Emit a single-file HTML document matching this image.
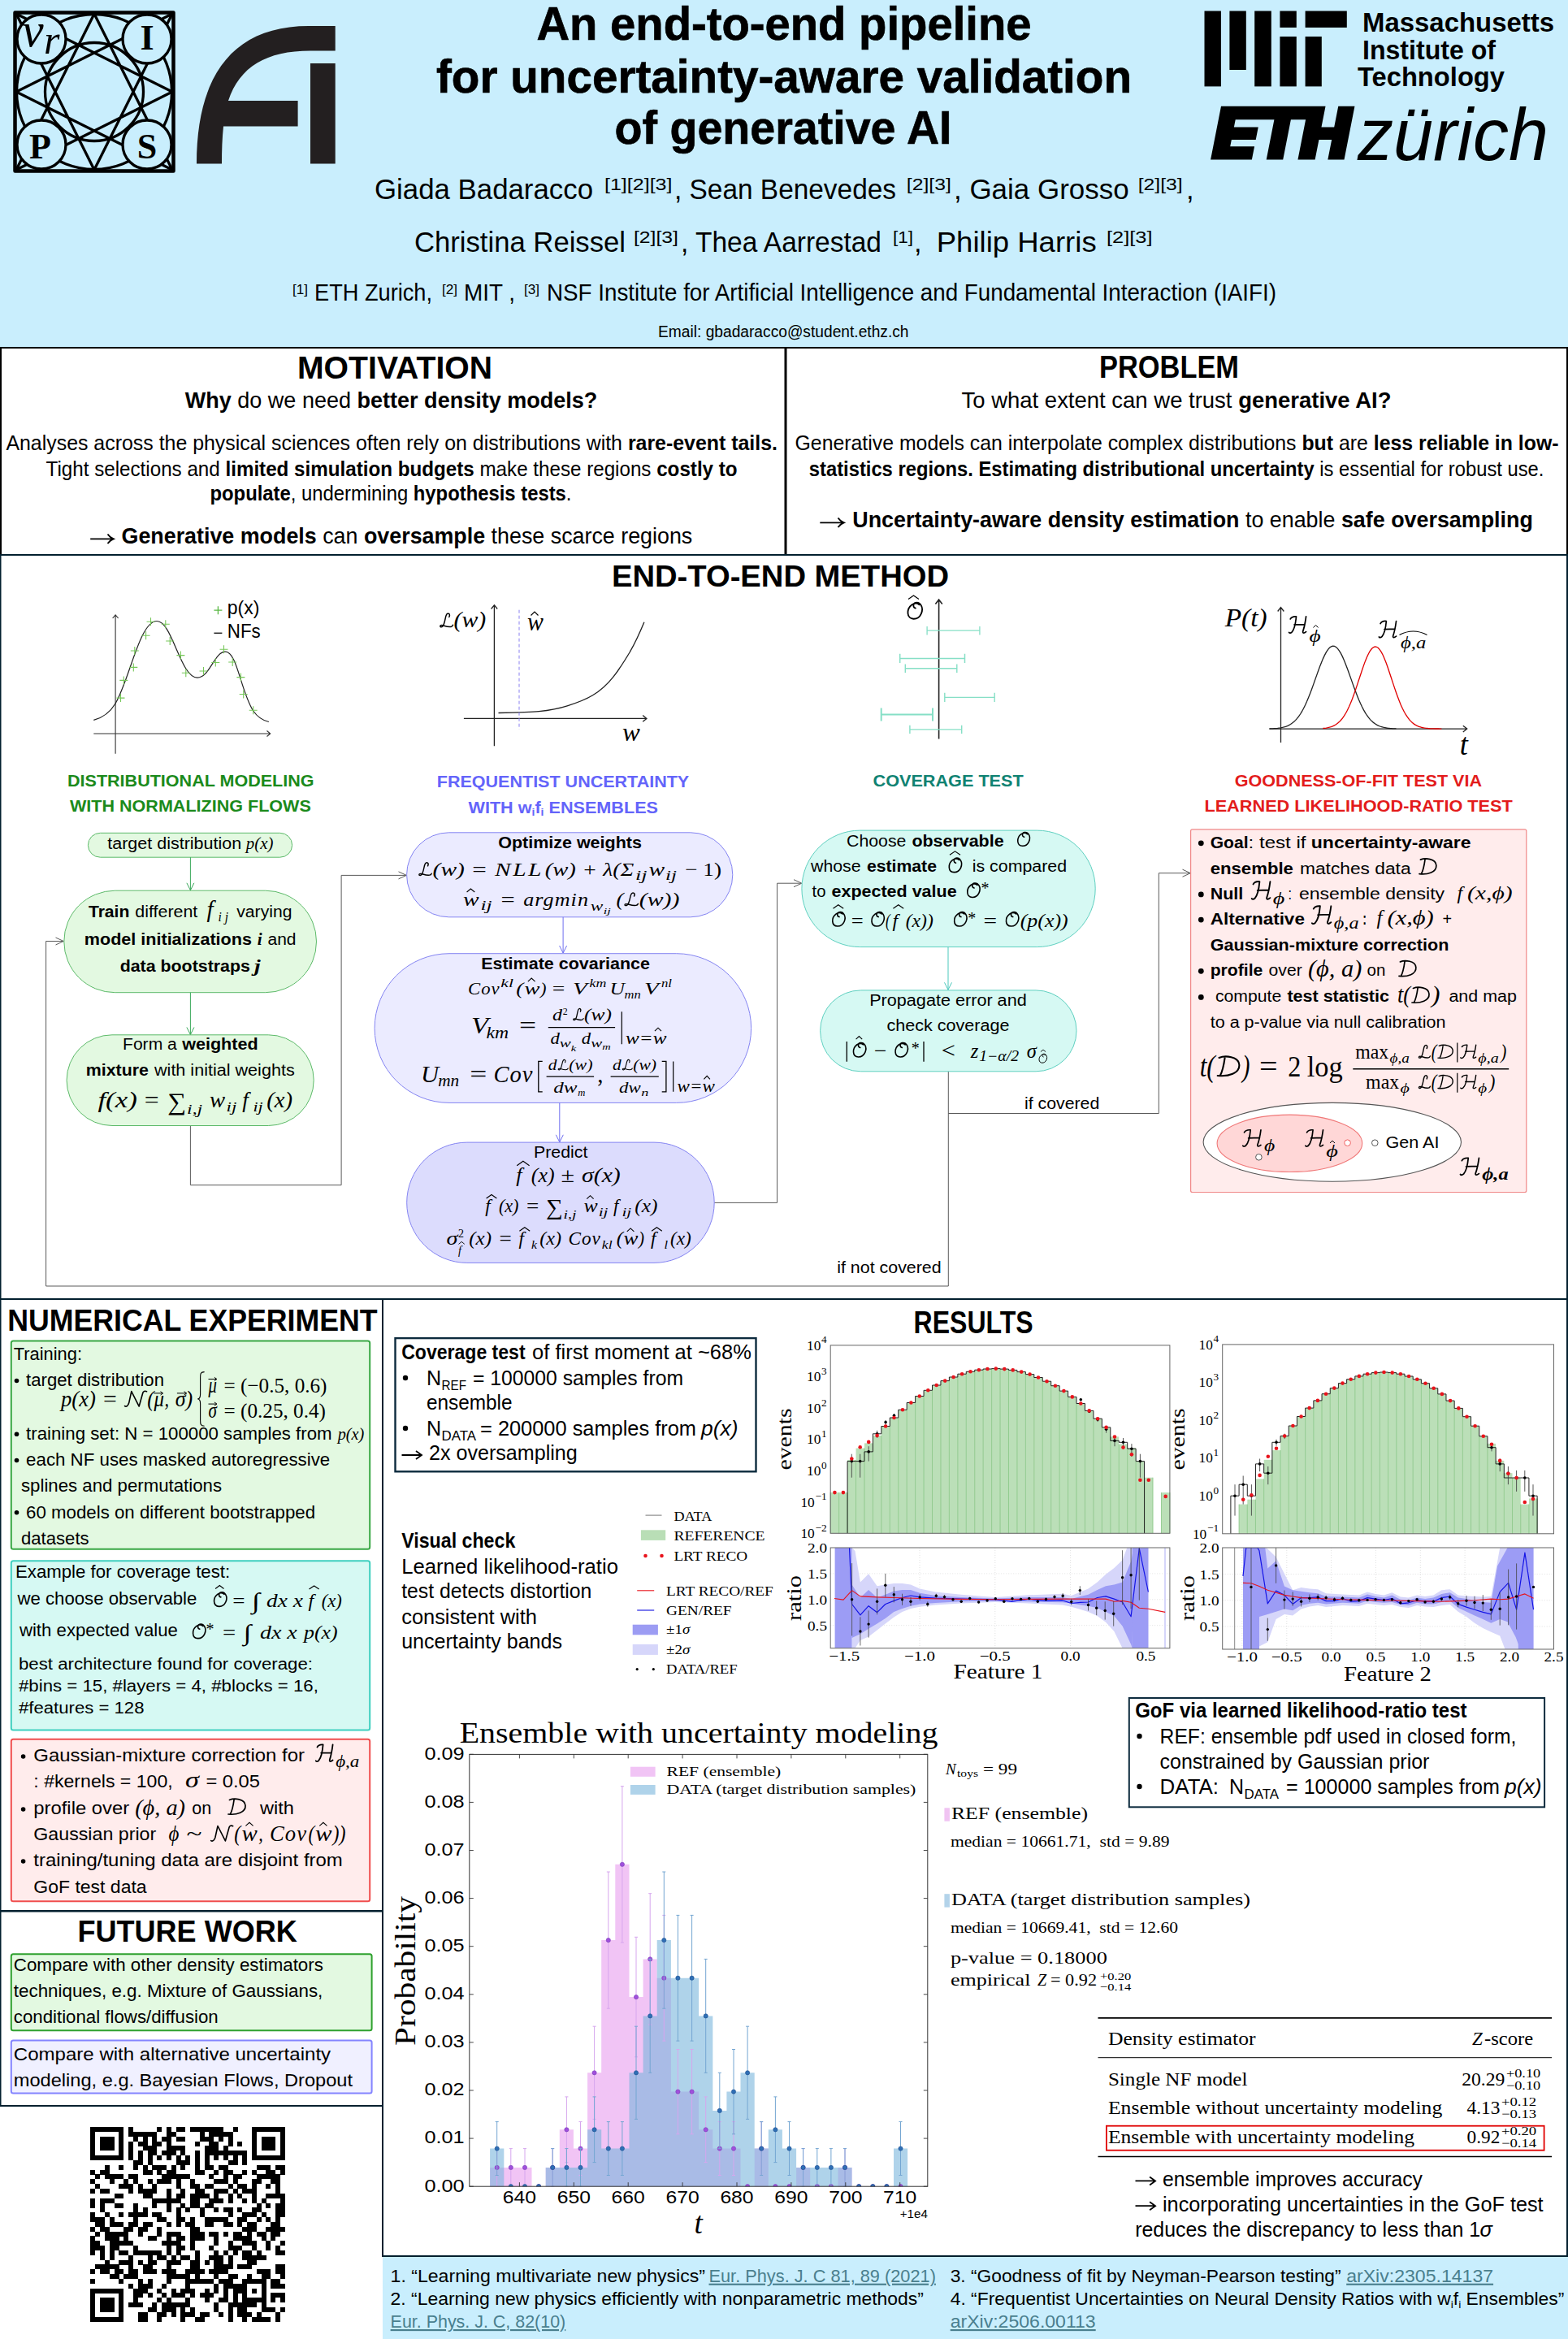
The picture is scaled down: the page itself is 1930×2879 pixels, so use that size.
<!DOCTYPE html>
<html lang="en"><head><meta charset="utf-8"><title>An end-to-end pipeline for uncertainty-aware validation of generative AI</title>
<style>
html,body{margin:0;padding:0;background:#fff;}
body{width:1930px;height:2879px;overflow:hidden;font-family:"Liberation Sans",sans-serif;}
svg{display:block;position:absolute;left:0;top:0;}
svg text{white-space:pre;}
.s{font-family:"Liberation Sans",sans-serif;}
.r{font-family:"Liberation Serif",serif;}
.ri{font-family:"Liberation Serif",serif;font-style:italic;}
.b{font-weight:bold;}
.i{font-style:italic;}
</style></head><body>
<svg width="1930" height="2879" viewBox="0 0 1930 2879" class="s">
<!-- 00_frame.svg -->
<rect x="0" y="0" width="1930" height="2879" fill="#ffffff"/>
<rect x="0" y="0" width="1930" height="428" fill="#c9eefd"/>
<rect x="471" y="2777" width="1459" height="102" fill="#c9eefd"/>
<!-- borders -->
<g fill="#000">
<rect x="0" y="427" width="1930" height="2"/>
<rect x="965.5" y="427" width="3" height="256"/>
<rect x="0" y="427" width="2" height="256"/>
<rect x="1928" y="427" width="2" height="256"/>
</g>
<g fill="#03202f">
<rect x="0" y="682" width="1930" height="2"/>
<rect x="0" y="1598" width="1930" height="2"/>
<rect x="0" y="682" width="1.5" height="1911"/>
<rect x="1928" y="682" width="2" height="2096"/>
<rect x="470" y="1598" width="2" height="1180"/>
<rect x="0" y="2351" width="471" height="2.5"/>
<rect x="0" y="2591" width="471" height="2"/>
<rect x="471" y="2776" width="1459" height="2"/>
</g>

<!-- 10_header.svg -->
<!-- NuPhys logo -->
<g fill="none" stroke="#000" stroke-width="3.3" stroke-linejoin="round">
<rect x="18.5" y="15.5" width="195" height="195" stroke-width="4.5"/>
<circle cx="116" cy="113" r="95.5"/>
<circle cx="116" cy="113" r="60.5"/>
<path d="M116,17 L20,209 M116,17 L212,209 M116,209 L20,17 M116,209 L212,17 M20,113 L212,17 M20,113 L212,209 M212,113 L20,17 M212,113 L20,209"/>
</g>
<g fill="#c9eefd" stroke="#000" stroke-width="3.3">
<circle cx="51" cy="48" r="30"/><circle cx="181" cy="48" r="30"/><circle cx="51" cy="178" r="30"/><circle cx="181" cy="178" r="30"/>
</g>
<text x="27" y="56.5" class="ri" font-size="60">ν</text>
<text x="54" y="66" class="ri" font-size="50">r</text>
<text x="181" y="61" class="r b" font-size="44" text-anchor="middle">I</text>
<text x="49.5" y="195.2" class="r b" font-size="44" text-anchor="middle">P</text>
<text x="181" y="195.2" class="r b" font-size="44" text-anchor="middle">S</text>
<!-- FI logo -->
<path fill="#231f20" d="M242,201.5 C242,95 285,32 380,32 L412.7,32 L412.7,62.5 L382,62.5 C328,62.5 295,82 281,124 L366.6,124 L366.6,155.5 L275,155.5 C273.5,170 273,185 273,201.5 Z"/>
<rect fill="#231f20" x="382" y="78" width="30.7" height="123.5"/>
<!-- MIT logo -->
<g fill="#000">
<rect x="1482.5" y="13.5" width="20.4" height="92.9"/>
<rect x="1513.4" y="13.5" width="20.4" height="72.5"/>
<rect x="1544.2" y="13.5" width="20.6" height="92.9"/>
<rect x="1575.4" y="13.5" width="20.4" height="20.4"/>
<rect x="1575.4" y="45" width="20.4" height="61.4"/>
<rect x="1606.6" y="13.5" width="51.2" height="20.4"/>
<rect x="1606.6" y="45" width="20.2" height="61.4"/>
</g>
<g class="b" font-size="33.5" fill="#000">
<text x="1677" y="39" textLength="236" lengthAdjust="spacingAndGlyphs">Massachusetts</text>
<text x="1677" y="72.5" textLength="164" lengthAdjust="spacingAndGlyphs">Institute of</text>
<text x="1671" y="106.3" textLength="181" lengthAdjust="spacingAndGlyphs">Technology</text>
</g>
<!-- ETH logo -->
<g transform="translate(1480,120) scale(0.28062)">
<path fill="#000" transform="matrix(1 0 -0.196 1 7.45 0)" d="M82,38 H540 V130 H596 V38 H668 V273 H596 V185 H540 V273 H464.6 V97 H399.6 V273 H326.6 V97 H156.6 V130 H263 V185 H156.6 V215 H263 V273 H82 Z"/>
</g>
<text x="1671" y="196.6" class="i" font-size="90" textLength="235" lengthAdjust="spacingAndGlyphs">zürich</text>
<!-- Title -->
<g class="b" font-size="58" text-anchor="middle" fill="#000" stroke="#000" stroke-width="0.7">
<text x="965" y="48.8" textLength="609" lengthAdjust="spacingAndGlyphs">An end-to-end pipeline</text>
<text x="965" y="113.7" textLength="856" lengthAdjust="spacingAndGlyphs">for uncertainty-aware validation</text>
<text x="964" y="176.8" textLength="415" lengthAdjust="spacingAndGlyphs">of generative AI</text>
</g>

<!-- 11_header_text.svg -->
<!-- Authors -->
<g font-size="34.5" fill="#000">
<text x="461" y="244.8" textLength="269" lengthAdjust="spacingAndGlyphs">Giada Badaracco</text>
<text x="744" y="233.8" font-size="20.5" textLength="83.5" lengthAdjust="spacingAndGlyphs">[1][2][3]</text>
<text x="830" y="244.8" textLength="273" lengthAdjust="spacingAndGlyphs">, Sean Benevedes</text>
<text x="1115.8" y="233.8" font-size="20.5" textLength="55" lengthAdjust="spacingAndGlyphs">[2][3]</text>
<text x="1174" y="244.8" textLength="215.6" lengthAdjust="spacingAndGlyphs">, Gaia Grosso</text>
<text x="1400.7" y="233.8" font-size="20.5" textLength="55" lengthAdjust="spacingAndGlyphs">[2][3]</text>
<text x="1460" y="244.8">,</text>
<text x="510" y="310.4" textLength="260" lengthAdjust="spacingAndGlyphs">Christina Reissel</text>
<text x="780" y="299.4" font-size="20.5" textLength="55" lengthAdjust="spacingAndGlyphs">[2][3]</text>
<text x="838" y="310.4" textLength="247" lengthAdjust="spacingAndGlyphs">, Thea Aarrestad</text>
<text x="1099" y="299.4" font-size="20.5" textLength="25" lengthAdjust="spacingAndGlyphs">[1]</text>
<text x="1125" y="310.4">,</text>
<text x="1152.7" y="310.4" textLength="197" lengthAdjust="spacingAndGlyphs">Philip Harris</text>
<text x="1362" y="299.4" font-size="20.5" textLength="56.5" lengthAdjust="spacingAndGlyphs">[2][3]</text>
</g>
<!-- Affiliations -->
<g font-size="29.5" fill="#000">
<text x="360" y="361.7" font-size="16.5" textLength="19" lengthAdjust="spacingAndGlyphs">[1]</text>
<text x="387" y="370" textLength="145" lengthAdjust="spacingAndGlyphs">ETH Zurich,</text>
<text x="544" y="361.7" font-size="16.5" textLength="19" lengthAdjust="spacingAndGlyphs">[2]</text>
<text x="571" y="370" textLength="63" lengthAdjust="spacingAndGlyphs">MIT ,</text>
<text x="645" y="361.7" font-size="16.5" textLength="19" lengthAdjust="spacingAndGlyphs">[3]</text>
<text x="673" y="370" textLength="898" lengthAdjust="spacingAndGlyphs">NSF Institute for Artificial Intelligence and Fundamental Interaction (IAIFI)</text>
</g>
<text x="810" y="414.7" font-size="19.5" textLength="308.5" lengthAdjust="spacingAndGlyphs">Email: gbadaracco@student.ethz.ch</text>

<!-- 20_motivation.svg -->
<g fill="#000">
<text x="486" y="466" font-size="38.5" class="b" text-anchor="middle" textLength="240" lengthAdjust="spacingAndGlyphs">MOTIVATION</text>
<text x="227.7" y="501.8" font-size="28" textLength="507.7" lengthAdjust="spacingAndGlyphs"><tspan class="b">Why</tspan> do we need <tspan class="b">better density models?</tspan></text>
<g font-size="25.5">
<text x="7.4" y="554" textLength="949.6" lengthAdjust="spacingAndGlyphs">Analyses across the physical sciences often rely on distributions with <tspan class="b">rare-event tails.</tspan></text>
<text x="56.6" y="586" textLength="851" lengthAdjust="spacingAndGlyphs">Tight selections and <tspan class="b">limited simulation budgets</tspan> make these regions <tspan class="b">costly to</tspan></text>
<text x="258.5" y="615.7" textLength="445" lengthAdjust="spacingAndGlyphs"><tspan class="b">populate</tspan>, undermining <tspan class="b">hypothesis tests</tspan>.</text>
</g>
<path d="M111.2,663.3 H139 M132.5,657.6 Q135,661.5 139.8,663.3 Q135,665.1 132.5,669" fill="none" stroke="#000" stroke-width="1.8"/>
<text x="149.5" y="669" font-size="28" textLength="702.8" lengthAdjust="spacingAndGlyphs"><tspan class="b">Generative models</tspan> can <tspan class="b">oversample</tspan> these scarce regions</text>

<text x="1439" y="464.5" font-size="38.5" class="b" text-anchor="middle" textLength="172" lengthAdjust="spacingAndGlyphs">PROBLEM</text>
<text x="1183.5" y="501.8" font-size="28" textLength="529" lengthAdjust="spacingAndGlyphs">To what extent can we trust <tspan class="b">generative AI?</tspan></text>
<g font-size="25.5">
<text x="978.5" y="554" textLength="940" lengthAdjust="spacingAndGlyphs">Generative models can interpolate complex distributions <tspan class="b">but</tspan> are <tspan class="b">less reliable in low-</tspan></text>
<text x="995.8" y="586" textLength="904.6" lengthAdjust="spacingAndGlyphs"><tspan class="b">statistics regions. Estimating distributional uncertainty</tspan> is essential for robust use.</text>
</g>
<path d="M1009.3,643.3 H1038 M1031.5,637.6 Q1034,641.5 1038.8,643.3 Q1034,645.1 1031.5,649" fill="none" stroke="#000" stroke-width="1.8"/>
<text x="1049.3" y="649" font-size="28" textLength="837.5" lengthAdjust="spacingAndGlyphs"><tspan class="b">Uncertainty-aware density estimation</tspan> to enable <tspan class="b">safe oversampling</tspan></text>
</g>

<!-- 30_method_a.svg -->
<text x="960.5" y="721.9" font-size="36.7" class="b" text-anchor="middle" textLength="415" lengthAdjust="spacingAndGlyphs">END-TO-END METHOD</text>
<g fill="none" stroke="#333" stroke-width="1.1">
<path d="M142.1,927.8 V757 M138.6,761 L142.1,756.8 L145.6,761"/>
<path d="M115.3,903 H332.5 M328.5,899.5 L332.7,903 L328.5,906.5"/>
<path d="M115.3,886.4 C128,883 136,876 142,866 C160,835 172,764.5 193.1,764.5 C212,764.5 222,834.1 242.9,834.1 C258,834.1 264,802.2 277.3,802.2 C292,802.2 296,850 311.7,875 C318,884 324,887 330.9,888.5" stroke="#222" stroke-width="1.2"/>
</g>
<path d="M143.5,859.1 h10 M148.5,854.1 v10 M147.3,837.4 h10 M152.3,832.4 v10 M159.3,821.4 h10 M164.3,816.4 v10 M160.8,801.0 h10 M165.8,796.0 v10 M174.6,782.3 h10 M179.6,777.3 v10 M180.5,765.3 h10 M185.5,760.3 v10 M198.8,768.3 h10 M203.8,763.3 v10 M204.2,789.0 h10 M209.2,784.0 v10 M217.4,806.6 h10 M222.4,801.6 v10 M223.8,828.3 h10 M228.8,823.3 v10 M245.5,826.0 h10 M250.5,821.0 v10 M260.3,815.5 h10 M265.3,810.5 v10 M270.5,799.2 h10 M275.5,794.2 v10 M281.2,815.0 h10 M286.2,810.0 v10 M291.4,833.6 h10 M296.4,828.6 v10 M294.7,854.5 h10 M299.7,849.5 v10 M306.7,874.2 h10 M311.7,869.2 v10 " stroke="#77c85a" stroke-width="1.1" fill="none"/>
<path d="M263.4,751.2 h10 M268.4,746.2 v10" stroke="#5ab844" stroke-width="1.3" fill="none"/>
<path d="M263.4,779.3 h10" stroke="#222" stroke-width="1.5" fill="none"/>
<text x="279.8" y="755.8" font-size="24" textLength="39.6" lengthAdjust="spacingAndGlyphs">p(x)</text>
<text x="279.8" y="784.9" font-size="24" textLength="40.9" lengthAdjust="spacingAndGlyphs">NFs</text>
<text x="83" y="968" font-size="20" class="b" fill="#1b8a1b" textLength="303.5" lengthAdjust="spacingAndGlyphs">DISTRIBUTIONAL MODELING</text>
<text x="86" y="998.8" font-size="20" class="b" fill="#1b8a1b" textLength="296.8" lengthAdjust="spacingAndGlyphs">WITH NORMALIZING FLOWS</text>
<g fill="none" stroke="#222" stroke-width="1.3">
<path d="M608.4,918.3 V745 M604.6,749.5 L608.4,744.8 L612.2,749.5"/>
<path d="M570.9,884.4 H795.7 M791.2,880.6 L795.9,884.4 L791.2,888.2"/>
<path d="M613.5,877.5 C640,877 655,876.5 663.3,875.7 C680,874 690,871.5 699,868.6 C712,864.5 721,861 729.6,855.8 C740,849.5 748,842 755.1,832.9 C763,823 769,813 775.5,802.2 C782,791 787,780 792.9,765.8"/>
<path d="M639,750.7 V897.9" stroke="#8a80f0" stroke-width="1" stroke-dasharray="4,3"/>
</g>
<path transform="translate(541,772.1) scale(0.1964,0.1750)" d="M60,-72 C70,-96 52,-104 44,-90 C34,-72 36,-30 20,-8 C12,2 0,-2 6,-12 C14,-24 40,2 72,-4 C78,-5 82,-10 84,-16" fill="none" stroke="#000" stroke-width="1.5" vector-effect="non-scaling-stroke" stroke-linecap="round" stroke-linejoin="round"/>
<text x="558.5" y="772.1" font-size="28" class="ri" textLength="39.7" lengthAdjust="spacingAndGlyphs">(w)</text>
<text x="649" y="776.2" font-size="31" class="ri" textLength="19.9" lengthAdjust="spacingAndGlyphs">w</text>
<path d="M653.5,757.5 L658,753 L662.5,757.5" fill="none" stroke="#000" stroke-width="1.2" stroke-linejoin="miter"/>
<text x="766" y="912.4" font-size="31" class="ri" textLength="21.8" lengthAdjust="spacingAndGlyphs">w</text>
<text x="537.8" y="969.3" font-size="20" class="b" fill="#6464fa" textLength="310.4" lengthAdjust="spacingAndGlyphs">FREQUENTIST UNCERTAINTY</text>
<text x="576.5" y="1000.7" font-size="20" class="b" fill="#6464fa" textLength="233.5" lengthAdjust="spacingAndGlyphs">WITH w<tspan font-size="13" dy="3">i</tspan><tspan dy="-3">f</tspan><tspan font-size="13" dy="3">i</tspan><tspan dy="-3"> ENSEMBLES</tspan></text>
<path d="M1155.6,909.4 V738.3 M1151.4,743.5 L1155.6,738 L1159.8,743.5" fill="none" stroke="#222" stroke-width="1.6"/>
<path d="M1141.1,776.2 H1205.9 M1141.1,771.0 v10.4 M1205.9,771.0 v10.4" fill="none" stroke="#86dfc6" stroke-width="1.3"/>
<path d="M1107.7,810.4 H1187.5 M1107.7,804.8 v11.2 M1187.5,804.8 v11.2" fill="none" stroke="#86dfc6" stroke-width="1.5"/>
<path d="M1114.3,822.7 H1177.8 M1114.3,817.5 v10.4 M1177.8,817.5 v10.4" fill="none" stroke="#86dfc6" stroke-width="1.4"/>
<path d="M1162.8,858.4 H1224.2 M1162.8,852.8 v11.2 M1224.2,852.8 v11.2" fill="none" stroke="#86dfc6" stroke-width="1.4"/>
<path d="M1084.7,879.5 H1148.0 M1084.7,871.5 v16.0 M1148.0,871.5 v16.0" fill="none" stroke="#86dfc6" stroke-width="2.0"/>
<path d="M1119.9,897.9 H1183.7 M1119.9,892.7 v10.4 M1183.7,892.7 v10.4" fill="none" stroke="#86dfc6" stroke-width="1.4"/>
<path transform="translate(1116,762.5) scale(0.2487,0.2108)" d="M62,-86 C40,-108 4,-78 6,-36 C8,6 56,8 72,-34 C86,-72 66,-104 44,-98 C30,-94 30,-70 44,-66" fill="none" stroke="#000" stroke-width="1.8" vector-effect="non-scaling-stroke" stroke-linecap="round" stroke-linejoin="round"/>
<path d="M1118,737.5 L1124.5,733 L1131,737.5" fill="none" stroke="#000" stroke-width="1.2" stroke-linejoin="miter"/>
<text x="1074.5" y="968.1" font-size="20" class="b" fill="#0f8272" textLength="185.2" lengthAdjust="spacingAndGlyphs">COVERAGE TEST</text>
<g fill="none" stroke="#222" stroke-width="1.3">
<path d="M1576.5,913.9 V747.8 M1572.7,752.5 L1576.5,747.5 L1580.3,752.5"/>
<path d="M1562.4,897.1 H1805.5 M1800.8,893.3 L1805.7,897.1 L1800.8,900.9"/>
<path d="M1562.5,896.9 L1564.5,896.9 L1566.5,896.8 L1568.5,896.7 L1570.5,896.6 L1572.5,896.4 L1574.5,896.1 L1576.5,895.8 L1578.5,895.4 L1580.5,894.9 L1582.5,894.3 L1584.5,893.6 L1586.5,892.6 L1588.5,891.5 L1590.5,890.1 L1592.5,888.5 L1594.5,886.6 L1596.5,884.4 L1598.5,881.9 L1600.5,879.0 L1602.5,875.7 L1604.5,872.0 L1606.5,868.0 L1608.5,863.6 L1610.5,858.8 L1612.5,853.7 L1614.5,848.4 L1616.5,842.9 L1618.5,837.3 L1620.5,831.6 L1622.5,826.0 L1624.5,820.6 L1626.5,815.4 L1628.5,810.6 L1630.5,806.4 L1632.5,802.7 L1634.5,799.6 L1636.5,797.3 L1638.5,795.9 L1640.5,795.2 L1642.5,795.4 L1644.5,796.5 L1646.5,798.4 L1648.5,801.1 L1650.5,804.4 L1652.5,808.4 L1654.5,813.0 L1656.5,818.0 L1658.5,823.3 L1660.5,828.8 L1662.5,834.4 L1664.5,840.1 L1666.5,845.7 L1668.5,851.1 L1670.5,856.3 L1672.5,861.2 L1674.5,865.8 L1676.5,870.0 L1678.5,873.9 L1680.5,877.4 L1682.5,880.5 L1684.5,883.2 L1686.5,885.6 L1688.5,887.6 L1690.5,889.4 L1692.5,890.8 L1694.5,892.1 L1696.5,893.1 L1698.5,894.0 L1700.5,894.6 L1702.5,895.2 L1704.5,895.6 L1706.5,896.0 L1708.5,896.3 L1710.5,896.5 L1712.5,896.6 L1714.5,896.8 L1716.5,896.8 L1718.5,896.9"/>
<path d="M1628.4,896.5 L1630.4,896.3 L1632.4,896.1 L1634.4,895.7 L1636.4,895.2 L1638.4,894.6 L1640.4,893.9 L1642.4,892.9 L1644.4,891.8 L1646.4,890.3 L1648.4,888.6 L1650.4,886.5 L1652.4,884.1 L1654.4,881.2 L1656.4,878.0 L1658.4,874.3 L1660.4,870.1 L1662.4,865.5 L1664.4,860.5 L1666.4,855.1 L1668.4,849.4 L1670.4,843.4 L1672.4,837.3 L1674.4,831.2 L1676.4,825.2 L1678.4,819.4 L1680.4,813.9 L1682.4,809.0 L1684.4,804.7 L1686.4,801.2 L1688.4,798.5 L1690.4,796.8 L1692.4,796.0 L1694.4,796.3 L1696.4,797.5 L1698.4,799.8 L1700.4,802.9 L1702.4,806.8 L1704.4,811.4 L1706.4,816.6 L1708.4,822.2 L1710.4,828.2 L1712.4,834.2 L1714.4,840.4 L1716.4,846.4 L1718.4,852.3 L1720.4,857.8 L1722.4,863.0 L1724.4,867.9 L1726.4,872.2 L1728.4,876.2 L1730.4,879.7 L1732.4,882.7 L1734.4,885.4 L1736.4,887.6 L1738.4,889.5 L1740.4,891.1 L1742.4,892.4 L1744.4,893.4 L1746.4,894.3 L1748.4,894.9 L1750.4,895.5 L1752.4,895.9 L1754.4,896.2 L1756.4,896.4 L1758.4,896.6 L1760.4,896.8 L1762.4,896.9 L1764.4,896.9 L1766.4,897.0 L1768.4,897.0 L1770.4,897.0 L1772.4,897.1 L1774.4,897.1" stroke="#e00000"/>
</g>
<text x="1507.7" y="771.4" font-size="32" class="ri" textLength="51.9" lengthAdjust="spacingAndGlyphs">P(t)</text>
<path transform="translate(1587.3,779.2) scale(0.2413,0.2050)" d="M4,-84 C10,-98 24,-100 34,-99 C31,-60 24,-22 12,-6 C8,0 0,2 -3,-4 M24,-50 L78,-52 M84,-99 C80,-62 74,-30 68,-10 C66,0 72,4 84,-8" fill="none" stroke="#000" stroke-width="1.7" vector-effect="non-scaling-stroke" stroke-linecap="round" stroke-linejoin="round"/>
<text x="1611.5" y="789.5" font-size="22" class="ri" textLength="14.1" lengthAdjust="spacingAndGlyphs">ϕ</text>
<path d="M1616.5,772.5 L1619.5,769.5 L1622.5,772.5" fill="none" stroke="#000" stroke-width="1" stroke-linejoin="miter"/>
<path transform="translate(1698.1,784.8) scale(0.2435,0.2050)" d="M4,-84 C10,-98 24,-100 34,-99 C31,-60 24,-22 12,-6 C8,0 0,2 -3,-4 M24,-50 L78,-52 M84,-99 C80,-62 74,-30 68,-10 C66,0 72,4 84,-8" fill="none" stroke="#000" stroke-width="1.7" vector-effect="non-scaling-stroke" stroke-linecap="round" stroke-linejoin="round"/>
<text x="1724" y="798" font-size="22" class="ri" textLength="31.2" lengthAdjust="spacingAndGlyphs">ϕ,a</text>
<path d="M1722.5,781.5 Q1739.5,772.5 1756.5,781.5" fill="none" stroke="#000" stroke-width="1.2"/>
<text x="1796.7" y="928.5" font-size="38" class="ri" textLength="10.1" lengthAdjust="spacingAndGlyphs">t</text>
<text x="1519.8" y="967.8" font-size="20" class="b" fill="#e31b1b" textLength="304.2" lengthAdjust="spacingAndGlyphs">GOODNESS-OF-FIT TEST VIA</text>
<text x="1482.4" y="998.7" font-size="20" class="b" fill="#e31b1b" textLength="379.4" lengthAdjust="spacingAndGlyphs">LEARNED LIKELIHOOD-RATIO TEST</text>
<g fill="none" stroke="#5a5a5a" stroke-width="1">
<path d="M1167.3,1318.8 V1583 H56.6 V1158.5 H77.5"/>
<path d="M68.5,1154 L78.3,1158.5 L68.5,1163"/>
<path d="M234.4,1385.5 V1458.7 H420.1 V1077.4 H499.5"/>
<path d="M490.5,1072.9 L500.3,1077.4 L490.5,1081.9"/>
<path d="M879.2,1480.4 H956.6 V1087.2 H986"/>
<path d="M977,1082.7 L986.8,1087.2 L977,1091.7"/>
<path d="M1167.3,1370.5 H1426.3 V1074.7 H1464.5"/>
<path d="M1455.5,1070.2 L1465.3,1074.7 L1455.5,1079.2"/>
</g>
<text x="1261" y="1365.3" font-size="20" textLength="92.3" lengthAdjust="spacingAndGlyphs">if covered</text>
<text x="1030.2" y="1566.8" font-size="20" textLength="128.5" lengthAdjust="spacingAndGlyphs">if not covered</text>
<rect x="108.4" y="1025.3" width="251.2" height="29.9" rx="15" ry="15" fill="#e3f9e1" stroke="#5dba6a" stroke-width="1"/>
<text x="132.3" y="1045" font-size="20" textLength="164.8" lengthAdjust="spacingAndGlyphs">target distribution</text>
<text x="302.8" y="1045" font-size="20" class="ri" textLength="33.6" lengthAdjust="spacingAndGlyphs">p(x)</text>
<path d="M234.4,1055.2 V1095.8 M229.9,1086.8 L234.4,1095.8 L238.9,1086.8" fill="none" stroke="#3aa85a" stroke-width="1"/>
<rect x="78.8" y="1096.2" width="310.7" height="125.5" rx="62.8" ry="62.8" fill="#e3f9e1" stroke="#5dba6a" stroke-width="1"/>
<text x="108.9" y="1129.4" font-size="20" class="b" textLength="50.5" lengthAdjust="spacingAndGlyphs">Train</text>
<text x="166.3" y="1129.4" font-size="20" textLength="77" lengthAdjust="spacingAndGlyphs">different</text>
<text x="254.5" y="1129.4" font-size="29" class="ri">f</text>
<text x="268.5" y="1134" font-size="17" class="ri" textLength="12.5" lengthAdjust="spacingAndGlyphs">i j</text>
<text x="291.3" y="1129.4" font-size="20" textLength="68.1" lengthAdjust="spacingAndGlyphs">varying</text>
<text x="103.8" y="1162.6" font-size="20" class="b" textLength="206.1" lengthAdjust="spacingAndGlyphs">model initializations</text>
<text x="316.8" y="1162.6" font-size="22" class="ri b" textLength="5.9" lengthAdjust="spacingAndGlyphs">i</text>
<text x="329.5" y="1162.6" font-size="20" textLength="35" lengthAdjust="spacingAndGlyphs">and</text>
<text x="147.7" y="1195.7" font-size="20" class="b" textLength="160.2" lengthAdjust="spacingAndGlyphs">data bootstraps</text>
<text x="313" y="1195.7" font-size="22" class="ri b" textLength="7.7" lengthAdjust="spacingAndGlyphs">j</text>
<path d="M234.4,1221.7 V1273.5 M229.9,1264.5 L234.4,1273.5 L238.9,1264.5" fill="none" stroke="#3aa85a" stroke-width="1"/>
<rect x="82.1" y="1273.8" width="304.1" height="111.7" rx="55.9" ry="55.9" fill="#e3f9e1" stroke="#5dba6a" stroke-width="1"/>
<text x="151" y="1292.1" font-size="20" textLength="66.8" lengthAdjust="spacingAndGlyphs">Form a</text>
<text x="224.2" y="1292.1" font-size="20" class="b" textLength="93.4" lengthAdjust="spacingAndGlyphs">weighted</text>
<text x="105.8" y="1323.5" font-size="20" class="b" textLength="77.1" lengthAdjust="spacingAndGlyphs">mixture</text>
<text x="190" y="1323.5" font-size="20" textLength="172.7" lengthAdjust="spacingAndGlyphs">with initial weights</text>
<text x="120.4" y="1362.6" font-size="27" class="ri" textLength="48.5" lengthAdjust="spacingAndGlyphs">f(x)</text>
<text x="177.8" y="1362.6" font-size="27" class="r" textLength="17.9" lengthAdjust="spacingAndGlyphs">=</text>
<text x="206.3" y="1365.6" font-size="30" class="r" textLength="23" lengthAdjust="spacingAndGlyphs">∑</text>
<text x="230.1" y="1370.6" font-size="17" class="ri" textLength="19.1" lengthAdjust="spacingAndGlyphs">i,j</text>
<text x="258.1" y="1362.6" font-size="27" class="ri" textLength="19.1" lengthAdjust="spacingAndGlyphs">w</text>
<text x="278.5" y="1367.6" font-size="17" class="ri" textLength="12.8" lengthAdjust="spacingAndGlyphs">ij</text>
<text x="298.2" y="1362.6" font-size="27" class="ri">f</text>
<text x="311.4" y="1367.6" font-size="17" class="ri" textLength="12.2" lengthAdjust="spacingAndGlyphs">ij</text>
<text x="328.3" y="1362.6" font-size="27" class="ri" textLength="31.9" lengthAdjust="spacingAndGlyphs">(x)</text>

<!-- 31_method_b.svg -->
<rect x="500.6" y="1024.8" width="401.2" height="104" rx="52" ry="52" fill="#ebebff" stroke="#8484f2" stroke-width="1"/>
<text x="613.2" y="1044.4" font-size="20" class="b" textLength="176.7" lengthAdjust="spacingAndGlyphs">Optimize weights</text>
<path transform="translate(515,1077.8) scale(0.1927,0.1650)" d="M60,-72 C70,-96 52,-104 44,-90 C34,-72 36,-30 20,-8 C12,2 0,-2 6,-12 C14,-24 40,2 72,-4 C78,-5 82,-10 84,-16" fill="none" stroke="#000" stroke-width="1.4" vector-effect="non-scaling-stroke" stroke-linecap="round" stroke-linejoin="round"/>
<text x="532.6" y="1077.8" font-size="24" class="ri" textLength="39.3" lengthAdjust="spacingAndGlyphs">(w)</text>
<text x="581.2" y="1077.8" font-size="24" class="r" textLength="17.6" lengthAdjust="spacingAndGlyphs">=</text>
<text x="609.1" y="1077.8" font-size="24" class="ri" textLength="59.9" lengthAdjust="spacingAndGlyphs" letter-spacing="2">NLL</text>
<text x="670.7" y="1077.8" font-size="24" class="ri" textLength="38.2" lengthAdjust="spacingAndGlyphs">(w)</text>
<text x="718.2" y="1077.8" font-size="24" class="r" textLength="15.5" lengthAdjust="spacingAndGlyphs">+</text>
<text x="742.3" y="1077.8" font-size="24" class="ri" textLength="37.9" lengthAdjust="spacingAndGlyphs">λ(Σ</text>
<text x="781.9" y="1082.8" font-size="16" class="ri" textLength="14.5" lengthAdjust="spacingAndGlyphs">ij</text>
<text x="798.5" y="1077.8" font-size="24" class="ri" textLength="19.6" lengthAdjust="spacingAndGlyphs">w</text>
<text x="819.1" y="1082.8" font-size="16" class="ri" textLength="13.8" lengthAdjust="spacingAndGlyphs">ij</text>
<text x="843.2" y="1077.8" font-size="24" class="r" textLength="44.8" lengthAdjust="spacingAndGlyphs">− 1)</text>
<text x="570.1" y="1115" font-size="24" class="ri" textLength="19.6" lengthAdjust="spacingAndGlyphs">w</text>
<path d="M574.6,1098 L579.4,1094 L584.3,1098" fill="none" stroke="#000" stroke-width="1.1" stroke-linejoin="miter"/>
<text x="591.5" y="1120" font-size="16" class="ri" textLength="14.1" lengthAdjust="spacingAndGlyphs">ij</text>
<text x="616.6" y="1115" font-size="24" class="r" textLength="17.2" lengthAdjust="spacingAndGlyphs">=</text>
<text x="644.2" y="1115" font-size="24" class="ri" textLength="80.9" lengthAdjust="spacingAndGlyphs" letter-spacing="1">argmin</text>
<text x="726.8" y="1121" font-size="16" class="ri" textLength="15.5" lengthAdjust="spacingAndGlyphs">w</text>
<text x="742.7" y="1125" font-size="11" class="ri" textLength="9" lengthAdjust="spacingAndGlyphs">ij</text>
<text x="758.5" y="1115" font-size="24" class="ri" textLength="9" lengthAdjust="spacingAndGlyphs">(</text>
<path transform="translate(768.2,1115) scale(0.2050,0.1650)" d="M60,-72 C70,-96 52,-104 44,-90 C34,-72 36,-30 20,-8 C12,2 0,-2 6,-12 C14,-24 40,2 72,-4 C78,-5 82,-10 84,-16" fill="none" stroke="#000" stroke-width="1.4" vector-effect="non-scaling-stroke" stroke-linecap="round" stroke-linejoin="round"/>
<text x="786.8" y="1115" font-size="24" class="ri" textLength="49.6" lengthAdjust="spacingAndGlyphs">(w))</text>
<path d="M693.1,1128.8 V1173 M688.6,1164 L693.1,1173 L697.6,1164" fill="none" stroke="#7070f0" stroke-width="1"/>
<rect x="461.1" y="1173.7" width="463.5" height="183.7" rx="91.9" ry="91.9" fill="#ebebff" stroke="#8484f2" stroke-width="1"/>
<text x="592.2" y="1192.5" font-size="20" class="b" textLength="207.8" lengthAdjust="spacingAndGlyphs">Estimate covariance</text>
<text x="576" y="1224.1" font-size="22" class="ri" textLength="39.7" lengthAdjust="spacingAndGlyphs" letter-spacing="1">Cov</text>
<text x="616.3" y="1215.1" font-size="15" class="ri" textLength="15.6" lengthAdjust="spacingAndGlyphs">kl</text>
<text x="635.2" y="1224.1" font-size="22" class="ri" textLength="9.1" lengthAdjust="spacingAndGlyphs">(</text>
<text x="645.6" y="1224.1" font-size="22" class="ri" textLength="18.9" lengthAdjust="spacingAndGlyphs">w</text>
<path d="M649.8,1208.1 L654.2,1204.1 L658.6,1208.1" fill="none" stroke="#000" stroke-width="1.1" stroke-linejoin="miter"/>
<text x="665.1" y="1224.1" font-size="22" class="ri" textLength="7.5" lengthAdjust="spacingAndGlyphs">)</text>
<text x="679.7" y="1224.1" font-size="22" class="r" textLength="15.6" lengthAdjust="spacingAndGlyphs">=</text>
<text x="705.1" y="1224.1" font-size="22" class="ri" textLength="17.9" lengthAdjust="spacingAndGlyphs">V</text>
<text x="725.6" y="1215.1" font-size="15" class="ri" textLength="20.8" lengthAdjust="spacingAndGlyphs">km</text>
<text x="750.6" y="1224.1" font-size="22" class="ri" textLength="18.5" lengthAdjust="spacingAndGlyphs">U</text>
<text x="768.5" y="1229.1" font-size="15" class="ri" textLength="20.2" lengthAdjust="spacingAndGlyphs">mn</text>
<text x="792.9" y="1224.1" font-size="22" class="ri" textLength="17.9" lengthAdjust="spacingAndGlyphs">V</text>
<text x="814" y="1215.1" font-size="15" class="ri" textLength="13" lengthAdjust="spacingAndGlyphs">nl</text>
<text x="579.9" y="1272.2" font-size="30" class="ri" textLength="21.1" lengthAdjust="spacingAndGlyphs">V</text>
<text x="598.4" y="1278.2" font-size="21" class="ri" textLength="27.6" lengthAdjust="spacingAndGlyphs">km</text>
<text x="639.1" y="1272.2" font-size="30" class="r" textLength="21.1" lengthAdjust="spacingAndGlyphs">=</text>
<path d="M674.8,1264.7 H757.1" stroke="#000" stroke-width="1.2"/>
<text x="680" y="1256" font-size="21" class="ri" textLength="12" lengthAdjust="spacingAndGlyphs">d</text>
<text x="692.7" y="1249" font-size="13" class="r" textLength="5.9" lengthAdjust="spacingAndGlyphs">2</text>
<path transform="translate(705.1,1256) scale(0.1549,0.1500)" d="M60,-72 C70,-96 52,-104 44,-90 C34,-72 36,-30 20,-8 C12,2 0,-2 6,-12 C14,-24 40,2 72,-4 C78,-5 82,-10 84,-16" fill="none" stroke="#000" stroke-width="1.3" vector-effect="non-scaling-stroke" stroke-linecap="round" stroke-linejoin="round"/>
<text x="719.1" y="1256" font-size="21" class="ri" textLength="33.8" lengthAdjust="spacingAndGlyphs">(w)</text>
<text x="677.4" y="1285.2" font-size="21" class="ri" textLength="11.4" lengthAdjust="spacingAndGlyphs">d</text>
<text x="688.8" y="1289" font-size="15" class="ri" textLength="14" lengthAdjust="spacingAndGlyphs">w</text>
<text x="702.8" y="1293.5" font-size="11" class="ri" textLength="6.5" lengthAdjust="spacingAndGlyphs">k</text>
<text x="715.8" y="1285.2" font-size="21" class="ri" textLength="11.4" lengthAdjust="spacingAndGlyphs">d</text>
<text x="727.2" y="1289" font-size="15" class="ri" textLength="14" lengthAdjust="spacingAndGlyphs">w</text>
<text x="741.2" y="1292" font-size="11" class="ri" textLength="10.4" lengthAdjust="spacingAndGlyphs">m</text>
<path d="M765.3,1245.2 V1285.2" stroke="#000" stroke-width="1.2"/>
<text x="770.1" y="1285.2" font-size="22" class="ri" textLength="50.4" lengthAdjust="spacingAndGlyphs">w=w</text>
<path d="M805.9,1269.2 L810,1265.2 L814,1269.2" fill="none" stroke="#000" stroke-width="1.1" stroke-linejoin="miter"/>
<text x="518.1" y="1331.7" font-size="30" class="ri" textLength="22.1" lengthAdjust="spacingAndGlyphs">U</text>
<text x="539.2" y="1337.2" font-size="21" class="ri" textLength="26" lengthAdjust="spacingAndGlyphs">mn</text>
<text x="578.2" y="1331.7" font-size="30" class="r" textLength="21.1" lengthAdjust="spacingAndGlyphs">=</text>
<text x="607.5" y="1331.7" font-size="30" class="ri" textLength="48.8" lengthAdjust="spacingAndGlyphs" letter-spacing="1">Cov</text>
<path d="M667.7,1306.4 H662.8 V1343.8 H667.7" fill="none" stroke="#000" stroke-width="1.3"/>
<path d="M814.7,1306.4 H819.9 V1343.8 H814.7" fill="none" stroke="#000" stroke-width="1.3"/>
<path d="M672.6,1325.2 H731.1" stroke="#000" stroke-width="1.2"/>
<text x="674.8" y="1317.1" font-size="19" class="ri" textLength="10.7" lengthAdjust="spacingAndGlyphs">d</text>
<path transform="translate(686.5,1317.1) scale(0.1510,0.1300)" d="M60,-72 C70,-96 52,-104 44,-90 C34,-72 36,-30 20,-8 C12,2 0,-2 6,-12 C14,-24 40,2 72,-4 C78,-5 82,-10 84,-16" fill="none" stroke="#000" stroke-width="1.1" vector-effect="non-scaling-stroke" stroke-linecap="round" stroke-linejoin="round"/>
<text x="700.2" y="1317.1" font-size="19" class="ri" textLength="29.3" lengthAdjust="spacingAndGlyphs">(w)</text>
<text x="681.3" y="1344.7" font-size="19" class="ri" textLength="29.3" lengthAdjust="spacingAndGlyphs">dw</text>
<text x="711.3" y="1348.5" font-size="13" class="ri" textLength="9.1" lengthAdjust="spacingAndGlyphs">m</text>
<path d="M751.6,1325.2 H810.8" stroke="#000" stroke-width="1.2"/>
<text x="753.9" y="1317.1" font-size="19" class="ri" textLength="10.7" lengthAdjust="spacingAndGlyphs">d</text>
<path transform="translate(765.6,1317.1) scale(0.1510,0.1300)" d="M60,-72 C70,-96 52,-104 44,-90 C34,-72 36,-30 20,-8 C12,2 0,-2 6,-12 C14,-24 40,2 72,-4 C78,-5 82,-10 84,-16" fill="none" stroke="#000" stroke-width="1.1" vector-effect="non-scaling-stroke" stroke-linecap="round" stroke-linejoin="round"/>
<text x="779.2" y="1317.1" font-size="19" class="ri" textLength="28.9" lengthAdjust="spacingAndGlyphs">(w)</text>
<text x="762" y="1344.7" font-size="19" class="ri" textLength="26.7" lengthAdjust="spacingAndGlyphs">dw</text>
<text x="789.3" y="1348.5" font-size="13" class="ri" textLength="9.1" lengthAdjust="spacingAndGlyphs">n</text>
<text x="735.3" y="1331.7" font-size="30" class="r" textLength="7.2" lengthAdjust="spacingAndGlyphs">,</text>
<path d="M828.7,1306.4 V1343.8" stroke="#000" stroke-width="1.2"/>
<text x="833.6" y="1343.8" font-size="21" class="ri" textLength="46.2" lengthAdjust="spacingAndGlyphs">w=w</text>
<path d="M866.4,1328.3 L870.2,1324.3 L873.9,1328.3" fill="none" stroke="#000" stroke-width="1.1" stroke-linejoin="miter"/>
<path d="M688.8,1357.4 V1405.8 M684.3,1396.8 L688.8,1405.8 L693.3,1396.8" fill="none" stroke="#7070f0" stroke-width="1"/>
<rect x="500.7" y="1406.1" width="378.5" height="148.3" rx="74.2" ry="74.2" fill="#dcdcfd" stroke="#8484f2" stroke-width="1"/>
<text x="657" y="1425.3" font-size="20" textLength="66.3" lengthAdjust="spacingAndGlyphs">Predict</text>
<text x="635.3" y="1454.9" font-size="26" class="ri">f</text>
<path d="M636.2,1434.8 L643.9,1429.3 L651.6,1434.8" fill="none" stroke="#000" stroke-width="1.1" stroke-linejoin="miter"/>
<text x="653.8" y="1454.9" font-size="26" class="ri" textLength="28.7" lengthAdjust="spacingAndGlyphs">(x)</text>
<text x="690.5" y="1454.9" font-size="26" class="r" textLength="16.6" lengthAdjust="spacingAndGlyphs">±</text>
<text x="716" y="1454.9" font-size="26" class="ri" textLength="47.8" lengthAdjust="spacingAndGlyphs">σ(x)</text>
<text x="597.3" y="1492.2" font-size="23" class="ri">f</text>
<path d="M598.6,1475 L605,1470.5 L611.4,1475" fill="none" stroke="#000" stroke-width="1.1" stroke-linejoin="miter"/>
<text x="613.9" y="1492.2" font-size="23" class="ri" textLength="24.6" lengthAdjust="spacingAndGlyphs">(x)</text>
<text x="648" y="1492.2" font-size="23" class="r" textLength="15.3" lengthAdjust="spacingAndGlyphs">=</text>
<text x="672.3" y="1495.2" font-size="27" class="r" textLength="20.7" lengthAdjust="spacingAndGlyphs">∑</text>
<text x="693.6" y="1500.2" font-size="15" class="ri" textLength="15.9" lengthAdjust="spacingAndGlyphs">i,j</text>
<text x="718.5" y="1492.2" font-size="23" class="ri" textLength="17.2" lengthAdjust="spacingAndGlyphs">w</text>
<path d="M722.3,1475.7 L726.5,1471.7 L730.6,1475.7" fill="none" stroke="#000" stroke-width="1.1" stroke-linejoin="miter"/>
<text x="736.7" y="1497.2" font-size="15" class="ri" textLength="11.8" lengthAdjust="spacingAndGlyphs">ij</text>
<text x="754.9" y="1492.2" font-size="23" class="ri">f</text>
<text x="765.4" y="1497.2" font-size="15" class="ri" textLength="11.8" lengthAdjust="spacingAndGlyphs">ij</text>
<text x="781.3" y="1492.2" font-size="23" class="ri" textLength="28.1" lengthAdjust="spacingAndGlyphs">(x)</text>
<text x="549.5" y="1532.4" font-size="23" class="ri" textLength="14" lengthAdjust="spacingAndGlyphs">σ</text>
<text x="563.9" y="1523.4" font-size="14" class="r" textLength="7" lengthAdjust="spacingAndGlyphs">2</text>
<text x="563.9" y="1544.4" font-size="14" class="ri">f</text>
<path d="M564.5,1531.4 L568.2,1528.4 L571.8,1531.4" fill="none" stroke="#000" stroke-width="0.9" stroke-linejoin="miter"/>
<text x="577.3" y="1532.4" font-size="23" class="ri" textLength="27.7" lengthAdjust="spacingAndGlyphs">(x)</text>
<text x="614.6" y="1532.4" font-size="23" class="r" textLength="15.3" lengthAdjust="spacingAndGlyphs">=</text>
<text x="638.5" y="1532.4" font-size="23" class="ri">f</text>
<path d="M639.4,1515.2 L645.8,1510.7 L652.2,1515.2" fill="none" stroke="#000" stroke-width="1.1" stroke-linejoin="miter"/>
<text x="654.1" y="1537.4" font-size="15" class="ri" textLength="7" lengthAdjust="spacingAndGlyphs">k</text>
<text x="664.3" y="1532.4" font-size="23" class="ri" textLength="26.8" lengthAdjust="spacingAndGlyphs">(x)</text>
<text x="699.4" y="1532.4" font-size="23" class="ri" textLength="40.5" lengthAdjust="spacingAndGlyphs" letter-spacing="1">Cov</text>
<text x="740.8" y="1537.4" font-size="15" class="ri" textLength="12.8" lengthAdjust="spacingAndGlyphs">kl</text>
<text x="758.7" y="1532.4" font-size="23" class="ri" textLength="8.3" lengthAdjust="spacingAndGlyphs">(</text>
<text x="767.6" y="1532.4" font-size="23" class="ri" textLength="17.9" lengthAdjust="spacingAndGlyphs">w</text>
<path d="M771.8,1515.9 L776.1,1511.9 L780.4,1515.9" fill="none" stroke="#000" stroke-width="1.1" stroke-linejoin="miter"/>
<text x="786.1" y="1532.4" font-size="23" class="ri" textLength="7" lengthAdjust="spacingAndGlyphs">)</text>
<text x="801.1" y="1532.4" font-size="23" class="ri">f</text>
<path d="M802.1,1515.2 L808.4,1510.7 L814.8,1515.2" fill="none" stroke="#000" stroke-width="1.1" stroke-linejoin="miter"/>
<text x="817.4" y="1537.4" font-size="15" class="ri" textLength="4.5" lengthAdjust="spacingAndGlyphs">l</text>
<text x="825" y="1532.4" font-size="23" class="ri" textLength="25.8" lengthAdjust="spacingAndGlyphs">(x)</text>

<!-- 32_method_c.svg -->
<rect x="986.9" y="1022.1" width="361.3" height="143.5" rx="71.7" ry="71.7" fill="#d6f9f3" stroke="#5fd0c0" stroke-width="1"/>
<text x="1042" y="1041.9" font-size="20" textLength="73.4" lengthAdjust="spacingAndGlyphs">Choose</text>
<text x="1122.4" y="1041.9" font-size="20" class="b" textLength="113.2" lengthAdjust="spacingAndGlyphs">observable</text>
<path transform="translate(1251.5,1041.9) scale(0.2086,0.1768)" d="M62,-86 C40,-108 4,-78 6,-36 C8,6 56,8 72,-34 C86,-72 66,-104 44,-98 C30,-94 30,-70 44,-66" fill="none" stroke="#000" stroke-width="1.5" vector-effect="non-scaling-stroke" stroke-linecap="round" stroke-linejoin="round"/>
<text x="998" y="1072.8" font-size="20" textLength="61.6" lengthAdjust="spacingAndGlyphs">whose</text>
<text x="1066.9" y="1072.8" font-size="20" class="b" textLength="86.1" lengthAdjust="spacingAndGlyphs">estimate</text>
<path transform="translate(1167,1074.3) scale(0.2166,0.1836)" d="M62,-86 C40,-108 4,-78 6,-36 C8,6 56,8 72,-34 C86,-72 66,-104 44,-98 C30,-94 30,-70 44,-66" fill="none" stroke="#000" stroke-width="1.6" vector-effect="non-scaling-stroke" stroke-linecap="round" stroke-linejoin="round"/>
<path d="M1169,1052.3 L1175.5,1047.8 L1182,1052.3" fill="none" stroke="#000" stroke-width="1.1" stroke-linejoin="miter"/>
<text x="1196.7" y="1072.8" font-size="20" textLength="116.4" lengthAdjust="spacingAndGlyphs">is compared</text>
<text x="999.6" y="1104.1" font-size="20" textLength="16.9" lengthAdjust="spacingAndGlyphs">to</text>
<text x="1023.5" y="1104.1" font-size="20" class="b" textLength="154.1" lengthAdjust="spacingAndGlyphs">expected value</text>
<path transform="translate(1189.5,1105.1) scale(0.2166,0.1836)" d="M62,-86 C40,-108 4,-78 6,-36 C8,6 56,8 72,-34 C86,-72 66,-104 44,-98 C30,-94 30,-70 44,-66" fill="none" stroke="#000" stroke-width="1.6" vector-effect="non-scaling-stroke" stroke-linecap="round" stroke-linejoin="round"/>
<text x="1207.5" y="1100.1" font-size="20" class="r">*</text>
<path transform="translate(1023.5,1140.7) scale(0.2166,0.1836)" d="M62,-86 C40,-108 4,-78 6,-36 C8,6 56,8 72,-34 C86,-72 66,-104 44,-98 C30,-94 30,-70 44,-66" fill="none" stroke="#000" stroke-width="1.6" vector-effect="non-scaling-stroke" stroke-linecap="round" stroke-linejoin="round"/>
<path d="M1025.5,1118.2 L1031.8,1113.7 L1038.2,1118.2" fill="none" stroke="#000" stroke-width="1.1" stroke-linejoin="miter"/>
<text x="1047.8" y="1140.7" font-size="24" class="r" textLength="15" lengthAdjust="spacingAndGlyphs">=</text>
<path transform="translate(1071.7,1140.7) scale(0.2166,0.1836)" d="M62,-86 C40,-108 4,-78 6,-36 C8,6 56,8 72,-34 C86,-72 66,-104 44,-98 C30,-94 30,-70 44,-66" fill="none" stroke="#000" stroke-width="1.6" vector-effect="non-scaling-stroke" stroke-linecap="round" stroke-linejoin="round"/>
<text x="1089.9" y="1140.7" font-size="24" class="ri" textLength="5.7" lengthAdjust="spacingAndGlyphs">(</text>
<text x="1098.5" y="1140.7" font-size="24" class="ri">f</text>
<path d="M1099.4,1118.2 L1105.8,1113.7 L1112.2,1118.2" fill="none" stroke="#000" stroke-width="1.1" stroke-linejoin="miter"/>
<text x="1114.7" y="1140.7" font-size="24" class="ri" textLength="34.1" lengthAdjust="spacingAndGlyphs">(x))</text>
<path transform="translate(1173.4,1140.7) scale(0.2166,0.1836)" d="M62,-86 C40,-108 4,-78 6,-36 C8,6 56,8 72,-34 C86,-72 66,-104 44,-98 C30,-94 30,-70 44,-66" fill="none" stroke="#000" stroke-width="1.6" vector-effect="non-scaling-stroke" stroke-linecap="round" stroke-linejoin="round"/>
<text x="1191.3" y="1136.7" font-size="20" class="r">*</text>
<text x="1210.4" y="1140.7" font-size="24" class="r" textLength="16.6" lengthAdjust="spacingAndGlyphs">=</text>
<path transform="translate(1237.2,1140.7) scale(0.2166,0.1836)" d="M62,-86 C40,-108 4,-78 6,-36 C8,6 56,8 72,-34 C86,-72 66,-104 44,-98 C30,-94 30,-70 44,-66" fill="none" stroke="#000" stroke-width="1.6" vector-effect="non-scaling-stroke" stroke-linecap="round" stroke-linejoin="round"/>
<text x="1255.7" y="1140.7" font-size="24" class="ri" textLength="59" lengthAdjust="spacingAndGlyphs">(p(x))</text>
<path d="M1167,1165.6 V1218.3 M1162.5,1209.3 L1167,1218.3 L1171.5,1209.3" fill="none" stroke="#4cc8bc" stroke-width="1"/>
<rect x="1009.6" y="1218.9" width="315.4" height="99.9" rx="49.9" ry="49.9" fill="#d6f9f3" stroke="#5fd0c0" stroke-width="1"/>
<text x="1070.2" y="1237.9" font-size="20" textLength="193.5" lengthAdjust="spacingAndGlyphs">Propagate error and</text>
<text x="1091.5" y="1268.9" font-size="20" textLength="150.9" lengthAdjust="spacingAndGlyphs">check coverage</text>
<path d="M1042.3,1282.0 V1306.8 M1137.0,1282.0 V1306.8" stroke="#000" stroke-width="1.3"/>
<path transform="translate(1049.2,1301.6) scale(0.2166,0.1836)" d="M62,-86 C40,-108 4,-78 6,-36 C8,6 56,8 72,-34 C86,-72 66,-104 44,-98 C30,-94 30,-70 44,-66" fill="none" stroke="#000" stroke-width="1.6" vector-effect="non-scaling-stroke" stroke-linecap="round" stroke-linejoin="round"/>
<path d="M1053.6,1279.1 L1057.4,1275.6 L1061.2,1279.1" fill="none" stroke="#000" stroke-width="1.1" stroke-linejoin="miter"/>
<text x="1076" y="1301.6" font-size="26" class="r" textLength="15.5" lengthAdjust="spacingAndGlyphs">−</text>
<path transform="translate(1100.8,1301.6) scale(0.2166,0.1836)" d="M62,-86 C40,-108 4,-78 6,-36 C8,6 56,8 72,-34 C86,-72 66,-104 44,-98 C30,-94 30,-70 44,-66" fill="none" stroke="#000" stroke-width="1.6" vector-effect="non-scaling-stroke" stroke-linecap="round" stroke-linejoin="round"/>
<text x="1121.8" y="1296.6" font-size="20" class="r">*</text>
<text x="1158.7" y="1301.6" font-size="28" class="r" textLength="17.2" lengthAdjust="spacingAndGlyphs">&lt;</text>
<text x="1194.8" y="1301.6" font-size="26" class="ri" textLength="9.6" lengthAdjust="spacingAndGlyphs">z</text>
<text x="1205.2" y="1306.1" font-size="18" class="ri" textLength="48.9" lengthAdjust="spacingAndGlyphs">1−α/2</text>
<text x="1263.7" y="1301.6" font-size="26" class="ri" textLength="12.1" lengthAdjust="spacingAndGlyphs">σ</text>
<path transform="translate(1278.2,1308.6) scale(0.1364,0.1156)" d="M62,-86 C40,-108 4,-78 6,-36 C8,6 56,8 72,-34 C86,-72 66,-104 44,-98 C30,-94 30,-70 44,-66" fill="none" stroke="#000" stroke-width="1" vector-effect="non-scaling-stroke" stroke-linecap="round" stroke-linejoin="round"/>
<path d="M1280.9,1294.6 L1284,1292.1 L1287.1,1294.6" fill="none" stroke="#000" stroke-width="0.9" stroke-linejoin="miter"/>
<rect x="1465.6" y="1020.9" width="413.2" height="446.6" rx="2" fill="#ffecec" stroke="#f08888" stroke-width="1.2"/>
<circle cx="1478.3" cy="1037.8" r="3.4" fill="#000"/>
<text x="1489.7" y="1043.8" font-size="20" class="b" textLength="46.9" lengthAdjust="spacingAndGlyphs">Goal</text>
<text x="1536.6" y="1043.8" font-size="20" textLength="70.9" lengthAdjust="spacingAndGlyphs">: test if</text>
<text x="1613.8" y="1043.8" font-size="20" class="b" textLength="196.8" lengthAdjust="spacingAndGlyphs">uncertainty-aware</text>
<text x="1489.7" y="1075.6" font-size="20" class="b" textLength="102.2" lengthAdjust="spacingAndGlyphs">ensemble</text>
<text x="1600" y="1075.6" font-size="20" textLength="136.6" lengthAdjust="spacingAndGlyphs">matches data</text>
<path transform="translate(1747,1076.1) scale(0.2370,0.1950)" d="M30,-96 C26,-60 22,-26 10,-2 M6,-92 C30,-104 86,-100 88,-56 C90,-14 44,4 0,-2" fill="none" stroke="#000" stroke-width="1.7" vector-effect="non-scaling-stroke" stroke-linecap="round" stroke-linejoin="round"/>
<circle cx="1478.3" cy="1100.9" r="3.4" fill="#000"/>
<text x="1489.7" y="1106.9" font-size="20" class="b" textLength="40.6" lengthAdjust="spacingAndGlyphs">Null</text>
<path transform="translate(1541.5,1106.9) scale(0.2609,0.2200)" d="M4,-84 C10,-98 24,-100 34,-99 C31,-60 24,-22 12,-6 C8,0 0,2 -3,-4 M24,-50 L78,-52 M84,-99 C80,-62 74,-30 68,-10 C66,0 72,4 84,-8" fill="none" stroke="#000" stroke-width="1.9" vector-effect="non-scaling-stroke" stroke-linecap="round" stroke-linejoin="round"/>
<text x="1566.8" y="1112.9" font-size="22" class="ri" textLength="14.5" lengthAdjust="spacingAndGlyphs">ϕ</text>
<text x="1585.5" y="1106.9" font-size="20" textLength="4.5" lengthAdjust="spacingAndGlyphs">:</text>
<text x="1599" y="1106.9" font-size="20" textLength="179.1" lengthAdjust="spacingAndGlyphs">ensemble density</text>
<text x="1793.5" y="1106.9" font-size="24" class="ri">f</text>
<text x="1806" y="1106.9" font-size="24" class="ri" textLength="55.6" lengthAdjust="spacingAndGlyphs">(x,ϕ)</text>
<circle cx="1478.3" cy="1132.1" r="3.4" fill="#000"/>
<text x="1489.7" y="1138.1" font-size="20" class="b" textLength="116.2" lengthAdjust="spacingAndGlyphs">Alternative</text>
<path transform="translate(1615.7,1137.1) scale(0.2696,0.2200)" d="M4,-84 C10,-98 24,-100 34,-99 C31,-60 24,-22 12,-6 C8,0 0,2 -3,-4 M24,-50 L78,-52 M84,-99 C80,-62 74,-30 68,-10 C66,0 72,4 84,-8" fill="none" stroke="#000" stroke-width="1.9" vector-effect="non-scaling-stroke" stroke-linecap="round" stroke-linejoin="round"/>
<text x="1641.8" y="1143.1" font-size="22" class="ri" textLength="30.7" lengthAdjust="spacingAndGlyphs">ϕ,a</text>
<text x="1677.2" y="1138.1" font-size="20" class="b" textLength="4.8" lengthAdjust="spacingAndGlyphs">:</text>
<text x="1694.5" y="1138.1" font-size="25" class="ri">f</text>
<text x="1707.5" y="1138.1" font-size="25" class="ri" textLength="57.2" lengthAdjust="spacingAndGlyphs">(x,ϕ)</text>
<text x="1775.6" y="1138.1" font-size="20" textLength="11.6" lengthAdjust="spacingAndGlyphs">+</text>
<text x="1489.7" y="1170" font-size="20" class="b" textLength="293.7" lengthAdjust="spacingAndGlyphs">Gaussian-mixture correction</text>
<circle cx="1478.3" cy="1195.3" r="3.4" fill="#000"/>
<text x="1489.7" y="1201.3" font-size="20" class="b" textLength="64.7" lengthAdjust="spacingAndGlyphs">profile</text>
<text x="1561.6" y="1201.3" font-size="20" textLength="41.2" lengthAdjust="spacingAndGlyphs">over</text>
<text x="1610" y="1202.3" font-size="29" class="ri" textLength="66.3" lengthAdjust="spacingAndGlyphs">(ϕ, a)</text>
<text x="1682.5" y="1201.3" font-size="20" textLength="22.8" lengthAdjust="spacingAndGlyphs">on</text>
<path transform="translate(1722,1201.8) scale(0.2370,0.1950)" d="M30,-96 C26,-60 22,-26 10,-2 M6,-92 C30,-104 86,-100 88,-56 C90,-14 44,4 0,-2" fill="none" stroke="#000" stroke-width="1.7" vector-effect="non-scaling-stroke" stroke-linecap="round" stroke-linejoin="round"/>
<circle cx="1478.3" cy="1227.4" r="3.4" fill="#000"/>
<text x="1495.9" y="1233.4" font-size="20" textLength="81.3" lengthAdjust="spacingAndGlyphs">compute</text>
<text x="1584.4" y="1233.4" font-size="20" class="b" textLength="125.6" lengthAdjust="spacingAndGlyphs">test statistic</text>
<text x="1720" y="1234.4" font-size="29" class="ri" textLength="16" lengthAdjust="spacingAndGlyphs">t(</text>
<path transform="translate(1738,1234.4) scale(0.2391,0.1950)" d="M30,-96 C26,-60 22,-26 10,-2 M6,-92 C30,-104 86,-100 88,-56 C90,-14 44,4 0,-2" fill="none" stroke="#000" stroke-width="1.7" vector-effect="non-scaling-stroke" stroke-linecap="round" stroke-linejoin="round"/>
<text x="1762" y="1234.4" font-size="29" class="ri" textLength="10.5" lengthAdjust="spacingAndGlyphs">)</text>
<text x="1783.4" y="1233.4" font-size="20" textLength="83.5" lengthAdjust="spacingAndGlyphs">and map</text>
<text x="1489.7" y="1264.7" font-size="20" textLength="289.7" lengthAdjust="spacingAndGlyphs">to a p-value via null calibration</text>
<text x="1476.7" y="1324.5" font-size="37" class="ri" textLength="19.1" lengthAdjust="spacingAndGlyphs">t(</text>
<path transform="translate(1498.7,1324.5) scale(0.3029,0.2450)" d="M30,-96 C26,-60 22,-26 10,-2 M6,-92 C30,-104 86,-100 88,-56 C90,-14 44,4 0,-2" fill="none" stroke="#000" stroke-width="2.1" vector-effect="non-scaling-stroke" stroke-linecap="round" stroke-linejoin="round"/>
<text x="1528.9" y="1324.5" font-size="37" class="ri" textLength="9.4" lengthAdjust="spacingAndGlyphs">)</text>
<text x="1550" y="1324.5" font-size="37" class="r" textLength="22.6" lengthAdjust="spacingAndGlyphs">=</text>
<text x="1585.2" y="1324.5" font-size="36" class="r" textLength="16.1" lengthAdjust="spacingAndGlyphs">2</text>
<text x="1608.7" y="1324.5" font-size="36" class="r" textLength="44" lengthAdjust="spacingAndGlyphs">log</text>
<path d="M1665.3,1315.7 H1857.2" stroke="#000" stroke-width="1.6"/>
<text x="1668.2" y="1302.5" font-size="25" class="r" textLength="41.1" lengthAdjust="spacingAndGlyphs">max</text>
<text x="1710.5" y="1307.5" font-size="17" class="ri" textLength="24.3" lengthAdjust="spacingAndGlyphs">ϕ,a</text>
<path transform="translate(1745.7,1302.5) scale(0.1746,0.1650)" d="M60,-72 C70,-96 52,-104 44,-90 C34,-72 36,-30 20,-8 C12,2 0,-2 6,-12 C14,-24 40,2 72,-4 C78,-5 82,-10 84,-16" fill="none" stroke="#000" stroke-width="1.4" vector-effect="non-scaling-stroke" stroke-linecap="round" stroke-linejoin="round"/>
<text x="1761.8" y="1302.5" font-size="25" class="ri" textLength="6.7" lengthAdjust="spacingAndGlyphs">(</text>
<path transform="translate(1770,1302.5) scale(0.2073,0.1650)" d="M30,-96 C26,-60 22,-26 10,-2 M6,-92 C30,-104 86,-100 88,-56 C90,-14 44,4 0,-2" fill="none" stroke="#000" stroke-width="1.4" vector-effect="non-scaling-stroke" stroke-linecap="round" stroke-linejoin="round"/>
<path d="M1793.8,1283.5 V1307.5" stroke="#000" stroke-width="1.2"/>
<path transform="translate(1798.5,1302.5) scale(0.2168,0.1650)" d="M4,-84 C10,-98 24,-100 34,-99 C31,-60 24,-22 12,-6 C8,0 0,2 -3,-4 M24,-50 L78,-52 M84,-99 C80,-62 74,-30 68,-10 C66,0 72,4 84,-8" fill="none" stroke="#000" stroke-width="1.4" vector-effect="non-scaling-stroke" stroke-linecap="round" stroke-linejoin="round"/>
<text x="1819.3" y="1307.5" font-size="17" class="ri" textLength="25.5" lengthAdjust="spacingAndGlyphs">ϕ,a</text>
<text x="1847.2" y="1302.5" font-size="25" class="ri" textLength="7" lengthAdjust="spacingAndGlyphs">)</text>
<text x="1681.1" y="1339.8" font-size="25" class="r" textLength="41.1" lengthAdjust="spacingAndGlyphs">max</text>
<text x="1723.4" y="1344.8" font-size="17" class="ri" textLength="11.4" lengthAdjust="spacingAndGlyphs">ϕ</text>
<path transform="translate(1745.7,1339.8) scale(0.1746,0.1650)" d="M60,-72 C70,-96 52,-104 44,-90 C34,-72 36,-30 20,-8 C12,2 0,-2 6,-12 C14,-24 40,2 72,-4 C78,-5 82,-10 84,-16" fill="none" stroke="#000" stroke-width="1.4" vector-effect="non-scaling-stroke" stroke-linecap="round" stroke-linejoin="round"/>
<text x="1761.8" y="1339.8" font-size="25" class="ri" textLength="6.7" lengthAdjust="spacingAndGlyphs">(</text>
<path transform="translate(1770,1339.8) scale(0.2073,0.1650)" d="M30,-96 C26,-60 22,-26 10,-2 M6,-92 C30,-104 86,-100 88,-56 C90,-14 44,4 0,-2" fill="none" stroke="#000" stroke-width="1.4" vector-effect="non-scaling-stroke" stroke-linecap="round" stroke-linejoin="round"/>
<path d="M1793.8,1320.8 V1344.8" stroke="#000" stroke-width="1.2"/>
<path transform="translate(1798.5,1339.8) scale(0.2168,0.1650)" d="M4,-84 C10,-98 24,-100 34,-99 C31,-60 24,-22 12,-6 C8,0 0,2 -3,-4 M24,-50 L78,-52 M84,-99 C80,-62 74,-30 68,-10 C66,0 72,4 84,-8" fill="none" stroke="#000" stroke-width="1.4" vector-effect="non-scaling-stroke" stroke-linecap="round" stroke-linejoin="round"/>
<text x="1819.3" y="1344.8" font-size="17" class="ri" textLength="10.9" lengthAdjust="spacingAndGlyphs">ϕ</text>
<text x="1833.1" y="1339.8" font-size="25" class="ri" textLength="7.3" lengthAdjust="spacingAndGlyphs">)</text>
<ellipse cx="1639.8" cy="1405.8" rx="158.7" ry="48.4" fill="#fff" stroke="#555" stroke-width="1.1"/>
<ellipse cx="1587.4" cy="1407.3" rx="89.3" ry="35.2" fill="#ffd7d7" stroke="#f07878" stroke-width="1.1"/>
<path transform="translate(1530.5,1411.1) scale(0.2554,0.2050)" d="M4,-84 C10,-98 24,-100 34,-99 C31,-60 24,-22 12,-6 C8,0 0,2 -3,-4 M24,-50 L78,-52 M84,-99 C80,-62 74,-30 68,-10 C66,0 72,4 84,-8" fill="none" stroke="#000" stroke-width="1.7" vector-effect="non-scaling-stroke" stroke-linecap="round" stroke-linejoin="round"/>
<text x="1555.9" y="1417" font-size="21" class="ri" textLength="13.2" lengthAdjust="spacingAndGlyphs">ϕ</text>
<path transform="translate(1607.6,1411.1) scale(0.2489,0.2050)" d="M4,-84 C10,-98 24,-100 34,-99 C31,-60 24,-22 12,-6 C8,0 0,2 -3,-4 M24,-50 L78,-52 M84,-99 C80,-62 74,-30 68,-10 C66,0 72,4 84,-8" fill="none" stroke="#000" stroke-width="1.7" vector-effect="non-scaling-stroke" stroke-linecap="round" stroke-linejoin="round"/>
<text x="1632.2" y="1424.3" font-size="21" class="ri" textLength="14.6" lengthAdjust="spacingAndGlyphs">ϕ</text>
<path d="M1637,1407 L1640,1404 L1643,1407" fill="none" stroke="#000" stroke-width="1" stroke-linejoin="miter"/>
<circle cx="1549.4" cy="1424.3" r="3.8" fill="#fff" stroke="#555" stroke-width="1"/>
<circle cx="1658.6" cy="1406.7" r="3.8" fill="#fff" stroke="#f06060" stroke-width="1"/>
<circle cx="1692.3" cy="1406.7" r="3.8" fill="#fff" stroke="#555" stroke-width="1"/>
<text x="1705.5" y="1412.6" font-size="20" textLength="66" lengthAdjust="spacingAndGlyphs">Gen AI</text>
<path transform="translate(1798.3,1446.3) scale(0.2630,0.2100)" d="M4,-84 C10,-98 24,-100 34,-99 C31,-60 24,-22 12,-6 C8,0 0,2 -3,-4 M24,-50 L78,-52 M84,-99 C80,-62 74,-30 68,-10 C66,0 72,4 84,-8" fill="none" stroke="#000" stroke-width="1.8" vector-effect="non-scaling-stroke" stroke-linecap="round" stroke-linejoin="round"/>
<text x="1824.3" y="1452.2" font-size="22" class="ri b" textLength="32.3" lengthAdjust="spacingAndGlyphs">ϕ,a</text>

<!-- 40_numexp.svg -->
<text x="9.2" y="1638.4" font-size="37.7" class="b" textLength="455.4" lengthAdjust="spacingAndGlyphs">NUMERICAL EXPERIMENT</text>
<rect x="13.8" y="1650.6" width="441.4" height="256.2" rx="2.5" fill="#e3f9e1" stroke="#3aa845" stroke-width="2"/>
<text x="16.8" y="1674.2" font-size="21.5" textLength="84.2" lengthAdjust="spacingAndGlyphs">Training:</text>
<circle cx="20.5" cy="1699.5" r="2.8" fill="#000"/>
<text x="32.1" y="1706.3" font-size="21.5" textLength="169.9" lengthAdjust="spacingAndGlyphs">target distribution</text>
<text x="75" y="1731.4" font-size="28" class="ri" textLength="42.9" lengthAdjust="spacingAndGlyphs">p(x)</text>
<text x="127" y="1731.4" font-size="28" class="r" textLength="16.8" lengthAdjust="spacingAndGlyphs">=</text>
<path transform="translate(154,1731.4) scale(0.2602,0.1900)" d="M-2,-4 C6,4 14,-6 18,-24 L30,-99 L66,-2 L84,-90 C86,-100 94,-104 102,-98" fill="none" stroke="#000" stroke-width="1.6" vector-effect="non-scaling-stroke" stroke-linecap="round" stroke-linejoin="round"/>
<text x="181.2" y="1731.4" font-size="28" class="ri" textLength="20.8" lengthAdjust="spacingAndGlyphs">(μ</text>
<text x="202.6" y="1731.4" font-size="28" class="ri" textLength="5.5" lengthAdjust="spacingAndGlyphs">,</text>
<text x="215.8" y="1731.4" font-size="28" class="ri" textLength="21.4" lengthAdjust="spacingAndGlyphs">σ)</text>
<path d="M189.2,1714.9 H200.5 M197.5,1712.7 L200.5,1714.9 L197.5,1717.1" fill="none" stroke="#000" stroke-width="1.0"/>
<path d="M217.9,1714.9 H229.6 M226.6,1712.7 L229.6,1714.9 L226.6,1717.1" fill="none" stroke="#000" stroke-width="1.0"/>
<path d="M251.6,1688.6 C246.6,1688.6 246.6,1691.6 246.6,1695.6 L246.6,1715.9 C246.6,1719.9 245.6,1721.9 243.3,1721.9 C245.6,1721.9 246.6,1723.9 246.6,1727.9 L246.6,1748.3 C246.6,1752.3 246.6,1755.3 251.6,1755.3" fill="none" stroke="#000" stroke-width="1.1"/>
<text x="256.5" y="1714" font-size="28" class="ri" textLength="10.4" lengthAdjust="spacingAndGlyphs">μ</text>
<path d="M256.5,1697.5 H266.9 M263.9,1695.3 L266.9,1697.5 L263.9,1699.7" fill="none" stroke="#000" stroke-width="1.0"/>
<text x="275.5" y="1714" font-size="26" class="r" textLength="127" lengthAdjust="spacingAndGlyphs">= (−0.5, 0.6)</text>
<text x="256.5" y="1744.6" font-size="28" class="ri" textLength="10.4" lengthAdjust="spacingAndGlyphs">σ</text>
<path d="M256.5,1728.1 H266.9 M263.9,1725.9 L266.9,1728.1 L263.9,1730.3" fill="none" stroke="#000" stroke-width="1.0"/>
<text x="275.5" y="1744.6" font-size="26" class="r" textLength="125.5" lengthAdjust="spacingAndGlyphs">= (0.25, 0.4)</text>
<circle cx="20.5" cy="1765.3" r="2.8" fill="#000"/>
<text x="32.1" y="1772.1" font-size="21.5" textLength="376.5" lengthAdjust="spacingAndGlyphs">training set: N = 100000 samples from</text>
<text x="415.7" y="1772.1" font-size="21" class="ri" textLength="32.7" lengthAdjust="spacingAndGlyphs">p(x)</text>
<circle cx="20.5" cy="1797.5" r="2.8" fill="#000"/>
<text x="32.1" y="1804.3" font-size="21.5" textLength="374.1" lengthAdjust="spacingAndGlyphs">each NF uses masked autoregressive</text>
<text x="26" y="1836.4" font-size="21.5" textLength="247" lengthAdjust="spacingAndGlyphs">splines and permutations</text>
<circle cx="20.5" cy="1861.7" r="2.8" fill="#000"/>
<text x="32.1" y="1868.5" font-size="21.5" textLength="356" lengthAdjust="spacingAndGlyphs">60 models on different bootstrapped</text>
<text x="26" y="1900.7" font-size="21.5" textLength="83.6" lengthAdjust="spacingAndGlyphs">datasets</text>
<rect x="13.8" y="1921.2" width="441.4" height="208.2" rx="2.5" fill="#d6f9f3" stroke="#3fcfbf" stroke-width="2"/>
<text x="19" y="1942" font-size="21.5" textLength="264.1" lengthAdjust="spacingAndGlyphs">Example for coverage test:</text>
<text x="21.4" y="1975" font-size="21.5" textLength="221" lengthAdjust="spacingAndGlyphs">we choose observable</text>
<path transform="translate(262.3,1978) scale(0.2166,0.1836)" d="M62,-86 C40,-108 4,-78 6,-36 C8,6 56,8 72,-34 C86,-72 66,-104 44,-98 C30,-94 30,-70 44,-66" fill="none" stroke="#000" stroke-width="1.6" vector-effect="non-scaling-stroke" stroke-linecap="round" stroke-linejoin="round"/>
<path d="M265.1,1955.5 L270.3,1951.5 L275.5,1955.5" fill="none" stroke="#000" stroke-width="1.1" stroke-linejoin="miter"/>
<text x="286.2" y="1978" font-size="24" class="r" textLength="15.3" lengthAdjust="spacingAndGlyphs">=</text>
<text x="309.8" y="1980" font-size="28" class="r" textLength="10.1" lengthAdjust="spacingAndGlyphs">∫</text>
<text x="328.1" y="1978" font-size="24" class="ri" textLength="44.7" lengthAdjust="spacingAndGlyphs">dx x</text>
<text x="379.6" y="1978" font-size="24" class="ri">f</text>
<path d="M380.5,1956 L386.6,1952 L392.7,1956" fill="none" stroke="#000" stroke-width="1.1" stroke-linejoin="miter"/>
<text x="395.8" y="1978" font-size="24" class="ri" textLength="25.1" lengthAdjust="spacingAndGlyphs">(x)</text>
<text x="23.9" y="2014.3" font-size="21.5" textLength="195" lengthAdjust="spacingAndGlyphs">with expected value</text>
<path transform="translate(236.3,2017.3) scale(0.2166,0.1836)" d="M62,-86 C40,-108 4,-78 6,-36 C8,6 56,8 72,-34 C86,-72 66,-104 44,-98 C30,-94 30,-70 44,-66" fill="none" stroke="#000" stroke-width="1.6" vector-effect="non-scaling-stroke" stroke-linecap="round" stroke-linejoin="round"/>
<text x="253.4" y="2012.3" font-size="20" class="r">*</text>
<text x="274" y="2017.3" font-size="24" class="r" textLength="16.2" lengthAdjust="spacingAndGlyphs">=</text>
<text x="299.4" y="2019.3" font-size="28" class="r" textLength="9.8" lengthAdjust="spacingAndGlyphs">∫</text>
<text x="319.9" y="2017.3" font-size="24" class="ri" textLength="45.9" lengthAdjust="spacingAndGlyphs">dx x</text>
<text x="374" y="2017.3" font-size="24" class="ri" textLength="41.6" lengthAdjust="spacingAndGlyphs">p(x)</text>
<text x="23" y="2055" font-size="20" textLength="362" lengthAdjust="spacingAndGlyphs">best architecture found for coverage:</text>
<text x="23" y="2081.6" font-size="20" textLength="368.8" lengthAdjust="spacingAndGlyphs">#bins = 15, #layers = 4, #blocks = 16,</text>
<text x="23" y="2108.6" font-size="20" textLength="154.5" lengthAdjust="spacingAndGlyphs">#features = 128</text>
<rect x="13.8" y="2140.7" width="441.4" height="199.6" rx="2.5" fill="#ffecec" stroke="#f04e4e" stroke-width="2"/>
<circle cx="28.6" cy="2162.0" r="2.8" fill="#000"/>
<text x="41.3" y="2168.2" font-size="21.5" textLength="333.7" lengthAdjust="spacingAndGlyphs">Gaussian-mixture correction for</text>
<path transform="translate(389.5,2168.2) scale(0.2391,0.2100)" d="M4,-84 C10,-98 24,-100 34,-99 C31,-60 24,-22 12,-6 C8,0 0,2 -3,-4 M24,-50 L78,-52 M84,-99 C80,-62 74,-30 68,-10 C66,0 72,4 84,-8" fill="none" stroke="#000" stroke-width="1.8" vector-effect="non-scaling-stroke" stroke-linecap="round" stroke-linejoin="round"/>
<text x="413.2" y="2174.5" font-size="20" class="ri" textLength="29.1" lengthAdjust="spacingAndGlyphs">ϕ,a</text>
<text x="41.3" y="2200.4" font-size="21.5" textLength="171.4" lengthAdjust="spacingAndGlyphs">: #kernels = 100,</text>
<text x="228" y="2200.4" font-size="28" class="ri" textLength="16.9" lengthAdjust="spacingAndGlyphs">σ</text>
<text x="253.4" y="2200.4" font-size="21.5" textLength="66.5" lengthAdjust="spacingAndGlyphs">= 0.05</text>
<circle cx="28.6" cy="2227.0" r="2.8" fill="#000"/>
<text x="41.3" y="2233.4" font-size="21.5" textLength="117.9" lengthAdjust="spacingAndGlyphs">profile over</text>
<text x="166.2" y="2234" font-size="27" class="ri" textLength="61.8" lengthAdjust="spacingAndGlyphs">(ϕ, a)</text>
<text x="236.3" y="2233.4" font-size="21.5" textLength="23.9" lengthAdjust="spacingAndGlyphs">on</text>
<path transform="translate(281,2233.4) scale(0.2391,0.1950)" d="M30,-96 C26,-60 22,-26 10,-2 M6,-92 C30,-104 86,-100 88,-56 C90,-14 44,4 0,-2" fill="none" stroke="#000" stroke-width="1.7" vector-effect="non-scaling-stroke" stroke-linecap="round" stroke-linejoin="round"/>
<text x="319.9" y="2233.4" font-size="21.5" textLength="41.9" lengthAdjust="spacingAndGlyphs">with</text>
<text x="41.3" y="2265.3" font-size="21.5" textLength="150.9" lengthAdjust="spacingAndGlyphs">Gaussian prior</text>
<text x="207.5" y="2266.3" font-size="27" class="ri" textLength="12.9" lengthAdjust="spacingAndGlyphs">ϕ</text>
<text x="229.6" y="2266.3" font-size="27" class="r" textLength="19" lengthAdjust="spacingAndGlyphs">~</text>
<path transform="translate(260.2,2266.3) scale(0.2602,0.1900)" d="M-2,-4 C6,4 14,-6 18,-24 L30,-99 L66,-2 L84,-90 C86,-100 94,-104 102,-98" fill="none" stroke="#000" stroke-width="1.6" vector-effect="non-scaling-stroke" stroke-linecap="round" stroke-linejoin="round"/>
<text x="288.3" y="2266.3" font-size="27" class="ri" textLength="8" lengthAdjust="spacingAndGlyphs">(</text>
<text x="297.5" y="2266.3" font-size="27" class="ri" textLength="19.3" lengthAdjust="spacingAndGlyphs">w</text>
<path d="M302.4,2247.3 L307,2243.3 L311.6,2247.3" fill="none" stroke="#000" stroke-width="1.1" stroke-linejoin="miter"/>
<text x="318.3" y="2266.3" font-size="27" class="ri" textLength="5.5" lengthAdjust="spacingAndGlyphs">,</text>
<text x="332.1" y="2266.3" font-size="27" class="ri" textLength="45.9" lengthAdjust="spacingAndGlyphs" letter-spacing="1">Cov</text>
<text x="379.6" y="2266.3" font-size="27" class="ri" textLength="7.7" lengthAdjust="spacingAndGlyphs">(</text>
<text x="388.1" y="2266.3" font-size="27" class="ri" textLength="20.5" lengthAdjust="spacingAndGlyphs">w</text>
<path d="M393.3,2247.3 L397.9,2243.3 L402.5,2247.3" fill="none" stroke="#000" stroke-width="1.1" stroke-linejoin="miter"/>
<text x="409.6" y="2266.3" font-size="27" class="ri" textLength="15.9" lengthAdjust="spacingAndGlyphs">))</text>
<circle cx="28.6" cy="2291.0" r="2.8" fill="#000"/>
<text x="41.3" y="2297.4" font-size="21.5" textLength="380.5" lengthAdjust="spacingAndGlyphs">training/tuning data are disjoint from</text>
<text x="41.3" y="2329.6" font-size="21.5" textLength="139.3" lengthAdjust="spacingAndGlyphs">GoF test data</text>
<text x="95.5" y="2389.6" font-size="37.2" class="b" textLength="270.3" lengthAdjust="spacingAndGlyphs">FUTURE WORK</text>
<rect x="13.8" y="2405.2" width="443.8" height="94" rx="2.5" fill="#e3f9e1" stroke="#2ea12e" stroke-width="2"/>
<text x="16.8" y="2425.7" font-size="21.5" textLength="381.1" lengthAdjust="spacingAndGlyphs">Compare with other density estimators</text>
<text x="16.8" y="2457.8" font-size="21.5" textLength="380.5" lengthAdjust="spacingAndGlyphs">techniques, e.g. Mixture of Gaussians,</text>
<text x="16.8" y="2490" font-size="21.5" textLength="251.9" lengthAdjust="spacingAndGlyphs">conditional flows/diffusion</text>
<rect x="13.8" y="2511.4" width="443.8" height="65.2" rx="2.5" fill="#f0f0ff" stroke="#8484ff" stroke-width="2"/>
<text x="16.8" y="2535.9" font-size="21.5" textLength="390.3" lengthAdjust="spacingAndGlyphs">Compare with alternative uncertainty</text>
<text x="16.8" y="2568" font-size="21.5" textLength="417.2" lengthAdjust="spacingAndGlyphs">modeling, e.g. Bayesian Flows, Dropout</text>

<!-- 50_results_text.svg -->
<text x="1124.5" y="1640.9" font-size="38.4" class="b" textLength="147.2" lengthAdjust="spacingAndGlyphs">RESULTS</text>
<rect x="486.5" y="1647.1" width="444" height="164.2" fill="#fff" stroke="#0d2b3e" stroke-width="2.4"/>
<text x="494.2" y="1672.9" font-size="25.5" class="b" textLength="152.4" lengthAdjust="spacingAndGlyphs">Coverage test</text>
<text x="655.1" y="1672.9" font-size="25.5" textLength="269.7" lengthAdjust="spacingAndGlyphs">of first moment at ~68%</text>
<circle cx="499" cy="1696" r="3.2"/>
<text x="524.9" y="1705" font-size="25.5" textLength="18.1" lengthAdjust="spacingAndGlyphs">N</text>
<text x="543.5" y="1710.5" font-size="17" textLength="30.5" lengthAdjust="spacingAndGlyphs">REF</text>
<text x="582" y="1705" font-size="25.5" textLength="259" lengthAdjust="spacingAndGlyphs">= 100000 samples from</text>
<text x="524.9" y="1735.3" font-size="25.5" textLength="105.7" lengthAdjust="spacingAndGlyphs">ensemble</text>
<circle cx="499" cy="1758" r="3.2"/>
<text x="524.9" y="1766.9" font-size="25.5" textLength="18.1" lengthAdjust="spacingAndGlyphs">N</text>
<text x="543.5" y="1772.5" font-size="17" textLength="42.5" lengthAdjust="spacingAndGlyphs">DATA</text>
<text x="591" y="1766.9" font-size="25.5" textLength="266" lengthAdjust="spacingAndGlyphs">= 200000 samples from</text>
<text x="863" y="1766.9" font-size="25.5" class="i" textLength="45.5" lengthAdjust="spacingAndGlyphs">p(x)</text>
<path d="M494.5,1791.0 H519.0 M512.0,1786.0 L519.0,1791.0 L512.0,1796.0" fill="none" stroke="#000" stroke-width="1.8" stroke-linejoin="miter"/>
<text x="528" y="1797.2" font-size="25.5" textLength="182.7" lengthAdjust="spacingAndGlyphs">2x oversampling</text>
<text x="494.2" y="1905.2" font-size="25.5" class="b" textLength="140.1" lengthAdjust="spacingAndGlyphs">Visual check</text>
<text x="494.2" y="1936.8" font-size="25.5" textLength="266.8" lengthAdjust="spacingAndGlyphs">Learned likelihood-ratio</text>
<text x="494.2" y="1967.1" font-size="25.5" textLength="234.2" lengthAdjust="spacingAndGlyphs">test detects distortion</text>
<text x="494.2" y="1998.8" font-size="25.5" textLength="166.7" lengthAdjust="spacingAndGlyphs">consistent with</text>
<text x="494.2" y="2029" font-size="25.5" textLength="197.8" lengthAdjust="spacingAndGlyphs">uncertainty bands</text>
<path d="M794.5,1865.1 H814.5" stroke="#777" stroke-width="1"/>
<text x="829.4" y="1871.7" font-size="17" class="r" textLength="47" lengthAdjust="spacingAndGlyphs">DATA</text>
<rect x="788.9" y="1883.3" width="30.3" height="12.6" fill="#b9deb6"/>
<text x="829.4" y="1895.9" font-size="17" class="r" textLength="112.2" lengthAdjust="spacingAndGlyphs">REFERENCE</text>
<circle cx="794.5" cy="1915" r="2.3" fill="#e8141c"/><circle cx="814.5" cy="1915" r="2.3" fill="#e8141c"/>
<text x="829.4" y="1920.5" font-size="17" class="r" textLength="90.8" lengthAdjust="spacingAndGlyphs">LRT RECO</text>
<path d="M784.2,1957.8 H805.2" stroke="#e8141c" stroke-width="1.1"/>
<text x="820.1" y="1963.8" font-size="17" class="r" textLength="131.7" lengthAdjust="spacingAndGlyphs">LRT RECO/REF</text>
<path d="M784.2,1982 H805.2" stroke="#1010e0" stroke-width="1.1"/>
<text x="820.1" y="1988" font-size="17" class="r" textLength="80.5" lengthAdjust="spacingAndGlyphs">GEN/REF</text>
<rect x="778.7" y="1999.7" width="31.2" height="12.6" fill="#9c9cf3"/>
<text x="820.1" y="2011.3" font-size="17" class="r" textLength="29.3" lengthAdjust="spacingAndGlyphs">±1<tspan class="ri">σ</tspan></text>
<rect x="778.7" y="2023.9" width="31.2" height="13" fill="#d6d6fa"/>
<text x="820.1" y="2036" font-size="17" class="r" textLength="29.3" lengthAdjust="spacingAndGlyphs">±2<tspan class="ri">σ</tspan></text>
<circle cx="784.2" cy="2054.6" r="1.6" fill="#000"/><circle cx="804.3" cy="2054.6" r="1.6" fill="#000"/>
<text x="820.1" y="2060.2" font-size="17" class="r" textLength="87.5" lengthAdjust="spacingAndGlyphs">DATA/REF</text>
<rect x="1389.8" y="2090" width="511.3" height="134.3" fill="#fff" stroke="#0d2b3e" stroke-width="2"/>
<text x="1397.2" y="2113.8" font-size="25.5" class="b" textLength="408.4" lengthAdjust="spacingAndGlyphs">GoF via learned likelihood-ratio test</text>
<circle cx="1402.5" cy="2137" r="3.2"/>
<text x="1427.6" y="2145.7" font-size="25.5" textLength="438.7" lengthAdjust="spacingAndGlyphs">REF: ensemble pdf used in closed form,</text>
<text x="1427.6" y="2177" font-size="25.5" textLength="331.8" lengthAdjust="spacingAndGlyphs">constrained by Gaussian prior</text>
<circle cx="1402.5" cy="2199" r="3.2"/>
<text x="1427.6" y="2207.8" font-size="25.5" textLength="72.4" lengthAdjust="spacingAndGlyphs">DATA:</text>
<text x="1513" y="2207.8" font-size="25.5" textLength="18" lengthAdjust="spacingAndGlyphs">N</text>
<text x="1531.5" y="2213.5" font-size="17" textLength="42.5" lengthAdjust="spacingAndGlyphs">DATA</text>
<text x="1583" y="2207.8" font-size="25.5" textLength="263" lengthAdjust="spacingAndGlyphs">= 100000 samples from</text>
<text x="1852" y="2207.8" font-size="25.5" class="i" textLength="45.7" lengthAdjust="spacingAndGlyphs">p(x)</text>
<text x="1164" y="2183.5" font-size="19" class="ri">N</text>
<text x="1178" y="2187" font-size="12.5" class="r" textLength="26" lengthAdjust="spacingAndGlyphs">toys</text>
<text x="1210" y="2183.5" font-size="19" class="r" textLength="42" lengthAdjust="spacingAndGlyphs">= 99</text>
<rect x="1162.4" y="2225.3" width="6.5" height="16.4" fill="#f0c4f2"/>
<text x="1170.9" y="2239.2" font-size="21.5" class="r" textLength="168.1" lengthAdjust="spacingAndGlyphs">REF (ensemble)</text>
<text x="1169.9" y="2273" font-size="19" class="r" textLength="269.6" lengthAdjust="spacingAndGlyphs">median = 10661.71,  std = 9.89</text>
<rect x="1162.4" y="2331.2" width="6.5" height="16.4" fill="#b3d3ea"/>
<text x="1170.9" y="2344.6" font-size="21.5" class="r" textLength="368.1" lengthAdjust="spacingAndGlyphs">DATA (target distribution samples)</text>
<text x="1169.9" y="2378.5" font-size="19" class="r" textLength="280.1" lengthAdjust="spacingAndGlyphs">median = 10669.41,  std = 12.60</text>
<text x="1169.9" y="2417.3" font-size="22" class="r" textLength="193" lengthAdjust="spacingAndGlyphs">p-value = 0.18000</text>
<text x="1169.9" y="2444.1" font-size="22" class="r" textLength="98.5" lengthAdjust="spacingAndGlyphs">empirical</text>
<text x="1277" y="2444.1" font-size="20" class="ri">Z</text>
<text x="1293" y="2444.1" font-size="20" class="r" textLength="57" lengthAdjust="spacingAndGlyphs">= 0.92</text>
<text x="1354" y="2437" font-size="13.5" class="r" textLength="38.3" lengthAdjust="spacingAndGlyphs">+0.20</text>
<text x="1354" y="2449.5" font-size="13.5" class="r" textLength="38.3" lengthAdjust="spacingAndGlyphs">−0.14</text>
<path d="M1351.5,2483.9 H1910.1" stroke="#000" stroke-width="1.6"/>
<path d="M1351.5,2532.7 H1910.1" stroke="#000" stroke-width="1"/>
<path d="M1351.5,2654.5 H1910.1" stroke="#000" stroke-width="1.6"/>
<text x="1363.9" y="2516.8" font-size="23" class="r" textLength="181.6" lengthAdjust="spacingAndGlyphs">Density estimator</text>
<text x="1812" y="2516.8" font-size="23" class="ri">Z</text>
<text x="1827" y="2516.8" font-size="23" class="r" textLength="60.2" lengthAdjust="spacingAndGlyphs">-score</text>
<text x="1363.9" y="2566.5" font-size="23" class="r" textLength="171.6" lengthAdjust="spacingAndGlyphs">Single NF model</text>
<text x="1799.2" y="2566.5" font-size="23" class="r" textLength="53.2" lengthAdjust="spacingAndGlyphs">20.29</text>
<text x="1853.9" y="2556.5" font-size="15" class="r" textLength="42.3" lengthAdjust="spacingAndGlyphs">+0.10</text>
<text x="1853.9" y="2571.5" font-size="15" class="r" textLength="42.3" lengthAdjust="spacingAndGlyphs">−0.10</text>
<text x="1363.9" y="2602.3" font-size="23" class="r" textLength="411.4" lengthAdjust="spacingAndGlyphs">Ensemble without uncertainty modeling</text>
<text x="1805.6" y="2602.3" font-size="23" class="r" textLength="40.8" lengthAdjust="spacingAndGlyphs">4.13</text>
<text x="1847.9" y="2592.4" font-size="15" class="r" textLength="43.3" lengthAdjust="spacingAndGlyphs">+0.12</text>
<text x="1847.9" y="2607.3" font-size="15" class="r" textLength="43.3" lengthAdjust="spacingAndGlyphs">−0.13</text>
<text x="1363.9" y="2638.1" font-size="23" class="r" textLength="377.1" lengthAdjust="spacingAndGlyphs">Ensemble with uncertainty modeling</text>
<text x="1805.6" y="2638.1" font-size="23" class="r" textLength="40.8" lengthAdjust="spacingAndGlyphs">0.92</text>
<text x="1847.9" y="2628.2" font-size="15" class="r" textLength="43.3" lengthAdjust="spacingAndGlyphs">+0.20</text>
<text x="1847.9" y="2643.1" font-size="15" class="r" textLength="43.3" lengthAdjust="spacingAndGlyphs">−0.14</text>
<rect x="1361.9" y="2616.7" width="538.7" height="30" fill="none" stroke="#e00000" stroke-width="1.8"/>
<path d="M1397.5,2684.4 H1422.1 M1415.1,2679.4 L1422.1,2684.4 L1415.1,2689.4" fill="none" stroke="#000" stroke-width="1.8" stroke-linejoin="miter"/>
<text x="1431" y="2690.9" font-size="25.5" textLength="319.9" lengthAdjust="spacingAndGlyphs">ensemble improves accuracy</text>
<path d="M1397.5,2715.2 H1422.1 M1415.1,2710.2 L1422.1,2715.2 L1415.1,2720.2" fill="none" stroke="#000" stroke-width="1.8" stroke-linejoin="miter"/>
<text x="1431" y="2721.7" font-size="25.5" textLength="468.6" lengthAdjust="spacingAndGlyphs">incorporating uncertainties in the GoF test</text>
<text x="1397.2" y="2752.5" font-size="25.5" textLength="424.8" lengthAdjust="spacingAndGlyphs">reduces the discrepancy to less than 1</text>
<text x="1821.5" y="2752.5" font-size="25.5" class="i">σ</text>
<text x="480.6" y="2808.7" font-size="21.3" textLength="387.4" lengthAdjust="spacingAndGlyphs">1. “Learning multivariate new physics”</text>
<text x="872.5" y="2808.7" font-size="21.3" fill="#4a7f8e" textLength="279.4" lengthAdjust="spacingAndGlyphs" text-decoration="underline">Eur. Phys. J. C 81, 89 (2021)</text>
<text x="480.6" y="2836.9" font-size="21.3" textLength="656.3" lengthAdjust="spacingAndGlyphs">2. “Learning new physics efficiently with nonparametric methods”</text>
<text x="480.6" y="2865" font-size="21.3" fill="#4a7f8e" textLength="215.6" lengthAdjust="spacingAndGlyphs" text-decoration="underline">Eur. Phys. J. C, 82(10)</text>
<text x="1169.7" y="2808.7" font-size="21.3" textLength="480.9" lengthAdjust="spacingAndGlyphs">3. “Goodness of fit by Neyman-Pearson testing”</text>
<text x="1657.2" y="2808.7" font-size="21.3" fill="#4a7f8e" textLength="180.9" lengthAdjust="spacingAndGlyphs" text-decoration="underline">arXiv:2305.14137</text>
<text x="1169.7" y="2836.9" font-size="21.3" textLength="755.6" lengthAdjust="spacingAndGlyphs">4. “Frequentist Uncertainties on Neural Density Ratios with w<tspan font-size="13" dy="4">i</tspan><tspan dy="-4">f</tspan><tspan font-size="13" dy="4">i</tspan><tspan dy="-4"> Ensembles”</tspan></text>
<text x="1169.7" y="2865" font-size="21.3" fill="#4a7f8e" textLength="179" lengthAdjust="spacingAndGlyphs" text-decoration="underline">arXiv:2506.00113</text>

<!-- 51_plots.svg -->
<rect x="1022.2" y="1655.9" width="417.7" height="231.4" fill="#fff"/>
<rect x="1022.20" y="1837.1" width="10.44" height="50.2" fill="#bbdfb8"/>
<rect x="1032.64" y="1837.1" width="10.44" height="50.2" fill="#bbdfb8"/>
<rect x="1043.09" y="1797.0" width="10.44" height="90.3" fill="#bbdfb8"/>
<rect x="1053.53" y="1782.6" width="10.44" height="104.7" fill="#bbdfb8"/>
<rect x="1063.97" y="1776.4" width="10.44" height="110.9" fill="#bbdfb8"/>
<rect x="1074.41" y="1766.9" width="10.44" height="120.4" fill="#bbdfb8"/>
<rect x="1084.86" y="1755.5" width="10.44" height="131.8" fill="#bbdfb8"/>
<rect x="1095.30" y="1745.0" width="10.44" height="142.3" fill="#bbdfb8"/>
<rect x="1105.74" y="1735.3" width="10.44" height="152.0" fill="#bbdfb8"/>
<rect x="1116.18" y="1726.5" width="10.44" height="160.8" fill="#bbdfb8"/>
<rect x="1126.62" y="1718.5" width="10.44" height="168.8" fill="#bbdfb8"/>
<rect x="1137.07" y="1711.3" width="10.44" height="176.0" fill="#bbdfb8"/>
<rect x="1147.51" y="1705.0" width="10.44" height="182.3" fill="#bbdfb8"/>
<rect x="1157.95" y="1699.6" width="10.44" height="187.7" fill="#bbdfb8"/>
<rect x="1168.39" y="1695.0" width="10.44" height="192.3" fill="#bbdfb8"/>
<rect x="1178.84" y="1691.2" width="10.44" height="196.1" fill="#bbdfb8"/>
<rect x="1189.28" y="1688.3" width="10.44" height="199.0" fill="#bbdfb8"/>
<rect x="1199.72" y="1686.2" width="10.44" height="201.1" fill="#bbdfb8"/>
<rect x="1210.16" y="1685.0" width="10.44" height="202.3" fill="#bbdfb8"/>
<rect x="1220.61" y="1684.6" width="10.44" height="202.7" fill="#bbdfb8"/>
<rect x="1231.05" y="1685.1" width="10.44" height="202.2" fill="#bbdfb8"/>
<rect x="1241.49" y="1686.4" width="10.44" height="200.9" fill="#bbdfb8"/>
<rect x="1251.93" y="1688.6" width="10.44" height="198.7" fill="#bbdfb8"/>
<rect x="1262.38" y="1691.6" width="10.44" height="195.7" fill="#bbdfb8"/>
<rect x="1272.82" y="1695.5" width="10.44" height="191.8" fill="#bbdfb8"/>
<rect x="1283.26" y="1700.2" width="10.44" height="187.1" fill="#bbdfb8"/>
<rect x="1293.70" y="1705.7" width="10.44" height="181.6" fill="#bbdfb8"/>
<rect x="1304.15" y="1712.1" width="10.44" height="175.2" fill="#bbdfb8"/>
<rect x="1314.59" y="1719.4" width="10.44" height="167.9" fill="#bbdfb8"/>
<rect x="1325.03" y="1727.5" width="10.44" height="159.8" fill="#bbdfb8"/>
<rect x="1335.48" y="1736.4" width="10.44" height="150.9" fill="#bbdfb8"/>
<rect x="1345.92" y="1746.2" width="10.44" height="141.1" fill="#bbdfb8"/>
<rect x="1356.36" y="1756.9" width="10.44" height="130.4" fill="#bbdfb8"/>
<rect x="1366.80" y="1768.4" width="10.44" height="118.9" fill="#bbdfb8"/>
<rect x="1377.25" y="1777.6" width="10.44" height="109.7" fill="#bbdfb8"/>
<rect x="1387.69" y="1782.2" width="10.44" height="105.1" fill="#bbdfb8"/>
<rect x="1398.13" y="1798.6" width="10.44" height="88.7" fill="#bbdfb8"/>
<rect x="1408.57" y="1818.7" width="10.44" height="68.6" fill="#bbdfb8"/>
<rect x="1429.46" y="1837.1" width="10.44" height="50.2" fill="#bbdfb8"/>
<path d="M1022.20,1887.3 V1837.1 M1032.64,1887.3 V1837.1 M1043.09,1887.3 V1837.1 M1053.53,1887.3 V1797.0 M1063.97,1887.3 V1782.6 M1074.41,1887.3 V1776.4 M1084.86,1887.3 V1766.9 M1095.30,1887.3 V1755.5 M1105.74,1887.3 V1745.0 M1116.18,1887.3 V1735.3 M1126.62,1887.3 V1726.5 M1137.07,1887.3 V1718.5 M1147.51,1887.3 V1711.3 M1157.95,1887.3 V1705.0 M1168.39,1887.3 V1699.6 M1178.84,1887.3 V1695.0 M1189.28,1887.3 V1691.2 M1199.72,1887.3 V1688.3 M1210.16,1887.3 V1686.2 M1220.61,1887.3 V1685.0 M1231.05,1887.3 V1685.1 M1241.49,1887.3 V1686.4 M1251.93,1887.3 V1688.6 M1262.38,1887.3 V1691.6 M1272.82,1887.3 V1695.5 M1283.26,1887.3 V1700.2 M1293.70,1887.3 V1705.7 M1304.15,1887.3 V1712.1 M1314.59,1887.3 V1719.4 M1325.03,1887.3 V1727.5 M1335.48,1887.3 V1736.4 M1345.92,1887.3 V1746.2 M1356.36,1887.3 V1756.9 M1366.80,1887.3 V1768.4 M1377.25,1887.3 V1777.6 M1387.69,1887.3 V1782.2 M1398.13,1887.3 V1798.6 M1408.57,1887.3 V1818.7 M1419.02,1887.3 V1818.7 M1429.46,1887.3 V1837.1 M1439.90,1887.3 V1837.1 " stroke="#84c482" stroke-width="0.8" fill="none"/>
<path d="M1043.09,1887.3 V1798.6 H1053.53 V1798.6 H1063.97 V1786.9 H1074.41 V1764.8 H1084.86 V1755.5 H1095.30 V1745.0 H1105.74 V1735.3 H1116.18 V1726.5 H1126.62 V1718.5 H1137.07 V1711.3 H1147.51 V1705.0 H1157.95 V1699.6 H1168.39 V1695.0 H1178.84 V1691.2 H1189.28 V1688.3 H1199.72 V1686.2 H1210.16 V1685.0 H1220.61 V1684.6 H1231.05 V1685.1 H1241.49 V1686.4 H1251.93 V1688.6 H1262.38 V1691.6 H1272.82 V1695.5 H1283.26 V1700.2 H1293.70 V1705.7 H1304.15 V1712.1 H1314.59 V1719.4 H1325.03 V1727.5 H1335.48 V1736.4 H1345.92 V1746.2 H1356.36 V1756.9 H1366.80 V1773.4 H1377.25 V1775.3 H1387.69 V1783.2 H1398.13 V1798.6 H1408.57 V1887.3" stroke="#222" stroke-width="1" fill="none"/>
<path d="M1048.3,1789.7 V1818.7" stroke="#444" stroke-width="0.9"/><circle cx="1048.3" cy="1798.6" r="1.8" fill="#000"/>
<path d="M1058.7,1789.7 V1818.7" stroke="#444" stroke-width="0.9"/><circle cx="1058.7" cy="1798.6" r="1.8" fill="#000"/>
<path d="M1069.2,1780.2 V1798.6" stroke="#444" stroke-width="0.9"/><circle cx="1069.2" cy="1786.9" r="1.8" fill="#000"/>
<path d="M1079.6,1760.8 V1770.0" stroke="#444" stroke-width="0.9"/><circle cx="1079.6" cy="1764.8" r="1.8" fill="#000"/>
<path d="M1090.1,1748.0 V1753.8" stroke="#444" stroke-width="0.9"/><circle cx="1090.1" cy="1750.6" r="1.8" fill="#000"/>
<path d="M1100.5,1740.0 V1744.6" stroke="#444" stroke-width="0.9"/><circle cx="1100.5" cy="1742.2" r="1.8" fill="#000"/>
<path d="M1330.3,1721.5 V1724.0" stroke="#444" stroke-width="0.9"/><circle cx="1330.3" cy="1722.7" r="1.8" fill="#000"/>
<path d="M1340.7,1735.4 V1739.2" stroke="#444" stroke-width="0.9"/><circle cx="1340.7" cy="1737.2" r="1.8" fill="#000"/>
<path d="M1351.1,1744.6 V1750.1" stroke="#444" stroke-width="0.9"/><circle cx="1351.1" cy="1747.2" r="1.8" fill="#000"/>
<path d="M1361.6,1755.6 V1763.7" stroke="#444" stroke-width="0.9"/><circle cx="1361.6" cy="1759.2" r="1.8" fill="#000"/>
<path d="M1372.0,1768.5 V1780.2" stroke="#444" stroke-width="0.9"/><circle cx="1372.0" cy="1773.4" r="1.8" fill="#000"/>
<path d="M1382.5,1770.0 V1783.2" stroke="#444" stroke-width="0.9"/><circle cx="1382.5" cy="1775.3" r="1.8" fill="#000"/>
<path d="M1392.9,1777.1 V1792.9" stroke="#444" stroke-width="0.9"/><circle cx="1392.9" cy="1783.2" r="1.8" fill="#000"/>
<path d="M1403.4,1789.7 V1818.7" stroke="#444" stroke-width="0.9"/><circle cx="1403.4" cy="1798.6" r="1.8" fill="#000"/>
<circle cx="1027.4" cy="1837.1" r="2.3" fill="#e8141c"/>
<circle cx="1037.9" cy="1837.1" r="2.3" fill="#e8141c"/>
<circle cx="1048.3" cy="1795.5" r="2.3" fill="#e8141c"/>
<circle cx="1058.7" cy="1781.3" r="2.3" fill="#e8141c"/>
<circle cx="1069.2" cy="1774.9" r="2.3" fill="#e8141c"/>
<circle cx="1079.6" cy="1766.9" r="2.3" fill="#e8141c"/>
<circle cx="1090.1" cy="1755.5" r="2.3" fill="#e8141c"/>
<circle cx="1100.5" cy="1745.0" r="2.3" fill="#e8141c"/>
<circle cx="1111.0" cy="1735.3" r="2.3" fill="#e8141c"/>
<circle cx="1121.4" cy="1726.5" r="2.3" fill="#e8141c"/>
<circle cx="1131.8" cy="1718.5" r="2.3" fill="#e8141c"/>
<circle cx="1142.3" cy="1711.3" r="2.3" fill="#e8141c"/>
<circle cx="1152.7" cy="1705.0" r="2.3" fill="#e8141c"/>
<circle cx="1163.2" cy="1699.6" r="2.3" fill="#e8141c"/>
<circle cx="1173.6" cy="1695.0" r="2.3" fill="#e8141c"/>
<circle cx="1184.1" cy="1691.2" r="2.3" fill="#e8141c"/>
<circle cx="1194.5" cy="1688.3" r="2.3" fill="#e8141c"/>
<circle cx="1204.9" cy="1686.2" r="2.3" fill="#e8141c"/>
<circle cx="1215.4" cy="1685.0" r="2.3" fill="#e8141c"/>
<circle cx="1225.8" cy="1684.6" r="2.3" fill="#e8141c"/>
<circle cx="1236.3" cy="1685.1" r="2.3" fill="#e8141c"/>
<circle cx="1246.7" cy="1686.4" r="2.3" fill="#e8141c"/>
<circle cx="1257.2" cy="1688.6" r="2.3" fill="#e8141c"/>
<circle cx="1267.6" cy="1691.6" r="2.3" fill="#e8141c"/>
<circle cx="1278.0" cy="1695.5" r="2.3" fill="#e8141c"/>
<circle cx="1288.5" cy="1700.2" r="2.3" fill="#e8141c"/>
<circle cx="1298.9" cy="1705.7" r="2.3" fill="#e8141c"/>
<circle cx="1309.4" cy="1712.1" r="2.3" fill="#e8141c"/>
<circle cx="1319.8" cy="1719.4" r="2.3" fill="#e8141c"/>
<circle cx="1330.3" cy="1727.5" r="2.3" fill="#e8141c"/>
<circle cx="1340.7" cy="1736.4" r="2.3" fill="#e8141c"/>
<circle cx="1351.1" cy="1746.2" r="2.3" fill="#e8141c"/>
<circle cx="1361.6" cy="1756.9" r="2.3" fill="#e8141c"/>
<circle cx="1372.0" cy="1768.5" r="2.3" fill="#e8141c"/>
<circle cx="1382.5" cy="1781.6" r="2.3" fill="#e8141c"/>
<circle cx="1392.9" cy="1790.2" r="2.3" fill="#e8141c"/>
<circle cx="1403.4" cy="1821.8" r="2.3" fill="#e8141c"/>
<circle cx="1413.8" cy="1821.8" r="2.3" fill="#e8141c"/>
<circle cx="1434.7" cy="1841.9" r="2.3" fill="#e8141c"/>
<rect x="1022.2" y="1655.9" width="417.7" height="231.4" fill="none" stroke="#666" stroke-width="1"/>
<text x="1003.5" y="1884.8" font-size="12.8" class="r" textLength="14.2" lengthAdjust="spacingAndGlyphs">−2</text>
<text x="1002.7" y="1893.1" font-size="17.5" class="r" text-anchor="end" textLength="17.3" lengthAdjust="spacingAndGlyphs">10</text>
<text x="1003.5" y="1846.2" font-size="12.8" class="r" textLength="14.2" lengthAdjust="spacingAndGlyphs">−1</text>
<text x="1002.7" y="1854.5" font-size="17.5" class="r" text-anchor="end" textLength="17.3" lengthAdjust="spacingAndGlyphs">10</text>
<text x="1011.1" y="1807.7" font-size="12.8" class="r" textLength="6.6" lengthAdjust="spacingAndGlyphs">0</text>
<text x="1010.3" y="1816" font-size="17.5" class="r" text-anchor="end" textLength="17.3" lengthAdjust="spacingAndGlyphs">10</text>
<text x="1011.1" y="1769.1" font-size="12.8" class="r" textLength="6.6" lengthAdjust="spacingAndGlyphs">1</text>
<text x="1010.3" y="1777.4" font-size="17.5" class="r" text-anchor="end" textLength="17.3" lengthAdjust="spacingAndGlyphs">10</text>
<text x="1011.1" y="1730.5" font-size="12.8" class="r" textLength="6.6" lengthAdjust="spacingAndGlyphs">2</text>
<text x="1010.3" y="1738.8" font-size="17.5" class="r" text-anchor="end" textLength="17.3" lengthAdjust="spacingAndGlyphs">10</text>
<text x="1011.1" y="1692" font-size="12.8" class="r" textLength="6.6" lengthAdjust="spacingAndGlyphs">3</text>
<text x="1010.3" y="1700.3" font-size="17.5" class="r" text-anchor="end" textLength="17.3" lengthAdjust="spacingAndGlyphs">10</text>
<text x="1011.1" y="1653.4" font-size="12.8" class="r" textLength="6.6" lengthAdjust="spacingAndGlyphs">4</text>
<text x="1010.3" y="1661.7" font-size="17.5" class="r" text-anchor="end" textLength="17.3" lengthAdjust="spacingAndGlyphs">10</text>
<rect x="1504.7" y="1654.9" width="407.8" height="232.9" fill="#fff"/>
<rect x="1525.09" y="1851.6" width="10.19" height="36.2" fill="#bbdfb8"/>
<rect x="1535.29" y="1845.7" width="10.19" height="42.1" fill="#bbdfb8"/>
<rect x="1545.48" y="1820.4" width="10.19" height="67.4" fill="#bbdfb8"/>
<rect x="1555.67" y="1796.8" width="10.19" height="91.0" fill="#bbdfb8"/>
<rect x="1565.87" y="1785.1" width="10.19" height="102.7" fill="#bbdfb8"/>
<rect x="1576.07" y="1767.5" width="10.19" height="120.3" fill="#bbdfb8"/>
<rect x="1586.26" y="1755.0" width="10.19" height="132.8" fill="#bbdfb8"/>
<rect x="1596.45" y="1743.5" width="10.19" height="144.3" fill="#bbdfb8"/>
<rect x="1606.65" y="1733.1" width="10.19" height="154.7" fill="#bbdfb8"/>
<rect x="1616.85" y="1723.9" width="10.19" height="163.9" fill="#bbdfb8"/>
<rect x="1627.04" y="1715.7" width="10.19" height="172.1" fill="#bbdfb8"/>
<rect x="1637.24" y="1708.6" width="10.19" height="179.2" fill="#bbdfb8"/>
<rect x="1647.43" y="1702.6" width="10.19" height="185.2" fill="#bbdfb8"/>
<rect x="1657.62" y="1697.7" width="10.19" height="190.1" fill="#bbdfb8"/>
<rect x="1667.82" y="1693.9" width="10.19" height="193.9" fill="#bbdfb8"/>
<rect x="1678.02" y="1691.2" width="10.19" height="196.6" fill="#bbdfb8"/>
<rect x="1688.21" y="1689.6" width="10.19" height="198.2" fill="#bbdfb8"/>
<rect x="1698.40" y="1689.0" width="10.19" height="198.8" fill="#bbdfb8"/>
<rect x="1708.60" y="1689.6" width="10.19" height="198.2" fill="#bbdfb8"/>
<rect x="1718.80" y="1691.2" width="10.19" height="196.6" fill="#bbdfb8"/>
<rect x="1728.99" y="1694.0" width="10.19" height="193.8" fill="#bbdfb8"/>
<rect x="1739.18" y="1697.8" width="10.19" height="190.0" fill="#bbdfb8"/>
<rect x="1749.38" y="1702.7" width="10.19" height="185.1" fill="#bbdfb8"/>
<rect x="1759.58" y="1708.8" width="10.19" height="179.0" fill="#bbdfb8"/>
<rect x="1769.77" y="1715.9" width="10.19" height="171.9" fill="#bbdfb8"/>
<rect x="1779.97" y="1724.1" width="10.19" height="163.7" fill="#bbdfb8"/>
<rect x="1790.16" y="1733.4" width="10.19" height="154.4" fill="#bbdfb8"/>
<rect x="1800.36" y="1743.7" width="10.19" height="144.1" fill="#bbdfb8"/>
<rect x="1810.55" y="1755.2" width="10.19" height="132.6" fill="#bbdfb8"/>
<rect x="1820.74" y="1767.8" width="10.19" height="120.0" fill="#bbdfb8"/>
<rect x="1830.94" y="1776.9" width="10.19" height="110.9" fill="#bbdfb8"/>
<rect x="1841.13" y="1797.9" width="10.19" height="89.9" fill="#bbdfb8"/>
<rect x="1851.33" y="1813.2" width="10.19" height="74.6" fill="#bbdfb8"/>
<rect x="1861.53" y="1819.0" width="10.19" height="68.8" fill="#bbdfb8"/>
<rect x="1871.72" y="1851.6" width="10.19" height="36.2" fill="#bbdfb8"/>
<rect x="1881.91" y="1844.5" width="10.19" height="43.3" fill="#bbdfb8"/>
<path d="M1525.09,1887.8 V1851.6 M1535.29,1887.8 V1851.6 M1545.48,1887.8 V1845.7 M1555.67,1887.8 V1820.4 M1565.87,1887.8 V1796.8 M1576.07,1887.8 V1785.1 M1586.26,1887.8 V1767.5 M1596.45,1887.8 V1755.0 M1606.65,1887.8 V1743.5 M1616.85,1887.8 V1733.1 M1627.04,1887.8 V1723.9 M1637.24,1887.8 V1715.7 M1647.43,1887.8 V1708.6 M1657.62,1887.8 V1702.6 M1667.82,1887.8 V1697.7 M1678.02,1887.8 V1693.9 M1688.21,1887.8 V1691.2 M1698.40,1887.8 V1689.6 M1708.60,1887.8 V1689.6 M1718.80,1887.8 V1691.2 M1728.99,1887.8 V1694.0 M1739.18,1887.8 V1697.8 M1749.38,1887.8 V1702.7 M1759.58,1887.8 V1708.8 M1769.77,1887.8 V1715.9 M1779.97,1887.8 V1724.1 M1790.16,1887.8 V1733.4 M1800.36,1887.8 V1743.7 M1810.55,1887.8 V1755.2 M1820.74,1887.8 V1767.8 M1830.94,1887.8 V1776.9 M1841.13,1887.8 V1797.9 M1851.33,1887.8 V1813.2 M1861.53,1887.8 V1819.0 M1871.72,1887.8 V1851.6 M1881.91,1887.8 V1851.6 M1892.11,1887.8 V1844.5 " stroke="#84c482" stroke-width="0.8" fill="none"/>
<path d="M1514.89,1887.8 V1841.2 H1525.09 V1827.2 H1535.29 V1841.2 H1545.48 V1801.9 H1555.67 V1813.2 H1565.87 V1775.3 H1576.07 V1767.5 H1586.26 V1755.0 H1596.45 V1743.5 H1606.65 V1733.1 H1616.85 V1723.9 H1627.04 V1715.7 H1637.24 V1708.6 H1647.43 V1702.6 H1657.62 V1697.7 H1667.82 V1693.9 H1678.02 V1691.2 H1688.21 V1689.6 H1698.40 V1689.0 H1708.60 V1689.6 H1718.80 V1691.2 H1728.99 V1694.0 H1739.18 V1697.8 H1749.38 V1702.7 H1759.58 V1708.8 H1769.77 V1715.9 H1779.97 V1724.1 H1790.16 V1733.4 H1800.36 V1743.7 H1810.55 V1755.2 H1820.74 V1767.8 H1830.94 V1781.7 H1841.13 V1801.9 H1851.33 V1819.0 H1861.53 V1819.0 H1871.72 V1819.0 H1881.91 V1841.2 H1892.11 V1887.8" stroke="#222" stroke-width="1" fill="none"/>
<path d="M1520.0,1827.2 V1865.6" stroke="#444" stroke-width="0.9"/><circle cx="1520.0" cy="1841.2" r="1.8" fill="#000"/>
<path d="M1530.2,1816.5 V1851.6" stroke="#444" stroke-width="0.9"/><circle cx="1530.2" cy="1827.2" r="1.8" fill="#000"/>
<path d="M1540.4,1827.2 V1865.6" stroke="#444" stroke-width="0.9"/><circle cx="1540.4" cy="1841.2" r="1.8" fill="#000"/>
<path d="M1550.6,1795.5 V1811.2" stroke="#444" stroke-width="0.9"/><circle cx="1550.6" cy="1801.9" r="1.8" fill="#000"/>
<path d="M1560.8,1805.0 V1827.2" stroke="#444" stroke-width="0.9"/><circle cx="1560.8" cy="1813.2" r="1.8" fill="#000"/>
<path d="M1571.0,1771.8 V1779.6" stroke="#444" stroke-width="0.9"/><circle cx="1571.0" cy="1775.3" r="1.8" fill="#000"/>
<path d="M1581.2,1764.7 V1771.1" stroke="#444" stroke-width="0.9"/><circle cx="1581.2" cy="1767.6" r="1.8" fill="#000"/>
<path d="M1836.0,1777.8 V1786.4" stroke="#444" stroke-width="0.9"/><circle cx="1836.0" cy="1781.7" r="1.8" fill="#000"/>
<path d="M1846.2,1795.5 V1811.2" stroke="#444" stroke-width="0.9"/><circle cx="1846.2" cy="1801.9" r="1.8" fill="#000"/>
<path d="M1856.4,1805.0 V1827.2" stroke="#444" stroke-width="0.9"/><circle cx="1856.4" cy="1813.2" r="1.8" fill="#000"/>
<path d="M1866.6,1809.9 V1835.9" stroke="#444" stroke-width="0.9"/><circle cx="1866.6" cy="1819.0" r="1.8" fill="#000"/>
<path d="M1876.8,1809.9 V1835.9" stroke="#444" stroke-width="0.9"/><circle cx="1876.8" cy="1819.0" r="1.8" fill="#000"/>
<path d="M1887.0,1827.2 V1865.6" stroke="#444" stroke-width="0.9"/><circle cx="1887.0" cy="1841.2" r="1.8" fill="#000"/>
<circle cx="1530.2" cy="1845.7" r="2.3" fill="#e8141c"/>
<circle cx="1540.4" cy="1840.2" r="2.3" fill="#e8141c"/>
<circle cx="1550.6" cy="1815.9" r="2.3" fill="#e8141c"/>
<circle cx="1560.8" cy="1792.7" r="2.3" fill="#e8141c"/>
<circle cx="1571.0" cy="1782.7" r="2.3" fill="#e8141c"/>
<circle cx="1581.2" cy="1767.5" r="2.3" fill="#e8141c"/>
<circle cx="1591.4" cy="1755.0" r="2.3" fill="#e8141c"/>
<circle cx="1601.6" cy="1743.5" r="2.3" fill="#e8141c"/>
<circle cx="1611.7" cy="1733.1" r="2.3" fill="#e8141c"/>
<circle cx="1621.9" cy="1723.9" r="2.3" fill="#e8141c"/>
<circle cx="1632.1" cy="1715.7" r="2.3" fill="#e8141c"/>
<circle cx="1642.3" cy="1708.6" r="2.3" fill="#e8141c"/>
<circle cx="1652.5" cy="1702.6" r="2.3" fill="#e8141c"/>
<circle cx="1662.7" cy="1697.7" r="2.3" fill="#e8141c"/>
<circle cx="1672.9" cy="1693.9" r="2.3" fill="#e8141c"/>
<circle cx="1683.1" cy="1691.2" r="2.3" fill="#e8141c"/>
<circle cx="1693.3" cy="1689.6" r="2.3" fill="#e8141c"/>
<circle cx="1703.5" cy="1689.0" r="2.3" fill="#e8141c"/>
<circle cx="1713.7" cy="1689.6" r="2.3" fill="#e8141c"/>
<circle cx="1723.9" cy="1691.2" r="2.3" fill="#e8141c"/>
<circle cx="1734.1" cy="1694.0" r="2.3" fill="#e8141c"/>
<circle cx="1744.3" cy="1697.8" r="2.3" fill="#e8141c"/>
<circle cx="1754.5" cy="1702.7" r="2.3" fill="#e8141c"/>
<circle cx="1764.7" cy="1708.8" r="2.3" fill="#e8141c"/>
<circle cx="1774.9" cy="1715.9" r="2.3" fill="#e8141c"/>
<circle cx="1785.1" cy="1724.1" r="2.3" fill="#e8141c"/>
<circle cx="1795.3" cy="1733.4" r="2.3" fill="#e8141c"/>
<circle cx="1805.5" cy="1743.7" r="2.3" fill="#e8141c"/>
<circle cx="1815.6" cy="1755.2" r="2.3" fill="#e8141c"/>
<circle cx="1825.8" cy="1767.8" r="2.3" fill="#e8141c"/>
<circle cx="1836.0" cy="1777.8" r="2.3" fill="#e8141c"/>
<circle cx="1846.2" cy="1797.9" r="2.3" fill="#e8141c"/>
<circle cx="1856.4" cy="1813.7" r="2.3" fill="#e8141c"/>
<circle cx="1866.6" cy="1819.0" r="2.3" fill="#e8141c"/>
<circle cx="1876.8" cy="1849.0" r="2.3" fill="#e8141c"/>
<circle cx="1887.0" cy="1845.0" r="2.3" fill="#e8141c"/>
<rect x="1504.7" y="1654.9" width="407.8" height="232.9" fill="none" stroke="#666" stroke-width="1"/>
<text x="1486" y="1885.3" font-size="12.8" class="r" textLength="14.2" lengthAdjust="spacingAndGlyphs">−1</text>
<text x="1485.2" y="1893.6" font-size="17.5" class="r" text-anchor="end" textLength="17.3" lengthAdjust="spacingAndGlyphs">10</text>
<text x="1493.6" y="1838.7" font-size="12.8" class="r" textLength="6.6" lengthAdjust="spacingAndGlyphs">0</text>
<text x="1492.8" y="1847" font-size="17.5" class="r" text-anchor="end" textLength="17.3" lengthAdjust="spacingAndGlyphs">10</text>
<text x="1493.6" y="1792.1" font-size="12.8" class="r" textLength="6.6" lengthAdjust="spacingAndGlyphs">1</text>
<text x="1492.8" y="1800.4" font-size="17.5" class="r" text-anchor="end" textLength="17.3" lengthAdjust="spacingAndGlyphs">10</text>
<text x="1493.6" y="1745.6" font-size="12.8" class="r" textLength="6.6" lengthAdjust="spacingAndGlyphs">2</text>
<text x="1492.8" y="1753.9" font-size="17.5" class="r" text-anchor="end" textLength="17.3" lengthAdjust="spacingAndGlyphs">10</text>
<text x="1493.6" y="1699" font-size="12.8" class="r" textLength="6.6" lengthAdjust="spacingAndGlyphs">3</text>
<text x="1492.8" y="1707.3" font-size="17.5" class="r" text-anchor="end" textLength="17.3" lengthAdjust="spacingAndGlyphs">10</text>
<text x="1493.6" y="1652.4" font-size="12.8" class="r" textLength="6.6" lengthAdjust="spacingAndGlyphs">4</text>
<text x="1492.8" y="1660.7" font-size="17.5" class="r" text-anchor="end" textLength="17.3" lengthAdjust="spacingAndGlyphs">10</text>
<rect x="1022.2" y="1905.0" width="417.7" height="123.7" fill="#fff"/>
<clipPath id="c1022"><rect x="1022.2" y="1905.0" width="417.7" height="123.7"/></clipPath>
<g clip-path="url(#c1022)">
<path d="M1039.2,1905.0 V2028.7 M1132.0,1905.0 V2028.7 M1224.8,1905.0 V2028.7 M1317.6,1905.0 V2028.7 M1410.4,1905.0 V2028.7 M1022.2,2000.7 H1439.9 M1022.2,1968.8 H1439.9 M1022.2,1936.9 H1439.9 " stroke="#ccc" stroke-width="0.6" stroke-dasharray="1,2" fill="none"/>
<rect x="1432.9" y="1905.0" width="2.2" height="123.7" fill="#d6d6fa"/>
<polygon points="1048.6,1905.0 1052.5,1909.1 1058.9,1947.4 1069.1,1937.2 1079.6,1952.2 1089.8,1950.6 1100.3,1949.0 1110.5,1949.0 1121.0,1950.6 1132.2,1955.4 1151.3,1959.5 1183.2,1962.7 1224.7,1965.9 1266.1,1963.3 1307.6,1961.7 1318.7,1964.0 1329.9,1959.5 1339.5,1955.4 1350.6,1947.4 1361.1,1937.8 1371.4,1929.9 1381.6,1920.3 1387.3,1905.0 1395.3,1905.0 1395.3,2028.7 1381.6,2028.7 1371.4,2008.0 1361.1,1996.8 1350.6,1988.9 1339.5,1984.1 1329.9,1980.9 1318.7,1977.7 1307.6,1975.5 1266.1,1973.5 1224.7,1972.0 1183.2,1973.5 1151.3,1975.5 1132.2,1977.7 1121.0,1979.9 1110.5,1984.1 1100.3,1990.4 1089.8,1998.4 1079.6,2006.4 1069.1,2014.4 1058.9,2019.1 1052.5,2028.7 1048.6,2028.7" fill="#d6d6fa"/>
<rect x="1027.6" y="1905.0" width="21.0" height="123.7" fill="#9c9cf5"/>
<rect x="1393.7" y="1905.0" width="19.8" height="123.7" fill="#9c9cf5"/>
<polygon points="1048.6,1950.6 1058.9,1966.5 1069.1,1957.0 1079.6,1966.5 1089.8,1962.7 1100.3,1958.6 1110.5,1957.0 1121.0,1957.0 1132.2,1960.8 1151.3,1964.0 1183.2,1965.9 1224.7,1967.5 1266.1,1965.9 1307.6,1965.9 1318.7,1968.1 1329.9,1964.9 1339.5,1962.7 1350.6,1957.0 1361.1,1952.2 1371.4,1950.6 1381.6,1947.4 1392.1,1921.9 1395.3,1905.0 1393.7,2028.7 1392.1,2023.9 1381.6,2001.6 1371.4,1988.9 1361.1,1984.1 1350.6,1979.3 1339.5,1976.7 1329.9,1975.5 1318.7,1973.5 1307.6,1972.3 1266.1,1971.3 1224.7,1970.4 1183.2,1971.3 1151.3,1972.9 1132.2,1974.5 1121.0,1976.7 1110.5,1979.9 1100.3,1984.1 1089.8,1992.0 1079.6,1998.4 1069.1,2004.8 1058.9,2011.2 1048.6,2016.0" fill="#9c9cf5"/>
<path d="M1045.5,1905.0 L1048.6,1974.5 L1058.9,1987.9 L1069.1,1976.7 L1079.6,1984.7 L1089.8,1974.5 L1100.3,1970.4 L1110.5,1966.5 L1121.0,1964.0 L1132.2,1965.9 L1151.3,1967.2 L1183.2,1968.1 L1224.7,1968.8 L1245.4,1971.3 L1266.1,1968.1 L1286.8,1970.4 L1307.6,1969.7 L1318.7,1973.5 L1329.9,1972.3 L1339.5,1972.0 L1350.6,1966.5 L1361.1,1964.9 L1371.4,1968.1 L1381.6,1972.0 L1392.1,1989.8 L1402.3,1905.9 L1413.4,1959.5" stroke="#1414e6" stroke-width="1.2" fill="none" stroke-linejoin="round"/>
<path d="M1027.0,1967.5 L1038.1,1969.1 L1048.6,1957.6 L1058.9,1964.9 L1079.6,1965.9 L1100.3,1966.5 L1132.2,1967.5 L1183.2,1968.4 L1224.7,1968.8 L1266.1,1968.4 L1307.6,1968.1 L1339.5,1968.1 L1361.1,1968.1 L1371.4,1971.3 L1381.6,1970.4 L1392.1,1972.3 L1402.3,1979.3 L1413.4,1980.2 L1434.2,1984.4" stroke="#e8141c" stroke-width="1.1" fill="none" stroke-linejoin="round"/>
<path d="M1402.3,1905.0 V1969.7" stroke="#444" stroke-width="0.8"/>
<path d="M1048.6,1924.1 V2013.4" stroke="#444" stroke-width="0.8"/><circle cx="1048.6" cy="1968.8" r="1.7" fill="#000"/>
<path d="M1058.9,1990.4 V2025.5" stroke="#444" stroke-width="0.8"/><circle cx="1058.9" cy="2008.0" r="1.7" fill="#000"/>
<path d="M1069.1,1982.5 V2015.6" stroke="#444" stroke-width="0.8"/><circle cx="1069.1" cy="1999.1" r="1.7" fill="#000"/>
<path d="M1079.6,1955.4 V1987.3" stroke="#444" stroke-width="0.8"/><circle cx="1079.6" cy="1971.3" r="1.7" fill="#000"/>
<path d="M1089.8,1936.9 V1965.6" stroke="#444" stroke-width="0.8"/><circle cx="1089.8" cy="1951.2" r="1.7" fill="#000"/>
<path d="M1100.3,1953.1 V1972.3" stroke="#444" stroke-width="0.8"/><circle cx="1100.3" cy="1962.7" r="1.7" fill="#000"/>
<path d="M1110.5,1961.7 V1975.8" stroke="#444" stroke-width="0.8"/><circle cx="1110.5" cy="1968.8" r="1.7" fill="#000"/>
<path d="M1121.0,1965.9 V1976.7" stroke="#444" stroke-width="0.8"/><circle cx="1121.0" cy="1971.3" r="1.7" fill="#000"/>
<path d="M1132.2,1962.1 V1969.7" stroke="#444" stroke-width="0.8"/><circle cx="1132.2" cy="1965.9" r="1.7" fill="#000"/>
<path d="M1141.8,1971.3 V1977.7" stroke="#444" stroke-width="0.8"/><circle cx="1141.8" cy="1974.5" r="1.7" fill="#000"/>
<path d="M1152.3,1961.7 V1966.8" stroke="#444" stroke-width="0.8"/><circle cx="1152.3" cy="1964.3" r="1.7" fill="#000"/>
<path d="M1162.5,1963.0 V1968.1" stroke="#444" stroke-width="0.8"/><circle cx="1162.5" cy="1965.6" r="1.7" fill="#000"/>
<path d="M1173.0,1966.8 V1970.7" stroke="#444" stroke-width="0.8"/><circle cx="1173.0" cy="1968.8" r="1.7" fill="#000"/>
<path d="M1183.2,1969.7 V1972.9" stroke="#444" stroke-width="0.8"/><circle cx="1183.2" cy="1971.3" r="1.7" fill="#000"/>
<path d="M1193.7,1965.9 V1969.1" stroke="#444" stroke-width="0.8"/><circle cx="1193.7" cy="1967.5" r="1.7" fill="#000"/>
<path d="M1204.6,1970.4 V1973.5" stroke="#444" stroke-width="0.8"/><circle cx="1204.6" cy="1972.0" r="1.7" fill="#000"/>
<path d="M1215.1,1968.4 V1971.6" stroke="#444" stroke-width="0.8"/><circle cx="1215.1" cy="1970.0" r="1.7" fill="#000"/>
<path d="M1225.3,1966.2 V1969.4" stroke="#444" stroke-width="0.8"/><circle cx="1225.3" cy="1967.8" r="1.7" fill="#000"/>
<path d="M1235.8,1969.7 V1972.9" stroke="#444" stroke-width="0.8"/><circle cx="1235.8" cy="1971.3" r="1.7" fill="#000"/>
<path d="M1246.0,1966.2 V1969.4" stroke="#444" stroke-width="0.8"/><circle cx="1246.0" cy="1967.8" r="1.7" fill="#000"/>
<path d="M1256.6,1966.8 V1970.0" stroke="#444" stroke-width="0.8"/><circle cx="1256.6" cy="1968.4" r="1.7" fill="#000"/>
<path d="M1266.8,1965.9 V1969.1" stroke="#444" stroke-width="0.8"/><circle cx="1266.8" cy="1967.5" r="1.7" fill="#000"/>
<path d="M1277.3,1969.4 V1973.2" stroke="#444" stroke-width="0.8"/><circle cx="1277.3" cy="1971.3" r="1.7" fill="#000"/>
<path d="M1287.5,1966.2 V1970.7" stroke="#444" stroke-width="0.8"/><circle cx="1287.5" cy="1968.4" r="1.7" fill="#000"/>
<path d="M1298.0,1963.0 V1968.1" stroke="#444" stroke-width="0.8"/><circle cx="1298.0" cy="1965.6" r="1.7" fill="#000"/>
<path d="M1308.2,1961.1 V1967.5" stroke="#444" stroke-width="0.8"/><circle cx="1308.2" cy="1964.3" r="1.7" fill="#000"/>
<path d="M1318.7,1967.8 V1975.5" stroke="#444" stroke-width="0.8"/><circle cx="1318.7" cy="1971.6" r="1.7" fill="#000"/>
<path d="M1329.3,1952.2 V1963.0" stroke="#444" stroke-width="0.8"/><circle cx="1329.3" cy="1957.6" r="1.7" fill="#000"/>
<path d="M1339.5,1968.4 V1982.5" stroke="#444" stroke-width="0.8"/><circle cx="1339.5" cy="1975.5" r="1.7" fill="#000"/>
<path d="M1349.7,1970.4 V1988.2" stroke="#444" stroke-width="0.8"/><circle cx="1349.7" cy="1979.3" r="1.7" fill="#000"/>
<path d="M1360.2,1971.3 V1993.6" stroke="#444" stroke-width="0.8"/><circle cx="1360.2" cy="1982.5" r="1.7" fill="#000"/>
<path d="M1370.7,1971.0 V2001.6" stroke="#444" stroke-width="0.8"/><circle cx="1370.7" cy="1986.3" r="1.7" fill="#000"/>
<path d="M1381.6,1908.2 V1975.1" stroke="#444" stroke-width="0.8"/><circle cx="1381.6" cy="1941.7" r="1.7" fill="#000"/>
<path d="M1392.1,1897.3 V1980.2" stroke="#444" stroke-width="0.8"/><circle cx="1392.1" cy="1938.8" r="1.7" fill="#000"/>
</g>
<rect x="1022.2" y="1905.0" width="417.7" height="123.7" fill="none" stroke="#666" stroke-width="1"/>
<rect x="1504.7" y="1905.0" width="407.8" height="125.0" fill="#fff"/>
<clipPath id="c1504"><rect x="1504.7" y="1905.0" width="407.8" height="125.0"/></clipPath>
<g clip-path="url(#c1504)">
<path d="M1528.9,1905.0 V2030.0 M1583.8,1905.0 V2030.0 M1638.6,1905.0 V2030.0 M1693.4,1905.0 V2030.0 M1748.3,1905.0 V2030.0 M1803.1,1905.0 V2030.0 M1858.0,1905.0 V2030.0 M1504.7,2001.9 H1912.5 M1504.7,1969.7 H1912.5 M1504.7,1937.5 H1912.5 " stroke="#ccc" stroke-width="0.6" stroke-dasharray="1,2" fill="none"/>
<polygon points="1530.0,1905.0 1558.8,1905.0 1570.6,1916.6 1580.9,1936.9 1591.2,1957.2 1601.6,1954.1 1611.9,1955.6 1622.2,1956.2 1632.2,1961.2 1652.5,1962.5 1672.8,1963.4 1683.1,1959.4 1693.1,1961.9 1703.4,1963.4 1713.4,1960.3 1723.8,1965.6 1733.8,1966.6 1744.1,1963.4 1754.1,1965.0 1764.4,1963.4 1774.4,1957.2 1784.7,1956.2 1794.7,1963.4 1805.0,1964.4 1815.0,1965.0 1825.3,1965.6 1835.3,1965.0 1841.6,1930.6 1846.2,1905.0 1871.2,1905.0 1871.2,2030.0 1852.5,2030.0 1846.2,2013.4 1835.3,2008.8 1825.3,2004.1 1815.0,1997.8 1805.0,1990.0 1794.7,1983.8 1784.7,1975.0 1774.4,1975.9 1764.4,1978.1 1754.1,1977.5 1744.1,1975.9 1733.8,1979.1 1723.8,1978.1 1713.4,1975.0 1703.4,1975.9 1693.1,1975.0 1683.1,1973.8 1672.8,1976.9 1652.5,1975.9 1632.2,1978.1 1622.2,1975.9 1611.9,1977.5 1601.6,1980.6 1591.2,1988.4 1580.9,1986.9 1570.6,1993.1 1560.3,2021.2 1543.1,2030.0 1530.0,2030.0" fill="#d6d6fa"/>
<rect x="1530.0" y="1905.0" width="20.0" height="125.0" fill="#9c9cf5"/>
<rect x="1868.8" y="1905.0" width="18.8" height="125.0" fill="#9c9cf5"/>
<polygon points="1530.0,1905.0 1557.2,1905.0 1560.3,1930.6 1570.6,1921.2 1580.9,1952.5 1591.2,1957.2 1601.6,1958.8 1611.9,1960.3 1622.2,1961.2 1632.2,1965.0 1652.5,1965.6 1672.8,1966.6 1683.1,1962.5 1693.1,1965.0 1703.4,1966.6 1713.4,1963.4 1723.8,1968.8 1733.8,1969.7 1744.1,1966.6 1754.1,1968.1 1764.4,1966.6 1774.4,1961.9 1784.7,1960.3 1794.7,1966.6 1805.0,1968.1 1815.0,1969.7 1825.3,1971.9 1835.3,1972.8 1843.1,1927.5 1855.6,1905.0 1871.2,1905.0 1871.2,2030.0 1865.6,2015.0 1855.6,1996.2 1846.2,1993.1 1835.3,1997.8 1825.3,1993.1 1815.0,1988.4 1805.0,1983.8 1794.7,1979.1 1784.7,1970.6 1774.4,1971.9 1764.4,1974.4 1754.1,1974.4 1744.1,1972.8 1733.8,1975.9 1723.8,1975.0 1713.4,1971.9 1703.4,1972.8 1693.1,1971.9 1683.1,1970.6 1672.8,1973.8 1652.5,1972.8 1632.2,1974.4 1622.2,1972.8 1611.9,1973.8 1601.6,1975.9 1591.2,1982.2 1580.9,1980.6 1570.6,1983.8 1560.3,1986.9 1550.0,1990.0 1546.2,2030.0 1530.0,2030.0" fill="#9c9cf5"/>
<path d="M1519.7,1905.0 V2030.0" stroke="#888" stroke-width="1"/>
<path d="M1530.0,1940.0 L1533.8,1905.0 L1547.8,1905.0 L1550.0,1908.8 L1560.3,1973.8 L1570.6,1958.1 L1580.9,1963.4 L1591.2,1974.4 L1601.6,1966.6 L1611.9,1966.6 L1622.2,1965.9 L1632.2,1970.6 L1642.5,1970.6 L1652.5,1967.5 L1662.8,1971.2 L1672.8,1970.6 L1683.1,1966.6 L1693.1,1968.1 L1703.4,1969.7 L1713.4,1967.5 L1723.8,1973.8 L1733.8,1972.8 L1744.1,1969.7 L1754.1,1971.2 L1764.4,1971.2 L1774.4,1966.6 L1784.7,1965.0 L1794.7,1974.4 L1805.0,1978.1 L1815.0,1981.2 L1825.3,1984.4 L1835.3,1986.9 L1846.2,1959.4 L1856.6,1948.4 L1866.6,1981.2 L1876.9,1911.2 L1887.5,1981.2" stroke="#1414e6" stroke-width="1.2" fill="none" stroke-linejoin="round"/>
<path d="M1530.0,1948.4 L1540.0,1948.8 L1550.0,1952.5 L1560.3,1957.2 L1570.6,1960.3 L1580.9,1963.4 L1591.2,1965.0 L1601.6,1966.6 L1622.2,1967.5 L1652.5,1968.8 L1683.1,1969.4 L1713.4,1970.0 L1744.1,1970.6 L1774.4,1971.2 L1794.7,1970.6 L1815.0,1969.7 L1835.3,1968.1 L1846.2,1968.8 L1856.6,1968.1 L1866.6,1965.0 L1876.9,1961.9 L1887.5,1967.2" stroke="#e8141c" stroke-width="1.1" fill="none" stroke-linejoin="round"/>

<path d="M1540.0,1875.3 V2031.6" stroke="#444" stroke-width="0.8"/><circle cx="1540.0" cy="1953.4" r="1.7" fill="#000"/>
<path d="M1560.3,1991.6 V2019.7" stroke="#444" stroke-width="0.8"/><circle cx="1560.3" cy="2005.6" r="1.7" fill="#000"/>
<path d="M1570.6,1905.0 V1948.8" stroke="#444" stroke-width="0.8"/><circle cx="1570.6" cy="1926.9" r="1.7" fill="#000"/>
<path d="M1580.9,1957.5 V1980.6" stroke="#444" stroke-width="0.8"/><circle cx="1580.9" cy="1969.1" r="1.7" fill="#000"/>
<path d="M1591.2,1959.4 V1976.9" stroke="#444" stroke-width="0.8"/><circle cx="1591.2" cy="1968.1" r="1.7" fill="#000"/>
<path d="M1601.6,1965.0 V1977.5" stroke="#444" stroke-width="0.8"/><circle cx="1601.6" cy="1971.2" r="1.7" fill="#000"/>
<path d="M1611.9,1962.5 V1971.9" stroke="#444" stroke-width="0.8"/><circle cx="1611.9" cy="1967.2" r="1.7" fill="#000"/>
<path d="M1622.2,1962.2 V1969.7" stroke="#444" stroke-width="0.8"/><circle cx="1622.2" cy="1965.9" r="1.7" fill="#000"/>
<path d="M1632.2,1963.8 V1969.4" stroke="#444" stroke-width="0.8"/><circle cx="1632.2" cy="1966.6" r="1.7" fill="#000"/>
<path d="M1642.5,1966.2 V1971.2" stroke="#444" stroke-width="0.8"/><circle cx="1642.5" cy="1968.8" r="1.7" fill="#000"/>
<path d="M1652.5,1965.0 V1969.4" stroke="#444" stroke-width="0.8"/><circle cx="1652.5" cy="1967.2" r="1.7" fill="#000"/>
<path d="M1662.8,1967.5 V1971.2" stroke="#444" stroke-width="0.8"/><circle cx="1662.8" cy="1969.4" r="1.7" fill="#000"/>
<path d="M1672.8,1967.8 V1971.6" stroke="#444" stroke-width="0.8"/><circle cx="1672.8" cy="1969.7" r="1.7" fill="#000"/>
<path d="M1683.1,1967.8 V1970.9" stroke="#444" stroke-width="0.8"/><circle cx="1683.1" cy="1969.4" r="1.7" fill="#000"/>
<path d="M1693.1,1967.2 V1970.3" stroke="#444" stroke-width="0.8"/><circle cx="1693.1" cy="1968.8" r="1.7" fill="#000"/>
<path d="M1703.4,1967.8 V1970.9" stroke="#444" stroke-width="0.8"/><circle cx="1703.4" cy="1969.4" r="1.7" fill="#000"/>
<path d="M1713.4,1967.2 V1970.3" stroke="#444" stroke-width="0.8"/><circle cx="1713.4" cy="1968.8" r="1.7" fill="#000"/>
<path d="M1723.8,1971.2 V1974.4" stroke="#444" stroke-width="0.8"/><circle cx="1723.8" cy="1972.8" r="1.7" fill="#000"/>
<path d="M1733.8,1969.1 V1972.2" stroke="#444" stroke-width="0.8"/><circle cx="1733.8" cy="1970.6" r="1.7" fill="#000"/>
<path d="M1744.1,1966.9 V1970.6" stroke="#444" stroke-width="0.8"/><circle cx="1744.1" cy="1968.8" r="1.7" fill="#000"/>
<path d="M1754.1,1970.0 V1973.8" stroke="#444" stroke-width="0.8"/><circle cx="1754.1" cy="1971.9" r="1.7" fill="#000"/>
<path d="M1764.4,1969.1 V1973.4" stroke="#444" stroke-width="0.8"/><circle cx="1764.4" cy="1971.2" r="1.7" fill="#000"/>
<path d="M1774.4,1965.6 V1970.6" stroke="#444" stroke-width="0.8"/><circle cx="1774.4" cy="1968.1" r="1.7" fill="#000"/>
<path d="M1784.7,1962.8 V1969.1" stroke="#444" stroke-width="0.8"/><circle cx="1784.7" cy="1965.9" r="1.7" fill="#000"/>
<path d="M1794.7,1969.4 V1978.1" stroke="#444" stroke-width="0.8"/><circle cx="1794.7" cy="1973.8" r="1.7" fill="#000"/>
<path d="M1805.0,1964.1 V1976.6" stroke="#444" stroke-width="0.8"/><circle cx="1805.0" cy="1970.3" r="1.7" fill="#000"/>
<path d="M1815.0,1964.7 V1980.3" stroke="#444" stroke-width="0.8"/><circle cx="1815.0" cy="1972.5" r="1.7" fill="#000"/>
<path d="M1825.3,1963.1 V1983.1" stroke="#444" stroke-width="0.8"/><circle cx="1825.3" cy="1973.1" r="1.7" fill="#000"/>
<path d="M1835.3,1968.8 V1993.8" stroke="#444" stroke-width="0.8"/><circle cx="1835.3" cy="1981.2" r="1.7" fill="#000"/>
<path d="M1846.2,1960.0 V2000.6" stroke="#444" stroke-width="0.8"/><circle cx="1846.2" cy="1980.3" r="1.7" fill="#000"/>
<path d="M1856.6,1931.6 V2000.3" stroke="#444" stroke-width="0.8"/><circle cx="1856.6" cy="1965.9" r="1.7" fill="#000"/>
<path d="M1866.6,1924.4 V2005.6" stroke="#444" stroke-width="0.8"/><circle cx="1866.6" cy="1965.0" r="1.7" fill="#000"/>
<path d="M1887.5,1953.4 V1953.4" stroke="#444" stroke-width="0.8"/><circle cx="1887.5" cy="1953.4" r="1.7" fill="#000"/>
</g>
<rect x="1504.7" y="1905.0" width="407.8" height="125.0" fill="none" stroke="#666" stroke-width="1"/>
<text x="1018" y="1911" font-size="16.5" class="r" text-anchor="end" textLength="24" lengthAdjust="spacingAndGlyphs">2.0</text>
<text x="1018" y="1942.9" font-size="16.5" class="r" text-anchor="end" textLength="24" lengthAdjust="spacingAndGlyphs">1.5</text>
<text x="1018" y="1974.8" font-size="16.5" class="r" text-anchor="end" textLength="24" lengthAdjust="spacingAndGlyphs">1.0</text>
<text x="1018" y="2006.7" font-size="16.5" class="r" text-anchor="end" textLength="24" lengthAdjust="spacingAndGlyphs">0.5</text>
<text x="1500.5" y="1911" font-size="16.5" class="r" text-anchor="end" textLength="24" lengthAdjust="spacingAndGlyphs">2.0</text>
<text x="1500.5" y="1943.5" font-size="16.5" class="r" text-anchor="end" textLength="24" lengthAdjust="spacingAndGlyphs">1.5</text>
<text x="1500.5" y="1975.7" font-size="16.5" class="r" text-anchor="end" textLength="24" lengthAdjust="spacingAndGlyphs">1.0</text>
<text x="1500.5" y="2007.9" font-size="16.5" class="r" text-anchor="end" textLength="24" lengthAdjust="spacingAndGlyphs">0.5</text>
<text x="1039.2" y="2044.4" font-size="16.5" class="r" text-anchor="middle" textLength="38" lengthAdjust="spacingAndGlyphs">−1.5</text>
<text x="1132" y="2044.4" font-size="16.5" class="r" text-anchor="middle" textLength="38" lengthAdjust="spacingAndGlyphs">−1.0</text>
<text x="1224.8" y="2044.4" font-size="16.5" class="r" text-anchor="middle" textLength="38" lengthAdjust="spacingAndGlyphs">−0.5</text>
<text x="1317.6" y="2044.4" font-size="16.5" class="r" text-anchor="middle" textLength="24" lengthAdjust="spacingAndGlyphs">0.0</text>
<text x="1410.4" y="2044.4" font-size="16.5" class="r" text-anchor="middle" textLength="24" lengthAdjust="spacingAndGlyphs">0.5</text>
<text x="1528.9" y="2045.3" font-size="16.5" class="r" text-anchor="middle" textLength="38" lengthAdjust="spacingAndGlyphs">−1.0</text>
<text x="1583.8" y="2045.3" font-size="16.5" class="r" text-anchor="middle" textLength="38" lengthAdjust="spacingAndGlyphs">−0.5</text>
<text x="1638.6" y="2045.3" font-size="16.5" class="r" text-anchor="middle" textLength="24" lengthAdjust="spacingAndGlyphs">0.0</text>
<text x="1693.4" y="2045.3" font-size="16.5" class="r" text-anchor="middle" textLength="24" lengthAdjust="spacingAndGlyphs">0.5</text>
<text x="1748.3" y="2045.3" font-size="16.5" class="r" text-anchor="middle" textLength="24" lengthAdjust="spacingAndGlyphs">1.0</text>
<text x="1803.1" y="2045.3" font-size="16.5" class="r" text-anchor="middle" textLength="24" lengthAdjust="spacingAndGlyphs">1.5</text>
<text x="1858" y="2045.3" font-size="16.5" class="r" text-anchor="middle" textLength="24" lengthAdjust="spacingAndGlyphs">2.0</text>
<text x="1912.5" y="2045.3" font-size="16.5" class="r" text-anchor="middle" textLength="24" lengthAdjust="spacingAndGlyphs">2.5</text>
<text x="1173.4" y="2065.8" font-size="24.5" class="r" textLength="110.1" lengthAdjust="spacingAndGlyphs">Feature 1</text>
<text x="1654" y="2068.8" font-size="24.5" class="r" textLength="107.9" lengthAdjust="spacingAndGlyphs">Feature 2</text>
<text transform="translate(974.0,1771.5) rotate(-90)" font-size="24.5" class="r" text-anchor="middle" textLength="76" lengthAdjust="spacingAndGlyphs">events</text>
<text transform="translate(986.0,1967.0) rotate(-90)" font-size="24.5" class="r" text-anchor="middle" textLength="56" lengthAdjust="spacingAndGlyphs">ratio</text>
<text transform="translate(1458.0,1771.5) rotate(-90)" font-size="24.5" class="r" text-anchor="middle" textLength="76" lengthAdjust="spacingAndGlyphs">events</text>
<text transform="translate(1470.0,1967.0) rotate(-90)" font-size="24.5" class="r" text-anchor="middle" textLength="56" lengthAdjust="spacingAndGlyphs">ratio</text>

<!-- 52_hist.svg -->
<rect x="577.8" y="2159.4" width="564.0" height="531.8" fill="#fff"/>
<path d="M603.1,2691.2 V2667.9 H620.3 V2667.9 H637.4 V2667.9 H654.5 V2691.2 H671.7 V2667.9 H688.8 V2621.3 H705.9 V2644.6 H723.1 V2551.3 H740.2 V2388.1 H757.3 V2294.8 H774.5 V2458.1 H791.6 V2411.4 H808.7 V2434.7 H825.9 V2574.6 H843.0 V2574.6 H860.1 V2621.3 H877.3 V2644.6 H894.4 V2644.6 H911.5 V2691.2 H928.7 V2644.6 H945.8 V2691.2 H962.9 V2691.2 H980.1 V2667.9 H997.2 V2691.2 H1014.3 V2691.2 H1031.5 V2667.9 H1048.6 V2691.2 H1065.7 V2691.2 H1082.8 V2691.2 H1100.0 V2691.2 H1117.1 V2691.2 Z" fill="#e89cee" fill-opacity="0.6"/>
<path d="M603.1,2691.2 V2644.6 H620.3 V2691.2 H637.4 V2691.2 H654.5 V2691.2 H671.7 V2667.9 H688.8 V2667.9 H705.9 V2667.9 H723.1 V2621.3 H740.2 V2644.6 H757.3 V2644.6 H774.5 V2551.3 H791.6 V2481.4 H808.7 V2388.1 H825.9 V2434.7 H843.0 V2434.7 H860.1 V2481.4 H877.3 V2597.9 H894.4 V2574.6 H911.5 V2551.3 H928.7 V2644.6 H945.8 V2621.3 H962.9 V2644.6 H980.1 V2667.9 H997.2 V2667.9 H1014.3 V2667.9 H1031.5 V2667.9 H1048.6 V2691.2 H1065.7 V2691.2 H1082.8 V2691.2 H1100.0 V2644.6 H1117.1 V2691.2 Z" fill="#7ab6dc" fill-opacity="0.6"/>
<clipPath id="hc"><rect x="577.8" y="2159.4" width="564.0" height="531.8"/></clipPath><g clip-path="url(#hc)">
<path d="M611.7,2644.6 V2691.2 M609.7,2644.6 h4 M609.7,2691.2 h4" stroke="#d6a6ee" stroke-width="1" fill="none"/>
<circle cx="611.7" cy="2667.9" r="2.6" fill="#a050dc" stroke="#7a3cb8" stroke-width="0.6"/>
<path d="M628.8,2644.6 V2691.2 M626.8,2644.6 h4 M626.8,2691.2 h4" stroke="#d6a6ee" stroke-width="1" fill="none"/>
<circle cx="628.8" cy="2667.9" r="2.6" fill="#a050dc" stroke="#7a3cb8" stroke-width="0.6"/>
<path d="M646.0,2644.6 V2691.2 M644.0,2644.6 h4 M644.0,2691.2 h4" stroke="#d6a6ee" stroke-width="1" fill="none"/>
<circle cx="646.0" cy="2667.9" r="2.6" fill="#a050dc" stroke="#7a3cb8" stroke-width="0.6"/>
<circle cx="663.1" cy="2691.2" r="2.6" fill="#a050dc" stroke="#7a3cb8" stroke-width="0.6"/>
<path d="M680.2,2644.6 V2691.2 M678.2,2644.6 h4 M678.2,2691.2 h4" stroke="#d6a6ee" stroke-width="1" fill="none"/>
<circle cx="680.2" cy="2667.9" r="2.6" fill="#a050dc" stroke="#7a3cb8" stroke-width="0.6"/>
<path d="M697.4,2580.9 V2661.6 M695.4,2580.9 h4 M695.4,2661.6 h4" stroke="#d6a6ee" stroke-width="1" fill="none"/>
<circle cx="697.4" cy="2621.3" r="2.6" fill="#a050dc" stroke="#7a3cb8" stroke-width="0.6"/>
<path d="M714.5,2611.6 V2677.5 M712.5,2611.6 h4 M712.5,2677.5 h4" stroke="#d6a6ee" stroke-width="1" fill="none"/>
<circle cx="714.5" cy="2644.6" r="2.6" fill="#a050dc" stroke="#7a3cb8" stroke-width="0.6"/>
<path d="M731.6,2494.2 V2608.4 M729.6,2494.2 h4 M729.6,2608.4 h4" stroke="#d6a6ee" stroke-width="1" fill="none"/>
<circle cx="731.6" cy="2551.3" r="2.6" fill="#a050dc" stroke="#7a3cb8" stroke-width="0.6"/>
<path d="M748.8,2304.0 V2472.2 M746.8,2304.0 h4 M746.8,2472.2 h4" stroke="#d6a6ee" stroke-width="1" fill="none"/>
<circle cx="748.8" cy="2388.1" r="2.6" fill="#a050dc" stroke="#7a3cb8" stroke-width="0.6"/>
<path d="M765.9,2198.7 V2391.0 M763.9,2198.7 h4 M763.9,2391.0 h4" stroke="#d6a6ee" stroke-width="1" fill="none"/>
<circle cx="765.9" cy="2294.8" r="2.6" fill="#a050dc" stroke="#7a3cb8" stroke-width="0.6"/>
<path d="M783.0,2384.3 V2531.8 M781.0,2384.3 h4 M781.0,2531.8 h4" stroke="#d6a6ee" stroke-width="1" fill="none"/>
<circle cx="783.0" cy="2458.1" r="2.6" fill="#a050dc" stroke="#7a3cb8" stroke-width="0.6"/>
<path d="M800.2,2330.7 V2492.2 M798.2,2330.7 h4 M798.2,2492.2 h4" stroke="#d6a6ee" stroke-width="1" fill="none"/>
<circle cx="800.2" cy="2411.4" r="2.6" fill="#a050dc" stroke="#7a3cb8" stroke-width="0.6"/>
<path d="M817.3,2357.4 V2512.1 M815.3,2357.4 h4 M815.3,2512.1 h4" stroke="#d6a6ee" stroke-width="1" fill="none"/>
<circle cx="817.3" cy="2434.7" r="2.6" fill="#a050dc" stroke="#7a3cb8" stroke-width="0.6"/>
<path d="M834.4,2522.5 V2626.8 M832.4,2522.5 h4 M832.4,2626.8 h4" stroke="#d6a6ee" stroke-width="1" fill="none"/>
<circle cx="834.4" cy="2574.6" r="2.6" fill="#a050dc" stroke="#7a3cb8" stroke-width="0.6"/>
<path d="M851.6,2522.5 V2626.8 M849.6,2522.5 h4 M849.6,2626.8 h4" stroke="#d6a6ee" stroke-width="1" fill="none"/>
<circle cx="851.6" cy="2574.6" r="2.6" fill="#a050dc" stroke="#7a3cb8" stroke-width="0.6"/>
<path d="M868.7,2580.9 V2661.6 M866.7,2580.9 h4 M866.7,2661.6 h4" stroke="#d6a6ee" stroke-width="1" fill="none"/>
<circle cx="868.7" cy="2621.3" r="2.6" fill="#a050dc" stroke="#7a3cb8" stroke-width="0.6"/>
<path d="M885.8,2611.6 V2677.5 M883.8,2611.6 h4 M883.8,2677.5 h4" stroke="#d6a6ee" stroke-width="1" fill="none"/>
<circle cx="885.8" cy="2644.6" r="2.6" fill="#a050dc" stroke="#7a3cb8" stroke-width="0.6"/>
<path d="M903.0,2611.6 V2677.5 M901.0,2611.6 h4 M901.0,2677.5 h4" stroke="#d6a6ee" stroke-width="1" fill="none"/>
<circle cx="903.0" cy="2644.6" r="2.6" fill="#a050dc" stroke="#7a3cb8" stroke-width="0.6"/>
<circle cx="920.1" cy="2691.2" r="2.6" fill="#a050dc" stroke="#7a3cb8" stroke-width="0.6"/>
<path d="M937.2,2611.6 V2677.5 M935.2,2611.6 h4 M935.2,2677.5 h4" stroke="#d6a6ee" stroke-width="1" fill="none"/>
<circle cx="937.2" cy="2644.6" r="2.6" fill="#a050dc" stroke="#7a3cb8" stroke-width="0.6"/>
<circle cx="954.4" cy="2691.2" r="2.6" fill="#a050dc" stroke="#7a3cb8" stroke-width="0.6"/>
<circle cx="971.5" cy="2691.2" r="2.6" fill="#a050dc" stroke="#7a3cb8" stroke-width="0.6"/>
<path d="M988.6,2644.6 V2691.2 M986.6,2644.6 h4 M986.6,2691.2 h4" stroke="#d6a6ee" stroke-width="1" fill="none"/>
<circle cx="988.6" cy="2667.9" r="2.6" fill="#a050dc" stroke="#7a3cb8" stroke-width="0.6"/>
<circle cx="1005.8" cy="2691.2" r="2.6" fill="#a050dc" stroke="#7a3cb8" stroke-width="0.6"/>
<circle cx="1022.9" cy="2691.2" r="2.6" fill="#a050dc" stroke="#7a3cb8" stroke-width="0.6"/>
<path d="M1040.0,2644.6 V2691.2 M1038.0,2644.6 h4 M1038.0,2691.2 h4" stroke="#d6a6ee" stroke-width="1" fill="none"/>
<circle cx="1040.0" cy="2667.9" r="2.6" fill="#a050dc" stroke="#7a3cb8" stroke-width="0.6"/>
<circle cx="1057.2" cy="2691.2" r="2.6" fill="#a050dc" stroke="#7a3cb8" stroke-width="0.6"/>
<circle cx="1074.3" cy="2691.2" r="2.6" fill="#a050dc" stroke="#7a3cb8" stroke-width="0.6"/>
<circle cx="1091.4" cy="2691.2" r="2.6" fill="#a050dc" stroke="#7a3cb8" stroke-width="0.6"/>
<circle cx="1108.5" cy="2691.2" r="2.6" fill="#a050dc" stroke="#7a3cb8" stroke-width="0.6"/>
<path d="M611.7,2611.6 V2677.5 M609.7,2611.6 h4 M609.7,2677.5 h4" stroke="#74a6d2" stroke-width="1" fill="none"/>
<circle cx="611.7" cy="2644.6" r="2.6" fill="#2f6fb5" stroke="#1f4f90" stroke-width="0.6"/>
<circle cx="628.8" cy="2691.2" r="2.6" fill="#2f6fb5" stroke="#1f4f90" stroke-width="0.6"/>
<circle cx="646.0" cy="2691.2" r="2.6" fill="#2f6fb5" stroke="#1f4f90" stroke-width="0.6"/>
<circle cx="663.1" cy="2691.2" r="2.6" fill="#2f6fb5" stroke="#1f4f90" stroke-width="0.6"/>
<path d="M680.2,2644.6 V2691.2 M678.2,2644.6 h4 M678.2,2691.2 h4" stroke="#74a6d2" stroke-width="1" fill="none"/>
<circle cx="680.2" cy="2667.9" r="2.6" fill="#2f6fb5" stroke="#1f4f90" stroke-width="0.6"/>
<path d="M697.4,2644.6 V2691.2 M695.4,2644.6 h4 M695.4,2691.2 h4" stroke="#74a6d2" stroke-width="1" fill="none"/>
<circle cx="697.4" cy="2667.9" r="2.6" fill="#2f6fb5" stroke="#1f4f90" stroke-width="0.6"/>
<path d="M714.5,2644.6 V2691.2 M712.5,2644.6 h4 M712.5,2691.2 h4" stroke="#74a6d2" stroke-width="1" fill="none"/>
<circle cx="714.5" cy="2667.9" r="2.6" fill="#2f6fb5" stroke="#1f4f90" stroke-width="0.6"/>
<path d="M731.6,2580.9 V2661.6 M729.6,2580.9 h4 M729.6,2661.6 h4" stroke="#74a6d2" stroke-width="1" fill="none"/>
<circle cx="731.6" cy="2621.3" r="2.6" fill="#2f6fb5" stroke="#1f4f90" stroke-width="0.6"/>
<path d="M748.8,2611.6 V2677.5 M746.8,2611.6 h4 M746.8,2677.5 h4" stroke="#74a6d2" stroke-width="1" fill="none"/>
<circle cx="748.8" cy="2644.6" r="2.6" fill="#2f6fb5" stroke="#1f4f90" stroke-width="0.6"/>
<path d="M765.9,2611.6 V2677.5 M763.9,2611.6 h4 M763.9,2677.5 h4" stroke="#74a6d2" stroke-width="1" fill="none"/>
<circle cx="765.9" cy="2644.6" r="2.6" fill="#2f6fb5" stroke="#1f4f90" stroke-width="0.6"/>
<path d="M783.0,2494.2 V2608.4 M781.0,2494.2 h4 M781.0,2608.4 h4" stroke="#74a6d2" stroke-width="1" fill="none"/>
<circle cx="783.0" cy="2551.3" r="2.6" fill="#2f6fb5" stroke="#1f4f90" stroke-width="0.6"/>
<path d="M800.2,2411.4 V2551.3 M798.2,2411.4 h4 M798.2,2551.3 h4" stroke="#74a6d2" stroke-width="1" fill="none"/>
<circle cx="800.2" cy="2481.4" r="2.6" fill="#2f6fb5" stroke="#1f4f90" stroke-width="0.6"/>
<path d="M817.3,2304.0 V2472.2 M815.3,2304.0 h4 M815.3,2472.2 h4" stroke="#74a6d2" stroke-width="1" fill="none"/>
<circle cx="817.3" cy="2388.1" r="2.6" fill="#2f6fb5" stroke="#1f4f90" stroke-width="0.6"/>
<path d="M834.4,2357.4 V2512.1 M832.4,2357.4 h4 M832.4,2512.1 h4" stroke="#74a6d2" stroke-width="1" fill="none"/>
<circle cx="834.4" cy="2434.7" r="2.6" fill="#2f6fb5" stroke="#1f4f90" stroke-width="0.6"/>
<path d="M851.6,2357.4 V2512.1 M849.6,2357.4 h4 M849.6,2512.1 h4" stroke="#74a6d2" stroke-width="1" fill="none"/>
<circle cx="851.6" cy="2434.7" r="2.6" fill="#2f6fb5" stroke="#1f4f90" stroke-width="0.6"/>
<path d="M868.7,2411.4 V2551.3 M866.7,2411.4 h4 M866.7,2551.3 h4" stroke="#74a6d2" stroke-width="1" fill="none"/>
<circle cx="868.7" cy="2481.4" r="2.6" fill="#2f6fb5" stroke="#1f4f90" stroke-width="0.6"/>
<path d="M885.8,2551.3 V2644.6 M883.8,2551.3 h4 M883.8,2644.6 h4" stroke="#74a6d2" stroke-width="1" fill="none"/>
<circle cx="885.8" cy="2597.9" r="2.6" fill="#2f6fb5" stroke="#1f4f90" stroke-width="0.6"/>
<path d="M903.0,2522.5 V2626.8 M901.0,2522.5 h4 M901.0,2626.8 h4" stroke="#74a6d2" stroke-width="1" fill="none"/>
<circle cx="903.0" cy="2574.6" r="2.6" fill="#2f6fb5" stroke="#1f4f90" stroke-width="0.6"/>
<path d="M920.1,2494.2 V2608.4 M918.1,2494.2 h4 M918.1,2608.4 h4" stroke="#74a6d2" stroke-width="1" fill="none"/>
<circle cx="920.1" cy="2551.3" r="2.6" fill="#2f6fb5" stroke="#1f4f90" stroke-width="0.6"/>
<path d="M937.2,2611.6 V2677.5 M935.2,2611.6 h4 M935.2,2677.5 h4" stroke="#74a6d2" stroke-width="1" fill="none"/>
<circle cx="937.2" cy="2644.6" r="2.6" fill="#2f6fb5" stroke="#1f4f90" stroke-width="0.6"/>
<path d="M954.4,2580.9 V2661.6 M952.4,2580.9 h4 M952.4,2661.6 h4" stroke="#74a6d2" stroke-width="1" fill="none"/>
<circle cx="954.4" cy="2621.3" r="2.6" fill="#2f6fb5" stroke="#1f4f90" stroke-width="0.6"/>
<path d="M971.5,2611.6 V2677.5 M969.5,2611.6 h4 M969.5,2677.5 h4" stroke="#74a6d2" stroke-width="1" fill="none"/>
<circle cx="971.5" cy="2644.6" r="2.6" fill="#2f6fb5" stroke="#1f4f90" stroke-width="0.6"/>
<path d="M988.6,2644.6 V2691.2 M986.6,2644.6 h4 M986.6,2691.2 h4" stroke="#74a6d2" stroke-width="1" fill="none"/>
<circle cx="988.6" cy="2667.9" r="2.6" fill="#2f6fb5" stroke="#1f4f90" stroke-width="0.6"/>
<path d="M1005.8,2644.6 V2691.2 M1003.8,2644.6 h4 M1003.8,2691.2 h4" stroke="#74a6d2" stroke-width="1" fill="none"/>
<circle cx="1005.8" cy="2667.9" r="2.6" fill="#2f6fb5" stroke="#1f4f90" stroke-width="0.6"/>
<path d="M1022.9,2644.6 V2691.2 M1020.9,2644.6 h4 M1020.9,2691.2 h4" stroke="#74a6d2" stroke-width="1" fill="none"/>
<circle cx="1022.9" cy="2667.9" r="2.6" fill="#2f6fb5" stroke="#1f4f90" stroke-width="0.6"/>
<path d="M1040.0,2644.6 V2691.2 M1038.0,2644.6 h4 M1038.0,2691.2 h4" stroke="#74a6d2" stroke-width="1" fill="none"/>
<circle cx="1040.0" cy="2667.9" r="2.6" fill="#2f6fb5" stroke="#1f4f90" stroke-width="0.6"/>
<circle cx="1057.2" cy="2691.2" r="2.6" fill="#2f6fb5" stroke="#1f4f90" stroke-width="0.6"/>
<circle cx="1074.3" cy="2691.2" r="2.6" fill="#2f6fb5" stroke="#1f4f90" stroke-width="0.6"/>
<circle cx="1091.4" cy="2691.2" r="2.6" fill="#2f6fb5" stroke="#1f4f90" stroke-width="0.6"/>
<path d="M1108.5,2611.6 V2677.5 M1106.5,2611.6 h4 M1106.5,2677.5 h4" stroke="#74a6d2" stroke-width="1" fill="none"/>
<circle cx="1108.5" cy="2644.6" r="2.6" fill="#2f6fb5" stroke="#1f4f90" stroke-width="0.6"/>
</g>
<rect x="577.8" y="2159.4" width="564.0" height="531.8" fill="none" stroke="#333" stroke-width="1"/>
<path d="M577.8,2691.2 h5 M1141.8,2691.2 h-5 M577.8,2632.1 h5 M1141.8,2632.1 h-5 M577.8,2573.0 h5 M1141.8,2573.0 h-5 M577.8,2513.9 h5 M1141.8,2513.9 h-5 M577.8,2454.8 h5 M1141.8,2454.8 h-5 M577.8,2395.7 h5 M1141.8,2395.7 h-5 M577.8,2336.6 h5 M1141.8,2336.6 h-5 M577.8,2277.5 h5 M1141.8,2277.5 h-5 M577.8,2218.4 h5 M1141.8,2218.4 h-5 M577.8,2159.3 h5 M1141.8,2159.3 h-5 M639.4,2691.2 v-5 M639.4,2159.4 v5 M706.3,2691.2 v-5 M706.3,2159.4 v5 M773.2,2691.2 v-5 M773.2,2159.4 v5 M840.1,2691.2 v-5 M840.1,2159.4 v5 M907.0,2691.2 v-5 M907.0,2159.4 v5 M973.9,2691.2 v-5 M973.9,2159.4 v5 M1040.8,2691.2 v-5 M1040.8,2159.4 v5 M1107.7,2691.2 v-5 M1107.7,2159.4 v5 " stroke="#333" stroke-width="0.9" fill="none"/>
<text x="571.6" y="2697.5" font-size="21.3" text-anchor="end" textLength="49.2" lengthAdjust="spacingAndGlyphs">0.00</text>
<text x="571.6" y="2638.4" font-size="21.3" text-anchor="end" textLength="49.2" lengthAdjust="spacingAndGlyphs">0.01</text>
<text x="571.6" y="2579.3" font-size="21.3" text-anchor="end" textLength="49.2" lengthAdjust="spacingAndGlyphs">0.02</text>
<text x="571.6" y="2520.2" font-size="21.3" text-anchor="end" textLength="49.2" lengthAdjust="spacingAndGlyphs">0.03</text>
<text x="571.6" y="2461.1" font-size="21.3" text-anchor="end" textLength="49.2" lengthAdjust="spacingAndGlyphs">0.04</text>
<text x="571.6" y="2402" font-size="21.3" text-anchor="end" textLength="49.2" lengthAdjust="spacingAndGlyphs">0.05</text>
<text x="571.6" y="2342.9" font-size="21.3" text-anchor="end" textLength="49.2" lengthAdjust="spacingAndGlyphs">0.06</text>
<text x="571.6" y="2283.8" font-size="21.3" text-anchor="end" textLength="49.2" lengthAdjust="spacingAndGlyphs">0.07</text>
<text x="571.6" y="2224.7" font-size="21.3" text-anchor="end" textLength="49.2" lengthAdjust="spacingAndGlyphs">0.08</text>
<text x="571.6" y="2165.6" font-size="21.3" text-anchor="end" textLength="49.2" lengthAdjust="spacingAndGlyphs">0.09</text>
<text x="639.4" y="2712.4" font-size="21.3" text-anchor="middle" textLength="41.2" lengthAdjust="spacingAndGlyphs">640</text>
<text x="706.3" y="2712.4" font-size="21.3" text-anchor="middle" textLength="41.2" lengthAdjust="spacingAndGlyphs">650</text>
<text x="773.2" y="2712.4" font-size="21.3" text-anchor="middle" textLength="41.2" lengthAdjust="spacingAndGlyphs">660</text>
<text x="840.1" y="2712.4" font-size="21.3" text-anchor="middle" textLength="41.2" lengthAdjust="spacingAndGlyphs">670</text>
<text x="907" y="2712.4" font-size="21.3" text-anchor="middle" textLength="41.2" lengthAdjust="spacingAndGlyphs">680</text>
<text x="973.9" y="2712.4" font-size="21.3" text-anchor="middle" textLength="41.2" lengthAdjust="spacingAndGlyphs">690</text>
<text x="1040.8" y="2712.4" font-size="21.3" text-anchor="middle" textLength="41.2" lengthAdjust="spacingAndGlyphs">700</text>
<text x="1107.7" y="2712.4" font-size="21.3" text-anchor="middle" textLength="41.2" lengthAdjust="spacingAndGlyphs">710</text>
<text x="854.5" y="2748.7" font-size="37" class="ri">t</text>
<text x="1107.8" y="2730" font-size="14" textLength="34" lengthAdjust="spacingAndGlyphs">+1e4</text>
<text transform="translate(511,2426) rotate(-90)" font-size="35" class="r" text-anchor="middle" textLength="184" lengthAdjust="spacingAndGlyphs">Probability</text>
<text x="565.7" y="2144.5" font-size="35.5" class="r" textLength="588.7" lengthAdjust="spacingAndGlyphs">Ensemble with uncertainty modeling</text>
<rect x="775.9" y="2174.7" width="30.7" height="12.1" fill="#f1c4f5"/>
<text x="820.6" y="2186.4" font-size="17.5" class="r" textLength="140.6" lengthAdjust="spacingAndGlyphs">REF (ensemble)</text>
<rect x="775.9" y="2197" width="30.7" height="11.9" fill="#afd3ea"/>
<text x="820.6" y="2207.8" font-size="17.5" class="r" textLength="306.8" lengthAdjust="spacingAndGlyphs">DATA (target distribution samples)</text>

<!-- 60_qr.svg -->
<path d="M111.45,2618.10h41.02v5.99h-41.02zM158.16,2618.10h5.99v5.99h-5.99zM193.20,2618.10h5.99v5.99h-5.99zM204.87,2618.10h5.99v5.99h-5.99zM216.55,2618.10h11.83v5.99h-11.83zM234.07,2618.10h41.02v5.99h-41.02zM286.62,2618.10h5.99v5.99h-5.99zM309.98,2618.10h41.02v5.99h-41.02zM111.45,2623.94h5.99v5.99h-5.99zM146.48,2623.94h5.99v5.99h-5.99zM158.16,2623.94h35.18v5.99h-35.18zM204.87,2623.94h11.83v5.99h-11.83zM245.75,2623.94h5.99v5.99h-5.99zM257.43,2623.94h29.35v5.99h-29.35zM309.98,2623.94h5.99v5.99h-5.99zM345.01,2623.94h5.99v5.99h-5.99zM111.45,2629.78h5.99v5.99h-5.99zM123.13,2629.78h17.67v5.99h-17.67zM146.48,2629.78h5.99v5.99h-5.99zM164.00,2629.78h5.99v5.99h-5.99zM175.68,2629.78h5.99v5.99h-5.99zM187.36,2629.78h5.99v5.99h-5.99zM199.04,2629.78h11.83v5.99h-11.83zM216.55,2629.78h11.83v5.99h-11.83zM245.75,2629.78h17.67v5.99h-17.67zM269.10,2629.78h5.99v5.99h-5.99zM280.78,2629.78h5.99v5.99h-5.99zM309.98,2629.78h5.99v5.99h-5.99zM321.65,2629.78h17.67v5.99h-17.67zM345.01,2629.78h5.99v5.99h-5.99zM111.45,2635.62h5.99v5.99h-5.99zM123.13,2635.62h17.67v5.99h-17.67zM146.48,2635.62h5.99v5.99h-5.99zM158.16,2635.62h5.99v5.99h-5.99zM169.84,2635.62h11.83v5.99h-11.83zM187.36,2635.62h11.83v5.99h-11.83zM204.87,2635.62h5.99v5.99h-5.99zM239.91,2635.62h5.99v5.99h-5.99zM257.43,2635.62h11.83v5.99h-11.83zM280.78,2635.62h5.99v5.99h-5.99zM292.46,2635.62h5.99v5.99h-5.99zM309.98,2635.62h5.99v5.99h-5.99zM321.65,2635.62h17.67v5.99h-17.67zM345.01,2635.62h5.99v5.99h-5.99zM111.45,2641.46h5.99v5.99h-5.99zM123.13,2641.46h17.67v5.99h-17.67zM146.48,2641.46h5.99v5.99h-5.99zM158.16,2641.46h5.99v5.99h-5.99zM175.68,2641.46h17.67v5.99h-17.67zM204.87,2641.46h23.51v5.99h-23.51zM251.59,2641.46h17.67v5.99h-17.67zM274.94,2641.46h5.99v5.99h-5.99zM309.98,2641.46h5.99v5.99h-5.99zM321.65,2641.46h17.67v5.99h-17.67zM345.01,2641.46h5.99v5.99h-5.99zM111.45,2647.30h5.99v5.99h-5.99zM146.48,2647.30h5.99v5.99h-5.99zM158.16,2647.30h5.99v5.99h-5.99zM169.84,2647.30h5.99v5.99h-5.99zM181.52,2647.30h11.83v5.99h-11.83zM199.04,2647.30h17.67v5.99h-17.67zM222.39,2647.30h5.99v5.99h-5.99zM239.91,2647.30h5.99v5.99h-5.99zM251.59,2647.30h52.70v5.99h-52.70zM309.98,2647.30h5.99v5.99h-5.99zM345.01,2647.30h5.99v5.99h-5.99zM111.45,2653.13h41.02v5.99h-41.02zM158.16,2653.13h5.99v5.99h-5.99zM169.84,2653.13h5.99v5.99h-5.99zM181.52,2653.13h5.99v5.99h-5.99zM193.20,2653.13h5.99v5.99h-5.99zM204.87,2653.13h5.99v5.99h-5.99zM216.55,2653.13h5.99v5.99h-5.99zM228.23,2653.13h5.99v5.99h-5.99zM239.91,2653.13h5.99v5.99h-5.99zM251.59,2653.13h5.99v5.99h-5.99zM263.26,2653.13h5.99v5.99h-5.99zM274.94,2653.13h5.99v5.99h-5.99zM286.62,2653.13h5.99v5.99h-5.99zM298.30,2653.13h5.99v5.99h-5.99zM309.98,2653.13h41.02v5.99h-41.02zM164.00,2658.97h11.83v5.99h-11.83zM181.52,2658.97h5.99v5.99h-5.99zM216.55,2658.97h17.67v5.99h-17.67zM239.91,2658.97h5.99v5.99h-5.99zM251.59,2658.97h5.99v5.99h-5.99zM280.78,2658.97h11.83v5.99h-11.83zM298.30,2658.97h5.99v5.99h-5.99zM128.97,2664.81h5.99v5.99h-5.99zM146.48,2664.81h5.99v5.99h-5.99zM164.00,2664.81h5.99v5.99h-5.99zM175.68,2664.81h5.99v5.99h-5.99zM187.36,2664.81h17.67v5.99h-17.67zM210.71,2664.81h5.99v5.99h-5.99zM222.39,2664.81h5.99v5.99h-5.99zM239.91,2664.81h5.99v5.99h-5.99zM251.59,2664.81h11.83v5.99h-11.83zM269.10,2664.81h11.83v5.99h-11.83zM315.82,2664.81h17.67v5.99h-17.67zM339.17,2664.81h11.83v5.99h-11.83zM111.45,2670.65h5.99v5.99h-5.99zM123.13,2670.65h11.83v5.99h-11.83zM175.68,2670.65h11.83v5.99h-11.83zM193.20,2670.65h5.99v5.99h-5.99zM204.87,2670.65h11.83v5.99h-11.83zM239.91,2670.65h11.83v5.99h-11.83zM263.26,2670.65h5.99v5.99h-5.99zM274.94,2670.65h11.83v5.99h-11.83zM298.30,2670.65h5.99v5.99h-5.99zM309.98,2670.65h5.99v5.99h-5.99zM327.49,2670.65h11.83v5.99h-11.83zM345.01,2670.65h5.99v5.99h-5.99zM117.29,2676.49h5.99v5.99h-5.99zM128.97,2676.49h23.51v5.99h-23.51zM158.16,2676.49h11.83v5.99h-11.83zM199.04,2676.49h35.18v5.99h-35.18zM257.43,2676.49h5.99v5.99h-5.99zM274.94,2676.49h5.99v5.99h-5.99zM286.62,2676.49h11.83v5.99h-11.83zM315.82,2676.49h29.35v5.99h-29.35zM111.45,2682.33h5.99v5.99h-5.99zM134.81,2682.33h5.99v5.99h-5.99zM152.32,2682.33h5.99v5.99h-5.99zM164.00,2682.33h5.99v5.99h-5.99zM181.52,2682.33h5.99v5.99h-5.99zM193.20,2682.33h17.67v5.99h-17.67zM216.55,2682.33h5.99v5.99h-5.99zM234.07,2682.33h5.99v5.99h-5.99zM263.26,2682.33h17.67v5.99h-17.67zM286.62,2682.33h5.99v5.99h-5.99zM309.98,2682.33h11.83v5.99h-11.83zM333.33,2682.33h11.83v5.99h-11.83zM117.29,2688.17h5.99v5.99h-5.99zM146.48,2688.17h17.67v5.99h-17.67zM169.84,2688.17h5.99v5.99h-5.99zM187.36,2688.17h5.99v5.99h-5.99zM216.55,2688.17h5.99v5.99h-5.99zM234.07,2688.17h11.83v5.99h-11.83zM251.59,2688.17h11.83v5.99h-11.83zM280.78,2688.17h5.99v5.99h-5.99zM292.46,2688.17h11.83v5.99h-11.83zM309.98,2688.17h5.99v5.99h-5.99zM327.49,2688.17h5.99v5.99h-5.99zM339.17,2688.17h5.99v5.99h-5.99zM111.45,2694.01h5.99v5.99h-5.99zM123.13,2694.01h11.83v5.99h-11.83zM158.16,2694.01h5.99v5.99h-5.99zM169.84,2694.01h23.51v5.99h-23.51zM204.87,2694.01h5.99v5.99h-5.99zM222.39,2694.01h5.99v5.99h-5.99zM239.91,2694.01h11.83v5.99h-11.83zM263.26,2694.01h17.67v5.99h-17.67zM286.62,2694.01h5.99v5.99h-5.99zM298.30,2694.01h17.67v5.99h-17.67zM339.17,2694.01h5.99v5.99h-5.99zM140.65,2699.85h11.83v5.99h-11.83zM175.68,2699.85h11.83v5.99h-11.83zM204.87,2699.85h5.99v5.99h-5.99zM216.55,2699.85h11.83v5.99h-11.83zM234.07,2699.85h23.51v5.99h-23.51zM263.26,2699.85h5.99v5.99h-5.99zM280.78,2699.85h5.99v5.99h-5.99zM292.46,2699.85h5.99v5.99h-5.99zM309.98,2699.85h5.99v5.99h-5.99zM327.49,2699.85h23.51v5.99h-23.51zM111.45,2705.69h5.99v5.99h-5.99zM123.13,2705.69h17.67v5.99h-17.67zM187.36,2705.69h35.18v5.99h-35.18zM234.07,2705.69h11.83v5.99h-11.83zM257.43,2705.69h17.67v5.99h-17.67zM280.78,2705.69h5.99v5.99h-5.99zM298.30,2705.69h5.99v5.99h-5.99zM309.98,2705.69h5.99v5.99h-5.99zM321.65,2705.69h5.99v5.99h-5.99zM345.01,2705.69h5.99v5.99h-5.99zM111.45,2711.52h5.99v5.99h-5.99zM123.13,2711.52h5.99v5.99h-5.99zM140.65,2711.52h11.83v5.99h-11.83zM164.00,2711.52h5.99v5.99h-5.99zM187.36,2711.52h5.99v5.99h-5.99zM204.87,2711.52h5.99v5.99h-5.99zM222.39,2711.52h5.99v5.99h-5.99zM234.07,2711.52h11.83v5.99h-11.83zM251.59,2711.52h11.83v5.99h-11.83zM315.82,2711.52h5.99v5.99h-5.99zM327.49,2711.52h5.99v5.99h-5.99zM339.17,2711.52h11.83v5.99h-11.83zM123.13,2717.36h5.99v5.99h-5.99zM164.00,2717.36h5.99v5.99h-5.99zM175.68,2717.36h5.99v5.99h-5.99zM204.87,2717.36h5.99v5.99h-5.99zM216.55,2717.36h5.99v5.99h-5.99zM228.23,2717.36h5.99v5.99h-5.99zM245.75,2717.36h5.99v5.99h-5.99zM263.26,2717.36h5.99v5.99h-5.99zM274.94,2717.36h11.83v5.99h-11.83zM292.46,2717.36h5.99v5.99h-5.99zM309.98,2717.36h11.83v5.99h-11.83zM339.17,2717.36h11.83v5.99h-11.83zM111.45,2723.20h5.99v5.99h-5.99zM128.97,2723.20h5.99v5.99h-5.99zM146.48,2723.20h5.99v5.99h-5.99zM158.16,2723.20h23.51v5.99h-23.51zM187.36,2723.20h11.83v5.99h-11.83zM216.55,2723.20h5.99v5.99h-5.99zM245.75,2723.20h5.99v5.99h-5.99zM280.78,2723.20h5.99v5.99h-5.99zM298.30,2723.20h17.67v5.99h-17.67zM321.65,2723.20h5.99v5.99h-5.99zM339.17,2723.20h11.83v5.99h-11.83zM111.45,2729.04h17.67v5.99h-17.67zM134.81,2729.04h5.99v5.99h-5.99zM164.00,2729.04h5.99v5.99h-5.99zM193.20,2729.04h11.83v5.99h-11.83zM216.55,2729.04h11.83v5.99h-11.83zM234.07,2729.04h5.99v5.99h-5.99zM251.59,2729.04h29.35v5.99h-29.35zM292.46,2729.04h11.83v5.99h-11.83zM315.82,2729.04h5.99v5.99h-5.99zM327.49,2729.04h5.99v5.99h-5.99zM339.17,2729.04h5.99v5.99h-5.99zM117.29,2734.88h11.83v5.99h-11.83zM134.81,2734.88h17.67v5.99h-17.67zM158.16,2734.88h11.83v5.99h-11.83zM175.68,2734.88h11.83v5.99h-11.83zM204.87,2734.88h5.99v5.99h-5.99zM216.55,2734.88h5.99v5.99h-5.99zM228.23,2734.88h11.83v5.99h-11.83zM251.59,2734.88h11.83v5.99h-11.83zM274.94,2734.88h11.83v5.99h-11.83zM292.46,2734.88h5.99v5.99h-5.99zM304.14,2734.88h11.83v5.99h-11.83zM333.33,2734.88h11.83v5.99h-11.83zM111.45,2740.72h5.99v5.99h-5.99zM123.13,2740.72h11.83v5.99h-11.83zM152.32,2740.72h11.83v5.99h-11.83zM169.84,2740.72h11.83v5.99h-11.83zM193.20,2740.72h5.99v5.99h-5.99zM234.07,2740.72h11.83v5.99h-11.83zM298.30,2740.72h17.67v5.99h-17.67zM327.49,2740.72h23.51v5.99h-23.51zM117.29,2746.56h5.99v5.99h-5.99zM128.97,2746.56h29.35v5.99h-29.35zM169.84,2746.56h5.99v5.99h-5.99zM193.20,2746.56h5.99v5.99h-5.99zM204.87,2746.56h17.67v5.99h-17.67zM234.07,2746.56h17.67v5.99h-17.67zM257.43,2746.56h11.83v5.99h-11.83zM274.94,2746.56h5.99v5.99h-5.99zM286.62,2746.56h11.83v5.99h-11.83zM304.14,2746.56h5.99v5.99h-5.99zM315.82,2746.56h11.83v5.99h-11.83zM333.33,2746.56h11.83v5.99h-11.83zM111.45,2752.40h5.99v5.99h-5.99zM128.97,2752.40h17.67v5.99h-17.67zM152.32,2752.40h5.99v5.99h-5.99zM181.52,2752.40h11.83v5.99h-11.83zM204.87,2752.40h5.99v5.99h-5.99zM216.55,2752.40h11.83v5.99h-11.83zM234.07,2752.40h17.67v5.99h-17.67zM263.26,2752.40h5.99v5.99h-5.99zM286.62,2752.40h23.51v5.99h-23.51zM321.65,2752.40h5.99v5.99h-5.99zM333.33,2752.40h5.99v5.99h-5.99zM111.45,2758.24h11.83v5.99h-11.83zM134.81,2758.24h29.35v5.99h-29.35zM199.04,2758.24h23.51v5.99h-23.51zM234.07,2758.24h5.99v5.99h-5.99zM263.26,2758.24h5.99v5.99h-5.99zM280.78,2758.24h5.99v5.99h-5.99zM298.30,2758.24h17.67v5.99h-17.67zM327.49,2758.24h5.99v5.99h-5.99zM345.01,2758.24h5.99v5.99h-5.99zM111.45,2764.08h17.67v5.99h-17.67zM134.81,2764.08h11.83v5.99h-11.83zM164.00,2764.08h5.99v5.99h-5.99zM204.87,2764.08h5.99v5.99h-5.99zM216.55,2764.08h11.83v5.99h-11.83zM234.07,2764.08h5.99v5.99h-5.99zM257.43,2764.08h5.99v5.99h-5.99zM280.78,2764.08h17.67v5.99h-17.67zM309.98,2764.08h5.99v5.99h-5.99zM327.49,2764.08h5.99v5.99h-5.99zM339.17,2764.08h5.99v5.99h-5.99zM111.45,2769.91h5.99v5.99h-5.99zM123.13,2769.91h5.99v5.99h-5.99zM134.81,2769.91h5.99v5.99h-5.99zM146.48,2769.91h11.83v5.99h-11.83zM164.00,2769.91h35.18v5.99h-35.18zM204.87,2769.91h5.99v5.99h-5.99zM216.55,2769.91h5.99v5.99h-5.99zM239.91,2769.91h5.99v5.99h-5.99zM263.26,2769.91h5.99v5.99h-5.99zM274.94,2769.91h5.99v5.99h-5.99zM286.62,2769.91h5.99v5.99h-5.99zM298.30,2769.91h11.83v5.99h-11.83zM315.82,2769.91h5.99v5.99h-5.99zM339.17,2769.91h11.83v5.99h-11.83zM123.13,2775.75h5.99v5.99h-5.99zM134.81,2775.75h5.99v5.99h-5.99zM158.16,2775.75h5.99v5.99h-5.99zM181.52,2775.75h5.99v5.99h-5.99zM193.20,2775.75h11.83v5.99h-11.83zM210.71,2775.75h5.99v5.99h-5.99zM222.39,2775.75h11.83v5.99h-11.83zM239.91,2775.75h5.99v5.99h-5.99zM257.43,2775.75h17.67v5.99h-17.67zM280.78,2775.75h5.99v5.99h-5.99zM298.30,2775.75h29.35v5.99h-29.35zM128.97,2781.59h5.99v5.99h-5.99zM146.48,2781.59h17.67v5.99h-17.67zM169.84,2781.59h5.99v5.99h-5.99zM181.52,2781.59h11.83v5.99h-11.83zM204.87,2781.59h17.67v5.99h-17.67zM234.07,2781.59h11.83v5.99h-11.83zM251.59,2781.59h5.99v5.99h-5.99zM263.26,2781.59h11.83v5.99h-11.83zM280.78,2781.59h5.99v5.99h-5.99zM304.14,2781.59h11.83v5.99h-11.83zM117.29,2787.43h29.35v5.99h-29.35zM158.16,2787.43h5.99v5.99h-5.99zM175.68,2787.43h11.83v5.99h-11.83zM204.87,2787.43h5.99v5.99h-5.99zM234.07,2787.43h11.83v5.99h-11.83zM263.26,2787.43h23.51v5.99h-23.51zM292.46,2787.43h17.67v5.99h-17.67zM339.17,2787.43h11.83v5.99h-11.83zM111.45,2793.27h5.99v5.99h-5.99zM123.13,2793.27h11.83v5.99h-11.83zM140.65,2793.27h11.83v5.99h-11.83zM158.16,2793.27h11.83v5.99h-11.83zM175.68,2793.27h17.67v5.99h-17.67zM199.04,2793.27h17.67v5.99h-17.67zM228.23,2793.27h23.51v5.99h-23.51zM257.43,2793.27h23.51v5.99h-23.51zM315.82,2793.27h17.67v5.99h-17.67zM339.17,2793.27h11.83v5.99h-11.83zM134.81,2799.11h11.83v5.99h-11.83zM152.32,2799.11h17.67v5.99h-17.67zM204.87,2799.11h29.35v5.99h-29.35zM239.91,2799.11h5.99v5.99h-5.99zM263.26,2799.11h5.99v5.99h-5.99zM280.78,2799.11h11.83v5.99h-11.83zM304.14,2799.11h5.99v5.99h-5.99zM321.65,2799.11h11.83v5.99h-11.83zM345.01,2799.11h5.99v5.99h-5.99zM111.45,2804.95h5.99v5.99h-5.99zM146.48,2804.95h5.99v5.99h-5.99zM169.84,2804.95h5.99v5.99h-5.99zM181.52,2804.95h5.99v5.99h-5.99zM204.87,2804.95h5.99v5.99h-5.99zM228.23,2804.95h35.18v5.99h-35.18zM269.10,2804.95h17.67v5.99h-17.67zM298.30,2804.95h29.35v5.99h-29.35zM333.33,2804.95h11.83v5.99h-11.83zM158.16,2810.79h5.99v5.99h-5.99zM169.84,2810.79h17.67v5.99h-17.67zM199.04,2810.79h5.99v5.99h-5.99zM228.23,2810.79h5.99v5.99h-5.99zM263.26,2810.79h5.99v5.99h-5.99zM274.94,2810.79h29.35v5.99h-29.35zM321.65,2810.79h5.99v5.99h-5.99zM333.33,2810.79h17.67v5.99h-17.67zM111.45,2816.63h41.02v5.99h-41.02zM164.00,2816.63h17.67v5.99h-17.67zM193.20,2816.63h5.99v5.99h-5.99zM210.71,2816.63h5.99v5.99h-5.99zM222.39,2816.63h17.67v5.99h-17.67zM251.59,2816.63h5.99v5.99h-5.99zM263.26,2816.63h5.99v5.99h-5.99zM274.94,2816.63h5.99v5.99h-5.99zM286.62,2816.63h17.67v5.99h-17.67zM309.98,2816.63h5.99v5.99h-5.99zM321.65,2816.63h5.99v5.99h-5.99zM111.45,2822.47h5.99v5.99h-5.99zM146.48,2822.47h5.99v5.99h-5.99zM164.00,2822.47h11.83v5.99h-11.83zM181.52,2822.47h5.99v5.99h-5.99zM199.04,2822.47h5.99v5.99h-5.99zM210.71,2822.47h17.67v5.99h-17.67zM234.07,2822.47h5.99v5.99h-5.99zM245.75,2822.47h17.67v5.99h-17.67zM274.94,2822.47h5.99v5.99h-5.99zM286.62,2822.47h5.99v5.99h-5.99zM298.30,2822.47h5.99v5.99h-5.99zM321.65,2822.47h5.99v5.99h-5.99zM333.33,2822.47h17.67v5.99h-17.67zM111.45,2828.30h5.99v5.99h-5.99zM123.13,2828.30h17.67v5.99h-17.67zM146.48,2828.30h5.99v5.99h-5.99zM164.00,2828.30h5.99v5.99h-5.99zM193.20,2828.30h5.99v5.99h-5.99zM204.87,2828.30h5.99v5.99h-5.99zM228.23,2828.30h5.99v5.99h-5.99zM251.59,2828.30h5.99v5.99h-5.99zM269.10,2828.30h11.83v5.99h-11.83zM286.62,2828.30h5.99v5.99h-5.99zM298.30,2828.30h29.35v5.99h-29.35zM333.33,2828.30h5.99v5.99h-5.99zM345.01,2828.30h5.99v5.99h-5.99zM111.45,2834.14h5.99v5.99h-5.99zM123.13,2834.14h17.67v5.99h-17.67zM146.48,2834.14h5.99v5.99h-5.99zM158.16,2834.14h17.67v5.99h-17.67zM187.36,2834.14h5.99v5.99h-5.99zM199.04,2834.14h35.18v5.99h-35.18zM263.26,2834.14h5.99v5.99h-5.99zM280.78,2834.14h35.18v5.99h-35.18zM321.65,2834.14h5.99v5.99h-5.99zM111.45,2839.98h5.99v5.99h-5.99zM123.13,2839.98h17.67v5.99h-17.67zM146.48,2839.98h5.99v5.99h-5.99zM181.52,2839.98h11.83v5.99h-11.83zM199.04,2839.98h17.67v5.99h-17.67zM222.39,2839.98h5.99v5.99h-5.99zM234.07,2839.98h5.99v5.99h-5.99zM263.26,2839.98h5.99v5.99h-5.99zM280.78,2839.98h5.99v5.99h-5.99zM292.46,2839.98h11.83v5.99h-11.83zM321.65,2839.98h17.67v5.99h-17.67zM345.01,2839.98h5.99v5.99h-5.99zM111.45,2845.82h5.99v5.99h-5.99zM146.48,2845.82h5.99v5.99h-5.99zM169.84,2845.82h11.83v5.99h-11.83zM193.20,2845.82h11.83v5.99h-11.83zM210.71,2845.82h5.99v5.99h-5.99zM222.39,2845.82h17.67v5.99h-17.67zM245.75,2845.82h11.83v5.99h-11.83zM269.10,2845.82h5.99v5.99h-5.99zM280.78,2845.82h5.99v5.99h-5.99zM292.46,2845.82h17.67v5.99h-17.67zM315.82,2845.82h5.99v5.99h-5.99zM339.17,2845.82h5.99v5.99h-5.99zM111.45,2851.66h41.02v5.99h-41.02zM169.84,2851.66h11.83v5.99h-11.83zM193.20,2851.66h5.99v5.99h-5.99zM222.39,2851.66h5.99v5.99h-5.99zM239.91,2851.66h11.83v5.99h-11.83zM280.78,2851.66h5.99v5.99h-5.99zM298.30,2851.66h5.99v5.99h-5.99zM309.98,2851.66h23.51v5.99h-23.51zM339.17,2851.66h5.99v5.99h-5.99z" fill="#000" shape-rendering="crispEdges"/>

</svg>
</body></html>
